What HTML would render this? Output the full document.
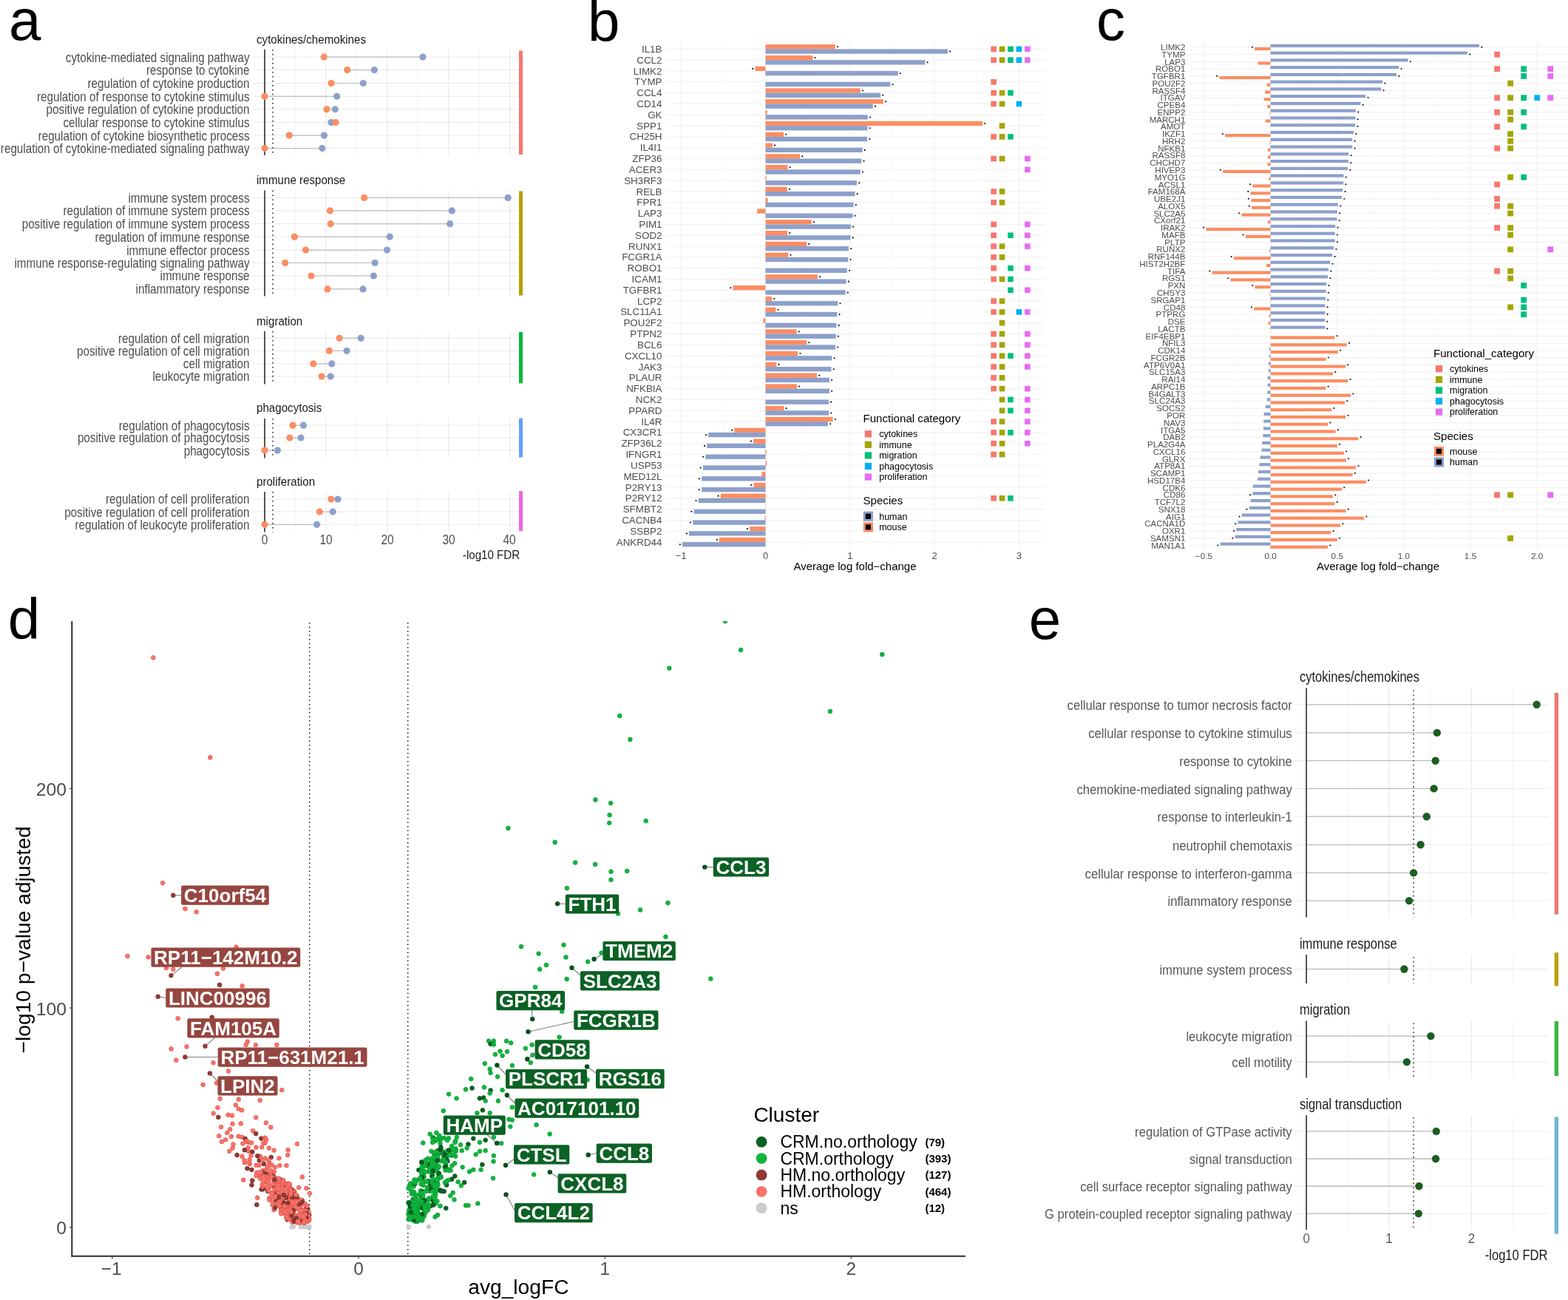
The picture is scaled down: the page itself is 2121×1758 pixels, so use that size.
<!DOCTYPE html>
<html lang="en">
<head>
<meta charset="utf-8">
<title>Figure</title>
<style>
html,body{margin:0;padding:0;background:#fff;}
body{width:2121px;height:1758px;overflow:hidden;}
svg{display:block;font-family:"Liberation Sans", Arial, Helvetica, sans-serif;}
</style>
</head>
<body>
<svg width="2121" height="1758" viewBox="0 0 2121 1758">
<rect width="2121" height="1758" fill="#fff"/>
<g id="panel-a">
<text x="12.1" y="54" font-size="78" fill="#000">a</text>
<line x1="399.5" y1="66" x2="399.5" y2="210" stroke="#EDEDED" stroke-width="0.6"/>
<line x1="441" y1="66" x2="441" y2="210" stroke="#E4E4E4" stroke-width="0.9"/>
<line x1="482.5" y1="66" x2="482.5" y2="210" stroke="#EDEDED" stroke-width="0.6"/>
<line x1="524" y1="66" x2="524" y2="210" stroke="#E4E4E4" stroke-width="0.9"/>
<line x1="565.5" y1="66" x2="565.5" y2="210" stroke="#EDEDED" stroke-width="0.6"/>
<line x1="607" y1="66" x2="607" y2="210" stroke="#E4E4E4" stroke-width="0.9"/>
<line x1="648.5" y1="66" x2="648.5" y2="210" stroke="#EDEDED" stroke-width="0.6"/>
<line x1="690" y1="66" x2="690" y2="210" stroke="#E4E4E4" stroke-width="0.9"/>
<line x1="342" y1="77.1" x2="700" y2="77.1" stroke="#E6E6E6" stroke-width="0.9"/>
<line x1="342" y1="94.6" x2="700" y2="94.6" stroke="#E6E6E6" stroke-width="0.9"/>
<line x1="342" y1="112.5" x2="700" y2="112.5" stroke="#E6E6E6" stroke-width="0.9"/>
<line x1="342" y1="130.3" x2="700" y2="130.3" stroke="#E6E6E6" stroke-width="0.9"/>
<line x1="342" y1="147.8" x2="700" y2="147.8" stroke="#E6E6E6" stroke-width="0.9"/>
<line x1="342" y1="165.6" x2="700" y2="165.6" stroke="#E6E6E6" stroke-width="0.9"/>
<line x1="342" y1="183.1" x2="700" y2="183.1" stroke="#E6E6E6" stroke-width="0.9"/>
<line x1="342" y1="200.6" x2="700" y2="200.6" stroke="#E6E6E6" stroke-width="0.9"/>
<line x1="438.2" y1="77.1" x2="571.9" y2="77.1" stroke="#BDBDBD" stroke-width="1.2"/>
<line x1="469.7" y1="94.6" x2="506.4" y2="94.6" stroke="#BDBDBD" stroke-width="1.2"/>
<line x1="448.1" y1="112.5" x2="491.3" y2="112.5" stroke="#BDBDBD" stroke-width="1.2"/>
<line x1="358" y1="130.3" x2="455.7" y2="130.3" stroke="#BDBDBD" stroke-width="1.2"/>
<line x1="442" y1="147.8" x2="453.3" y2="147.8" stroke="#BDBDBD" stroke-width="1.2"/>
<line x1="448.1" y1="165.6" x2="454" y2="165.6" stroke="#BDBDBD" stroke-width="1.2"/>
<line x1="391.2" y1="183.1" x2="438.5" y2="183.1" stroke="#BDBDBD" stroke-width="1.2"/>
<line x1="358" y1="200.6" x2="435.8" y2="200.6" stroke="#BDBDBD" stroke-width="1.2"/>
<line x1="358" y1="67" x2="358" y2="210" stroke="#2B2B2B" stroke-width="1.6"/>
<line x1="369" y1="67" x2="369" y2="210" stroke="#111111" stroke-width="1.5" stroke-dasharray="1.5 4.5"/>
<circle cx="438.2" cy="77.1" r="4.6" fill="#FC8D62"/>
<circle cx="571.9" cy="77.1" r="4.6" fill="#8DA0CB"/>
<text transform="translate(337.5 83.5) scale(0.86 1)" font-size="17.7" fill="#4D4D4D" text-anchor="end">cytokine-mediated signaling pathway</text>
<circle cx="469.7" cy="94.6" r="4.6" fill="#FC8D62"/>
<circle cx="506.4" cy="94.6" r="4.6" fill="#8DA0CB"/>
<text transform="translate(337.5 101) scale(0.86 1)" font-size="17.7" fill="#4D4D4D" text-anchor="end">response to cytokine</text>
<circle cx="448.1" cy="112.5" r="4.6" fill="#FC8D62"/>
<circle cx="491.3" cy="112.5" r="4.6" fill="#8DA0CB"/>
<text transform="translate(337.5 118.9) scale(0.86 1)" font-size="17.7" fill="#4D4D4D" text-anchor="end">regulation of cytokine production</text>
<circle cx="358" cy="130.3" r="4.6" fill="#FC8D62"/>
<circle cx="455.7" cy="130.3" r="4.6" fill="#8DA0CB"/>
<text transform="translate(337.5 136.7) scale(0.86 1)" font-size="17.7" fill="#4D4D4D" text-anchor="end">regulation of response to cytokine stimulus</text>
<circle cx="442" cy="147.8" r="4.6" fill="#FC8D62"/>
<circle cx="453.3" cy="147.8" r="4.6" fill="#8DA0CB"/>
<text transform="translate(337.5 154.2) scale(0.86 1)" font-size="17.7" fill="#4D4D4D" text-anchor="end">positive regulation of cytokine production</text>
<circle cx="448.1" cy="165.6" r="4.6" fill="#8DA0CB"/>
<circle cx="454" cy="165.6" r="4.6" fill="#FC8D62"/>
<text transform="translate(337.5 172) scale(0.86 1)" font-size="17.7" fill="#4D4D4D" text-anchor="end">cellular response to cytokine stimulus</text>
<circle cx="391.2" cy="183.1" r="4.6" fill="#FC8D62"/>
<circle cx="438.5" cy="183.1" r="4.6" fill="#8DA0CB"/>
<text transform="translate(337.5 189.5) scale(0.86 1)" font-size="17.7" fill="#4D4D4D" text-anchor="end">regulation of cytokine biosynthetic process</text>
<circle cx="358" cy="200.6" r="4.6" fill="#FC8D62"/>
<circle cx="435.8" cy="200.6" r="4.6" fill="#8DA0CB"/>
<text transform="translate(337.5 207) scale(0.86 1)" font-size="17.7" fill="#4D4D4D" text-anchor="end">regulation of cytokine-mediated signaling pathway</text>
<text transform="translate(347 58.6) scale(0.87 1)" font-size="17.4" fill="#1A1A1A">cytokines/chemokines</text>
<rect x="702" y="68.5" width="5" height="140.5" fill="#F8766D"/>
<line x1="399.5" y1="256.5" x2="399.5" y2="400.5" stroke="#EDEDED" stroke-width="0.6"/>
<line x1="441" y1="256.5" x2="441" y2="400.5" stroke="#E4E4E4" stroke-width="0.9"/>
<line x1="482.5" y1="256.5" x2="482.5" y2="400.5" stroke="#EDEDED" stroke-width="0.6"/>
<line x1="524" y1="256.5" x2="524" y2="400.5" stroke="#E4E4E4" stroke-width="0.9"/>
<line x1="565.5" y1="256.5" x2="565.5" y2="400.5" stroke="#EDEDED" stroke-width="0.6"/>
<line x1="607" y1="256.5" x2="607" y2="400.5" stroke="#E4E4E4" stroke-width="0.9"/>
<line x1="648.5" y1="256.5" x2="648.5" y2="400.5" stroke="#EDEDED" stroke-width="0.6"/>
<line x1="690" y1="256.5" x2="690" y2="400.5" stroke="#E4E4E4" stroke-width="0.9"/>
<line x1="342" y1="267.4" x2="700" y2="267.4" stroke="#E6E6E6" stroke-width="0.9"/>
<line x1="342" y1="284.9" x2="700" y2="284.9" stroke="#E6E6E6" stroke-width="0.9"/>
<line x1="342" y1="302.7" x2="700" y2="302.7" stroke="#E6E6E6" stroke-width="0.9"/>
<line x1="342" y1="320.2" x2="700" y2="320.2" stroke="#E6E6E6" stroke-width="0.9"/>
<line x1="342" y1="338.1" x2="700" y2="338.1" stroke="#E6E6E6" stroke-width="0.9"/>
<line x1="342" y1="355.5" x2="700" y2="355.5" stroke="#E6E6E6" stroke-width="0.9"/>
<line x1="342" y1="373" x2="700" y2="373" stroke="#E6E6E6" stroke-width="0.9"/>
<line x1="342" y1="390.9" x2="700" y2="390.9" stroke="#E6E6E6" stroke-width="0.9"/>
<line x1="492.7" y1="267.4" x2="687.1" y2="267.4" stroke="#BDBDBD" stroke-width="1.2"/>
<line x1="446.4" y1="284.9" x2="611.3" y2="284.9" stroke="#BDBDBD" stroke-width="1.2"/>
<line x1="447.1" y1="302.7" x2="608.6" y2="302.7" stroke="#BDBDBD" stroke-width="1.2"/>
<line x1="398.4" y1="320.2" x2="527.3" y2="320.2" stroke="#BDBDBD" stroke-width="1.2"/>
<line x1="413.5" y1="338.1" x2="523.5" y2="338.1" stroke="#BDBDBD" stroke-width="1.2"/>
<line x1="385.7" y1="355.5" x2="507.1" y2="355.5" stroke="#BDBDBD" stroke-width="1.2"/>
<line x1="421" y1="373" x2="505.4" y2="373" stroke="#BDBDBD" stroke-width="1.2"/>
<line x1="443" y1="390.9" x2="491" y2="390.9" stroke="#BDBDBD" stroke-width="1.2"/>
<line x1="358" y1="257.5" x2="358" y2="400.5" stroke="#2B2B2B" stroke-width="1.6"/>
<line x1="369" y1="257.5" x2="369" y2="400.5" stroke="#111111" stroke-width="1.5" stroke-dasharray="1.5 4.5"/>
<circle cx="492.7" cy="267.4" r="4.6" fill="#FC8D62"/>
<circle cx="687.1" cy="267.4" r="4.6" fill="#8DA0CB"/>
<text transform="translate(337.5 273.8) scale(0.86 1)" font-size="17.7" fill="#4D4D4D" text-anchor="end">immune system process</text>
<circle cx="446.4" cy="284.9" r="4.6" fill="#FC8D62"/>
<circle cx="611.3" cy="284.9" r="4.6" fill="#8DA0CB"/>
<text transform="translate(337.5 291.3) scale(0.86 1)" font-size="17.7" fill="#4D4D4D" text-anchor="end">regulation of immune system process</text>
<circle cx="447.1" cy="302.7" r="4.6" fill="#FC8D62"/>
<circle cx="608.6" cy="302.7" r="4.6" fill="#8DA0CB"/>
<text transform="translate(337.5 309.1) scale(0.86 1)" font-size="17.7" fill="#4D4D4D" text-anchor="end">positive regulation of immune system process</text>
<circle cx="398.4" cy="320.2" r="4.6" fill="#FC8D62"/>
<circle cx="527.3" cy="320.2" r="4.6" fill="#8DA0CB"/>
<text transform="translate(337.5 326.6) scale(0.86 1)" font-size="17.7" fill="#4D4D4D" text-anchor="end">regulation of immune response</text>
<circle cx="413.5" cy="338.1" r="4.6" fill="#FC8D62"/>
<circle cx="523.5" cy="338.1" r="4.6" fill="#8DA0CB"/>
<text transform="translate(337.5 344.5) scale(0.86 1)" font-size="17.7" fill="#4D4D4D" text-anchor="end">immune effector process</text>
<circle cx="385.7" cy="355.5" r="4.6" fill="#FC8D62"/>
<circle cx="507.1" cy="355.5" r="4.6" fill="#8DA0CB"/>
<text transform="translate(337.5 361.9) scale(0.86 1)" font-size="17.7" fill="#4D4D4D" text-anchor="end">immune response-regulating signaling pathway</text>
<circle cx="421" cy="373" r="4.6" fill="#FC8D62"/>
<circle cx="505.4" cy="373" r="4.6" fill="#8DA0CB"/>
<text transform="translate(337.5 379.4) scale(0.86 1)" font-size="17.7" fill="#4D4D4D" text-anchor="end">immune response</text>
<circle cx="443" cy="390.9" r="4.6" fill="#FC8D62"/>
<circle cx="491" cy="390.9" r="4.6" fill="#8DA0CB"/>
<text transform="translate(337.5 397.3) scale(0.86 1)" font-size="17.7" fill="#4D4D4D" text-anchor="end">inflammatory response</text>
<text transform="translate(347 249.1) scale(0.87 1)" font-size="17.4" fill="#1A1A1A">immune response</text>
<rect x="702" y="258.5" width="5" height="141" fill="#B79F00"/>
<line x1="399.5" y1="447" x2="399.5" y2="519.5" stroke="#EDEDED" stroke-width="0.6"/>
<line x1="441" y1="447" x2="441" y2="519.5" stroke="#E4E4E4" stroke-width="0.9"/>
<line x1="482.5" y1="447" x2="482.5" y2="519.5" stroke="#EDEDED" stroke-width="0.6"/>
<line x1="524" y1="447" x2="524" y2="519.5" stroke="#E4E4E4" stroke-width="0.9"/>
<line x1="565.5" y1="447" x2="565.5" y2="519.5" stroke="#EDEDED" stroke-width="0.6"/>
<line x1="607" y1="447" x2="607" y2="519.5" stroke="#E4E4E4" stroke-width="0.9"/>
<line x1="648.5" y1="447" x2="648.5" y2="519.5" stroke="#EDEDED" stroke-width="0.6"/>
<line x1="690" y1="447" x2="690" y2="519.5" stroke="#E4E4E4" stroke-width="0.9"/>
<line x1="342" y1="457.3" x2="700" y2="457.3" stroke="#E6E6E6" stroke-width="0.9"/>
<line x1="342" y1="474.4" x2="700" y2="474.4" stroke="#E6E6E6" stroke-width="0.9"/>
<line x1="342" y1="491.9" x2="700" y2="491.9" stroke="#E6E6E6" stroke-width="0.9"/>
<line x1="342" y1="509" x2="700" y2="509" stroke="#E6E6E6" stroke-width="0.9"/>
<line x1="459.1" y1="457.3" x2="488.2" y2="457.3" stroke="#BDBDBD" stroke-width="1.2"/>
<line x1="445.4" y1="474.4" x2="469" y2="474.4" stroke="#BDBDBD" stroke-width="1.2"/>
<line x1="423.8" y1="491.9" x2="448.8" y2="491.9" stroke="#BDBDBD" stroke-width="1.2"/>
<line x1="435.1" y1="509" x2="447.1" y2="509" stroke="#BDBDBD" stroke-width="1.2"/>
<line x1="358" y1="448" x2="358" y2="519.5" stroke="#2B2B2B" stroke-width="1.6"/>
<line x1="369" y1="448" x2="369" y2="519.5" stroke="#111111" stroke-width="1.5" stroke-dasharray="1.5 4.5"/>
<circle cx="459.1" cy="457.3" r="4.6" fill="#FC8D62"/>
<circle cx="488.2" cy="457.3" r="4.6" fill="#8DA0CB"/>
<text transform="translate(337.5 463.7) scale(0.86 1)" font-size="17.7" fill="#4D4D4D" text-anchor="end">regulation of cell migration</text>
<circle cx="445.4" cy="474.4" r="4.6" fill="#FC8D62"/>
<circle cx="469" cy="474.4" r="4.6" fill="#8DA0CB"/>
<text transform="translate(337.5 480.8) scale(0.86 1)" font-size="17.7" fill="#4D4D4D" text-anchor="end">positive regulation of cell migration</text>
<circle cx="423.8" cy="491.9" r="4.6" fill="#FC8D62"/>
<circle cx="448.8" cy="491.9" r="4.6" fill="#8DA0CB"/>
<text transform="translate(337.5 498.3) scale(0.86 1)" font-size="17.7" fill="#4D4D4D" text-anchor="end">cell migration</text>
<circle cx="435.1" cy="509" r="4.6" fill="#FC8D62"/>
<circle cx="447.1" cy="509" r="4.6" fill="#8DA0CB"/>
<text transform="translate(337.5 515.4) scale(0.86 1)" font-size="17.7" fill="#4D4D4D" text-anchor="end">leukocyte migration</text>
<text transform="translate(347 439.6) scale(0.87 1)" font-size="17.4" fill="#1A1A1A">migration</text>
<rect x="702" y="449" width="5" height="69.3" fill="#00BA38"/>
<line x1="399.5" y1="565" x2="399.5" y2="619.5" stroke="#EDEDED" stroke-width="0.6"/>
<line x1="441" y1="565" x2="441" y2="619.5" stroke="#E4E4E4" stroke-width="0.9"/>
<line x1="482.5" y1="565" x2="482.5" y2="619.5" stroke="#EDEDED" stroke-width="0.6"/>
<line x1="524" y1="565" x2="524" y2="619.5" stroke="#E4E4E4" stroke-width="0.9"/>
<line x1="565.5" y1="565" x2="565.5" y2="619.5" stroke="#EDEDED" stroke-width="0.6"/>
<line x1="607" y1="565" x2="607" y2="619.5" stroke="#E4E4E4" stroke-width="0.9"/>
<line x1="648.5" y1="565" x2="648.5" y2="619.5" stroke="#EDEDED" stroke-width="0.6"/>
<line x1="690" y1="565" x2="690" y2="619.5" stroke="#E4E4E4" stroke-width="0.9"/>
<line x1="342" y1="575.2" x2="700" y2="575.2" stroke="#E6E6E6" stroke-width="0.9"/>
<line x1="342" y1="592" x2="700" y2="592" stroke="#E6E6E6" stroke-width="0.9"/>
<line x1="342" y1="609.1" x2="700" y2="609.1" stroke="#E6E6E6" stroke-width="0.9"/>
<line x1="396" y1="575.2" x2="410.4" y2="575.2" stroke="#BDBDBD" stroke-width="1.2"/>
<line x1="391.9" y1="592" x2="407" y2="592" stroke="#BDBDBD" stroke-width="1.2"/>
<line x1="358" y1="609.1" x2="375.4" y2="609.1" stroke="#BDBDBD" stroke-width="1.2"/>
<line x1="358" y1="566" x2="358" y2="619.5" stroke="#2B2B2B" stroke-width="1.6"/>
<line x1="369" y1="566" x2="369" y2="619.5" stroke="#111111" stroke-width="1.5" stroke-dasharray="1.5 4.5"/>
<circle cx="396" cy="575.2" r="4.6" fill="#FC8D62"/>
<circle cx="410.4" cy="575.2" r="4.6" fill="#8DA0CB"/>
<text transform="translate(337.5 581.6) scale(0.86 1)" font-size="17.7" fill="#4D4D4D" text-anchor="end">regulation of phagocytosis</text>
<circle cx="391.9" cy="592" r="4.6" fill="#FC8D62"/>
<circle cx="407" cy="592" r="4.6" fill="#8DA0CB"/>
<text transform="translate(337.5 598.4) scale(0.86 1)" font-size="17.7" fill="#4D4D4D" text-anchor="end">positive regulation of phagocytosis</text>
<circle cx="358" cy="609.1" r="4.6" fill="#FC8D62"/>
<circle cx="375.4" cy="609.1" r="4.6" fill="#8DA0CB"/>
<text transform="translate(337.5 615.5) scale(0.86 1)" font-size="17.7" fill="#4D4D4D" text-anchor="end">phagocytosis</text>
<text transform="translate(347 557.1) scale(0.87 1)" font-size="17.4" fill="#1A1A1A">phagocytosis</text>
<rect x="702" y="565.6" width="5" height="52.8" fill="#619CFF"/>
<line x1="399.5" y1="664" x2="399.5" y2="719.5" stroke="#EDEDED" stroke-width="0.6"/>
<line x1="441" y1="664" x2="441" y2="719.5" stroke="#E4E4E4" stroke-width="0.9"/>
<line x1="482.5" y1="664" x2="482.5" y2="719.5" stroke="#EDEDED" stroke-width="0.6"/>
<line x1="524" y1="664" x2="524" y2="719.5" stroke="#E4E4E4" stroke-width="0.9"/>
<line x1="565.5" y1="664" x2="565.5" y2="719.5" stroke="#EDEDED" stroke-width="0.6"/>
<line x1="607" y1="664" x2="607" y2="719.5" stroke="#E4E4E4" stroke-width="0.9"/>
<line x1="648.5" y1="664" x2="648.5" y2="719.5" stroke="#EDEDED" stroke-width="0.6"/>
<line x1="690" y1="664" x2="690" y2="719.5" stroke="#E4E4E4" stroke-width="0.9"/>
<line x1="342" y1="675" x2="700" y2="675" stroke="#E6E6E6" stroke-width="0.9"/>
<line x1="342" y1="692.1" x2="700" y2="692.1" stroke="#E6E6E6" stroke-width="0.9"/>
<line x1="342" y1="709.3" x2="700" y2="709.3" stroke="#E6E6E6" stroke-width="0.9"/>
<line x1="447.8" y1="675" x2="457" y2="675" stroke="#BDBDBD" stroke-width="1.2"/>
<line x1="432.3" y1="692.1" x2="450.2" y2="692.1" stroke="#BDBDBD" stroke-width="1.2"/>
<line x1="358" y1="709.3" x2="428.6" y2="709.3" stroke="#BDBDBD" stroke-width="1.2"/>
<line x1="358" y1="665" x2="358" y2="719.5" stroke="#2B2B2B" stroke-width="1.6"/>
<line x1="369" y1="665" x2="369" y2="719.5" stroke="#111111" stroke-width="1.5" stroke-dasharray="1.5 4.5"/>
<circle cx="447.8" cy="675" r="4.6" fill="#FC8D62"/>
<circle cx="457" cy="675" r="4.6" fill="#8DA0CB"/>
<text transform="translate(337.5 681.4) scale(0.86 1)" font-size="17.7" fill="#4D4D4D" text-anchor="end">regulation of cell proliferation</text>
<circle cx="432.3" cy="692.1" r="4.6" fill="#FC8D62"/>
<circle cx="450.2" cy="692.1" r="4.6" fill="#8DA0CB"/>
<text transform="translate(337.5 698.5) scale(0.86 1)" font-size="17.7" fill="#4D4D4D" text-anchor="end">positive regulation of cell proliferation</text>
<circle cx="358" cy="709.3" r="4.6" fill="#FC8D62"/>
<circle cx="428.6" cy="709.3" r="4.6" fill="#8DA0CB"/>
<text transform="translate(337.5 715.7) scale(0.86 1)" font-size="17.7" fill="#4D4D4D" text-anchor="end">regulation of leukocyte proliferation</text>
<text transform="translate(347 657.1) scale(0.87 1)" font-size="17.4" fill="#1A1A1A">proliferation</text>
<rect x="702" y="664" width="5" height="54.2" fill="#EE66E2"/>
<text transform="translate(358 735.6) scale(0.85 1)" font-size="18.2" fill="#4D4D4D" text-anchor="middle">0</text>
<text transform="translate(441 735.6) scale(0.85 1)" font-size="18.2" fill="#4D4D4D" text-anchor="middle">10</text>
<text transform="translate(524 735.6) scale(0.85 1)" font-size="18.2" fill="#4D4D4D" text-anchor="middle">20</text>
<text transform="translate(607 735.6) scale(0.85 1)" font-size="18.2" fill="#4D4D4D" text-anchor="middle">30</text>
<text transform="translate(689 735.6) scale(0.85 1)" font-size="18.2" fill="#4D4D4D" text-anchor="middle">40</text>
<text transform="translate(703.2 755.8) scale(0.87 1)" font-size="17.4" fill="#1A1A1A" text-anchor="end">-log10 FDR</text>
</g>
<g id="panel-b">
<text x="794.9" y="55.7" font-size="78" fill="#000">b</text>
<line x1="921.2" y1="56.51" x2="921.2" y2="742.96" stroke="#F0F0F0" stroke-width="1"/>
<line x1="978.35" y1="56.51" x2="978.35" y2="742.96" stroke="#F6F6F6" stroke-width="0.7"/>
<line x1="1035.5" y1="56.51" x2="1035.5" y2="742.96" stroke="#F0F0F0" stroke-width="1"/>
<line x1="1092.65" y1="56.51" x2="1092.65" y2="742.96" stroke="#F6F6F6" stroke-width="0.7"/>
<line x1="1149.8" y1="56.51" x2="1149.8" y2="742.96" stroke="#F0F0F0" stroke-width="1"/>
<line x1="1206.95" y1="56.51" x2="1206.95" y2="742.96" stroke="#F6F6F6" stroke-width="0.7"/>
<line x1="1264.1" y1="56.51" x2="1264.1" y2="742.96" stroke="#F0F0F0" stroke-width="1"/>
<line x1="1321.25" y1="56.51" x2="1321.25" y2="742.96" stroke="#F6F6F6" stroke-width="0.7"/>
<line x1="1378.4" y1="56.51" x2="1378.4" y2="742.96" stroke="#F0F0F0" stroke-width="1"/>
<line x1="901" y1="66.4" x2="1413.5" y2="66.4" stroke="#F0F0F0" stroke-width="1"/>
<line x1="901" y1="81.22" x2="1413.5" y2="81.22" stroke="#F0F0F0" stroke-width="1"/>
<line x1="901" y1="96.03" x2="1413.5" y2="96.03" stroke="#F0F0F0" stroke-width="1"/>
<line x1="901" y1="110.84" x2="1413.5" y2="110.84" stroke="#F0F0F0" stroke-width="1"/>
<line x1="901" y1="125.66" x2="1413.5" y2="125.66" stroke="#F0F0F0" stroke-width="1"/>
<line x1="901" y1="140.48" x2="1413.5" y2="140.48" stroke="#F0F0F0" stroke-width="1"/>
<line x1="901" y1="155.29" x2="1413.5" y2="155.29" stroke="#F0F0F0" stroke-width="1"/>
<line x1="901" y1="170.11" x2="1413.5" y2="170.11" stroke="#F0F0F0" stroke-width="1"/>
<line x1="901" y1="184.92" x2="1413.5" y2="184.92" stroke="#F0F0F0" stroke-width="1"/>
<line x1="901" y1="199.74" x2="1413.5" y2="199.74" stroke="#F0F0F0" stroke-width="1"/>
<line x1="901" y1="214.55" x2="1413.5" y2="214.55" stroke="#F0F0F0" stroke-width="1"/>
<line x1="901" y1="229.37" x2="1413.5" y2="229.37" stroke="#F0F0F0" stroke-width="1"/>
<line x1="901" y1="244.18" x2="1413.5" y2="244.18" stroke="#F0F0F0" stroke-width="1"/>
<line x1="901" y1="259" x2="1413.5" y2="259" stroke="#F0F0F0" stroke-width="1"/>
<line x1="901" y1="273.81" x2="1413.5" y2="273.81" stroke="#F0F0F0" stroke-width="1"/>
<line x1="901" y1="288.62" x2="1413.5" y2="288.62" stroke="#F0F0F0" stroke-width="1"/>
<line x1="901" y1="303.44" x2="1413.5" y2="303.44" stroke="#F0F0F0" stroke-width="1"/>
<line x1="901" y1="318.25" x2="1413.5" y2="318.25" stroke="#F0F0F0" stroke-width="1"/>
<line x1="901" y1="333.07" x2="1413.5" y2="333.07" stroke="#F0F0F0" stroke-width="1"/>
<line x1="901" y1="347.88" x2="1413.5" y2="347.88" stroke="#F0F0F0" stroke-width="1"/>
<line x1="901" y1="362.7" x2="1413.5" y2="362.7" stroke="#F0F0F0" stroke-width="1"/>
<line x1="901" y1="377.51" x2="1413.5" y2="377.51" stroke="#F0F0F0" stroke-width="1"/>
<line x1="901" y1="392.33" x2="1413.5" y2="392.33" stroke="#F0F0F0" stroke-width="1"/>
<line x1="901" y1="407.14" x2="1413.5" y2="407.14" stroke="#F0F0F0" stroke-width="1"/>
<line x1="901" y1="421.96" x2="1413.5" y2="421.96" stroke="#F0F0F0" stroke-width="1"/>
<line x1="901" y1="436.77" x2="1413.5" y2="436.77" stroke="#F0F0F0" stroke-width="1"/>
<line x1="901" y1="451.59" x2="1413.5" y2="451.59" stroke="#F0F0F0" stroke-width="1"/>
<line x1="901" y1="466.4" x2="1413.5" y2="466.4" stroke="#F0F0F0" stroke-width="1"/>
<line x1="901" y1="481.22" x2="1413.5" y2="481.22" stroke="#F0F0F0" stroke-width="1"/>
<line x1="901" y1="496.03" x2="1413.5" y2="496.03" stroke="#F0F0F0" stroke-width="1"/>
<line x1="901" y1="510.85" x2="1413.5" y2="510.85" stroke="#F0F0F0" stroke-width="1"/>
<line x1="901" y1="525.66" x2="1413.5" y2="525.66" stroke="#F0F0F0" stroke-width="1"/>
<line x1="901" y1="540.48" x2="1413.5" y2="540.48" stroke="#F0F0F0" stroke-width="1"/>
<line x1="901" y1="555.29" x2="1413.5" y2="555.29" stroke="#F0F0F0" stroke-width="1"/>
<line x1="901" y1="570.11" x2="1413.5" y2="570.11" stroke="#F0F0F0" stroke-width="1"/>
<line x1="901" y1="584.92" x2="1413.5" y2="584.92" stroke="#F0F0F0" stroke-width="1"/>
<line x1="901" y1="599.74" x2="1413.5" y2="599.74" stroke="#F0F0F0" stroke-width="1"/>
<line x1="901" y1="614.55" x2="1413.5" y2="614.55" stroke="#F0F0F0" stroke-width="1"/>
<line x1="901" y1="629.37" x2="1413.5" y2="629.37" stroke="#F0F0F0" stroke-width="1"/>
<line x1="901" y1="644.18" x2="1413.5" y2="644.18" stroke="#F0F0F0" stroke-width="1"/>
<line x1="901" y1="659" x2="1413.5" y2="659" stroke="#F0F0F0" stroke-width="1"/>
<line x1="901" y1="673.81" x2="1413.5" y2="673.81" stroke="#F0F0F0" stroke-width="1"/>
<line x1="901" y1="688.63" x2="1413.5" y2="688.63" stroke="#F0F0F0" stroke-width="1"/>
<line x1="901" y1="703.44" x2="1413.5" y2="703.44" stroke="#F0F0F0" stroke-width="1"/>
<line x1="901" y1="718.26" x2="1413.5" y2="718.26" stroke="#F0F0F0" stroke-width="1"/>
<line x1="901" y1="733.07" x2="1413.5" y2="733.07" stroke="#F0F0F0" stroke-width="1"/>
<rect x="1035.5" y="60.1" width="94.29" height="6.3" fill="#FC8D62"/>
<circle cx="1132.99" cy="63.25" r="1.05" fill="#000"/>
<rect x="1035.5" y="66.4" width="246.4" height="6.3" fill="#8DA0CB"/>
<circle cx="1285.1" cy="69.55" r="1.05" fill="#000"/>
<rect x="1340.31" y="62.6" width="7.6" height="7.6" fill="#F8766D"/>
<rect x="1351.74" y="62.6" width="7.6" height="7.6" fill="#A3A500"/>
<rect x="1363.17" y="62.6" width="7.6" height="7.6" fill="#00BF7D"/>
<rect x="1374.6" y="62.6" width="7.6" height="7.6" fill="#00B0F6"/>
<rect x="1386.03" y="62.6" width="7.6" height="7.6" fill="#E76BF3"/>
<text x="895.5" y="70.9" font-size="13.4" fill="#4D4D4D" text-anchor="end">IL1B</text>
<rect x="1035.5" y="74.92" width="63.8" height="6.3" fill="#FC8D62"/>
<circle cx="1102.5" cy="78.06" r="1.05" fill="#000"/>
<rect x="1035.5" y="81.22" width="215.91" height="6.3" fill="#8DA0CB"/>
<circle cx="1254.61" cy="84.37" r="1.05" fill="#000"/>
<rect x="1340.31" y="77.42" width="7.6" height="7.6" fill="#F8766D"/>
<rect x="1351.74" y="77.42" width="7.6" height="7.6" fill="#A3A500"/>
<rect x="1363.17" y="77.42" width="7.6" height="7.6" fill="#00BF7D"/>
<rect x="1374.6" y="77.42" width="7.6" height="7.6" fill="#00B0F6"/>
<rect x="1386.03" y="77.42" width="7.6" height="7.6" fill="#E76BF3"/>
<text x="895.5" y="85.72" font-size="13.4" fill="#4D4D4D" text-anchor="end">CCL2</text>
<rect x="1021.36" y="89.73" width="14.14" height="6.3" fill="#FC8D62"/>
<circle cx="1018.16" cy="92.88" r="1.05" fill="#000"/>
<rect x="1035.5" y="96.03" width="179.14" height="6.3" fill="#8DA0CB"/>
<circle cx="1217.84" cy="99.18" r="1.05" fill="#000"/>
<text x="895.5" y="100.53" font-size="13.4" fill="#4D4D4D" text-anchor="end">LIMK2</text>
<rect x="1035.5" y="110.84" width="168.77" height="6.3" fill="#8DA0CB"/>
<circle cx="1207.47" cy="114" r="1.05" fill="#000"/>
<rect x="1340.31" y="107.05" width="7.6" height="7.6" fill="#F8766D"/>
<text x="895.5" y="115.34" font-size="13.4" fill="#4D4D4D" text-anchor="end">TYMP</text>
<rect x="1035.5" y="119.36" width="128.23" height="6.3" fill="#FC8D62"/>
<circle cx="1166.93" cy="122.51" r="1.05" fill="#000"/>
<rect x="1035.5" y="125.66" width="155.57" height="6.3" fill="#8DA0CB"/>
<circle cx="1194.27" cy="128.81" r="1.05" fill="#000"/>
<rect x="1340.31" y="121.86" width="7.6" height="7.6" fill="#F8766D"/>
<rect x="1351.74" y="121.86" width="7.6" height="7.6" fill="#A3A500"/>
<rect x="1363.17" y="121.86" width="7.6" height="7.6" fill="#00BF7D"/>
<text x="895.5" y="130.16" font-size="13.4" fill="#4D4D4D" text-anchor="end">CCL4</text>
<rect x="1035.5" y="134.18" width="159.34" height="6.3" fill="#FC8D62"/>
<circle cx="1198.04" cy="137.33" r="1.05" fill="#000"/>
<rect x="1035.5" y="140.48" width="145.2" height="6.3" fill="#8DA0CB"/>
<circle cx="1183.9" cy="143.63" r="1.05" fill="#000"/>
<rect x="1340.31" y="136.68" width="7.6" height="7.6" fill="#F8766D"/>
<rect x="1351.74" y="136.68" width="7.6" height="7.6" fill="#A3A500"/>
<rect x="1374.6" y="136.68" width="7.6" height="7.6" fill="#00B0F6"/>
<text x="895.5" y="144.98" font-size="13.4" fill="#4D4D4D" text-anchor="end">CD14</text>
<rect x="1035.5" y="148.99" width="2.2" height="6.3" fill="#FC8D62"/>
<rect x="1035.5" y="155.29" width="138.29" height="6.3" fill="#8DA0CB"/>
<circle cx="1176.99" cy="158.44" r="1.05" fill="#000"/>
<text x="895.5" y="159.79" font-size="13.4" fill="#4D4D4D" text-anchor="end">GK</text>
<rect x="1035.5" y="163.81" width="293.54" height="6.3" fill="#FC8D62"/>
<circle cx="1332.24" cy="166.96" r="1.05" fill="#000"/>
<rect x="1035.5" y="170.11" width="137.97" height="6.3" fill="#8DA0CB"/>
<circle cx="1176.67" cy="173.26" r="1.05" fill="#000"/>
<rect x="1351.74" y="166.31" width="7.6" height="7.6" fill="#A3A500"/>
<text x="895.5" y="174.61" font-size="13.4" fill="#4D4D4D" text-anchor="end">SPP1</text>
<rect x="1035.5" y="178.62" width="24.51" height="6.3" fill="#FC8D62"/>
<circle cx="1063.21" cy="181.77" r="1.05" fill="#000"/>
<rect x="1035.5" y="184.92" width="137.66" height="6.3" fill="#8DA0CB"/>
<circle cx="1176.36" cy="188.07" r="1.05" fill="#000"/>
<rect x="1340.31" y="181.12" width="7.6" height="7.6" fill="#F8766D"/>
<rect x="1351.74" y="181.12" width="7.6" height="7.6" fill="#A3A500"/>
<rect x="1363.17" y="181.12" width="7.6" height="7.6" fill="#00BF7D"/>
<text x="895.5" y="189.42" font-size="13.4" fill="#4D4D4D" text-anchor="end">CH25H</text>
<rect x="1035.5" y="193.44" width="9.43" height="6.3" fill="#FC8D62"/>
<circle cx="1048.13" cy="196.59" r="1.05" fill="#000"/>
<rect x="1035.5" y="199.74" width="131.06" height="6.3" fill="#8DA0CB"/>
<circle cx="1169.76" cy="202.89" r="1.05" fill="#000"/>
<text x="895.5" y="204.24" font-size="13.4" fill="#4D4D4D" text-anchor="end">IL4I1</text>
<rect x="1035.5" y="208.25" width="46.51" height="6.3" fill="#FC8D62"/>
<circle cx="1085.21" cy="211.4" r="1.05" fill="#000"/>
<rect x="1035.5" y="214.55" width="129.8" height="6.3" fill="#8DA0CB"/>
<circle cx="1168.5" cy="217.7" r="1.05" fill="#000"/>
<rect x="1340.31" y="210.75" width="7.6" height="7.6" fill="#F8766D"/>
<rect x="1351.74" y="210.75" width="7.6" height="7.6" fill="#A3A500"/>
<rect x="1386.03" y="210.75" width="7.6" height="7.6" fill="#E76BF3"/>
<text x="895.5" y="219.05" font-size="13.4" fill="#4D4D4D" text-anchor="end">ZFP36</text>
<rect x="1035.5" y="223.06" width="29.86" height="6.3" fill="#FC8D62"/>
<circle cx="1068.56" cy="226.22" r="1.05" fill="#000"/>
<rect x="1035.5" y="229.37" width="128.23" height="6.3" fill="#8DA0CB"/>
<circle cx="1166.93" cy="232.52" r="1.05" fill="#000"/>
<rect x="1386.03" y="225.56" width="7.6" height="7.6" fill="#E76BF3"/>
<text x="895.5" y="233.87" font-size="13.4" fill="#4D4D4D" text-anchor="end">ACER3</text>
<rect x="1035.5" y="237.88" width="1.26" height="6.3" fill="#FC8D62"/>
<rect x="1035.5" y="244.18" width="123.51" height="6.3" fill="#8DA0CB"/>
<circle cx="1162.21" cy="247.33" r="1.05" fill="#000"/>
<text x="895.5" y="248.68" font-size="13.4" fill="#4D4D4D" text-anchor="end">SH3RF3</text>
<rect x="1035.5" y="252.69" width="29.23" height="6.3" fill="#FC8D62"/>
<circle cx="1067.93" cy="255.84" r="1.05" fill="#000"/>
<rect x="1035.5" y="259" width="121" height="6.3" fill="#8DA0CB"/>
<circle cx="1159.7" cy="262.14" r="1.05" fill="#000"/>
<rect x="1340.31" y="255.19" width="7.6" height="7.6" fill="#F8766D"/>
<rect x="1351.74" y="255.19" width="7.6" height="7.6" fill="#A3A500"/>
<text x="895.5" y="263.5" font-size="13.4" fill="#4D4D4D" text-anchor="end">RELB</text>
<rect x="1035.5" y="267.51" width="3.14" height="6.3" fill="#FC8D62"/>
<rect x="1035.5" y="273.81" width="119.11" height="6.3" fill="#8DA0CB"/>
<circle cx="1157.81" cy="276.96" r="1.05" fill="#000"/>
<rect x="1340.31" y="270.01" width="7.6" height="7.6" fill="#F8766D"/>
<rect x="1351.74" y="270.01" width="7.6" height="7.6" fill="#A3A500"/>
<text x="895.5" y="278.31" font-size="13.4" fill="#4D4D4D" text-anchor="end">FPR1</text>
<rect x="1024.19" y="282.32" width="11.31" height="6.3" fill="#FC8D62"/>
<rect x="1035.5" y="288.62" width="117.86" height="6.3" fill="#8DA0CB"/>
<circle cx="1156.56" cy="291.77" r="1.05" fill="#000"/>
<text x="895.5" y="293.12" font-size="13.4" fill="#4D4D4D" text-anchor="end">LAP3</text>
<rect x="1035.5" y="297.14" width="62.23" height="6.3" fill="#FC8D62"/>
<circle cx="1100.93" cy="300.29" r="1.05" fill="#000"/>
<rect x="1035.5" y="303.44" width="115.34" height="6.3" fill="#8DA0CB"/>
<circle cx="1154.04" cy="306.59" r="1.05" fill="#000"/>
<rect x="1340.31" y="299.64" width="7.6" height="7.6" fill="#F8766D"/>
<rect x="1386.03" y="299.64" width="7.6" height="7.6" fill="#E76BF3"/>
<text x="895.5" y="307.94" font-size="13.4" fill="#4D4D4D" text-anchor="end">PIM1</text>
<rect x="1035.5" y="311.95" width="29.54" height="6.3" fill="#FC8D62"/>
<circle cx="1068.24" cy="315.11" r="1.05" fill="#000"/>
<rect x="1035.5" y="318.25" width="115.03" height="6.3" fill="#8DA0CB"/>
<circle cx="1153.73" cy="321.4" r="1.05" fill="#000"/>
<rect x="1340.31" y="314.45" width="7.6" height="7.6" fill="#F8766D"/>
<rect x="1363.17" y="314.45" width="7.6" height="7.6" fill="#00BF7D"/>
<rect x="1386.03" y="314.45" width="7.6" height="7.6" fill="#E76BF3"/>
<text x="895.5" y="322.75" font-size="13.4" fill="#4D4D4D" text-anchor="end">SOD2</text>
<rect x="1035.5" y="326.77" width="55.63" height="6.3" fill="#FC8D62"/>
<circle cx="1094.33" cy="329.92" r="1.05" fill="#000"/>
<rect x="1035.5" y="333.07" width="112.51" height="6.3" fill="#8DA0CB"/>
<circle cx="1151.21" cy="336.22" r="1.05" fill="#000"/>
<rect x="1340.31" y="329.27" width="7.6" height="7.6" fill="#F8766D"/>
<rect x="1351.74" y="329.27" width="7.6" height="7.6" fill="#A3A500"/>
<rect x="1386.03" y="329.27" width="7.6" height="7.6" fill="#E76BF3"/>
<text x="895.5" y="337.57" font-size="13.4" fill="#4D4D4D" text-anchor="end">RUNX1</text>
<rect x="1035.5" y="341.58" width="30.8" height="6.3" fill="#FC8D62"/>
<circle cx="1069.5" cy="344.74" r="1.05" fill="#000"/>
<rect x="1035.5" y="347.88" width="111.89" height="6.3" fill="#8DA0CB"/>
<circle cx="1150.59" cy="351.03" r="1.05" fill="#000"/>
<rect x="1340.31" y="344.08" width="7.6" height="7.6" fill="#F8766D"/>
<rect x="1351.74" y="344.08" width="7.6" height="7.6" fill="#A3A500"/>
<text x="895.5" y="352.38" font-size="13.4" fill="#4D4D4D" text-anchor="end">FCGR1A</text>
<rect x="1035.5" y="362.7" width="110.31" height="6.3" fill="#8DA0CB"/>
<circle cx="1149.01" cy="365.85" r="1.05" fill="#000"/>
<rect x="1340.31" y="358.9" width="7.6" height="7.6" fill="#F8766D"/>
<rect x="1363.17" y="358.9" width="7.6" height="7.6" fill="#00BF7D"/>
<rect x="1386.03" y="358.9" width="7.6" height="7.6" fill="#E76BF3"/>
<text x="895.5" y="367.2" font-size="13.4" fill="#4D4D4D" text-anchor="end">ROBO1</text>
<rect x="1035.5" y="371.21" width="70.4" height="6.3" fill="#FC8D62"/>
<circle cx="1109.1" cy="374.37" r="1.05" fill="#000"/>
<rect x="1035.5" y="377.51" width="109.06" height="6.3" fill="#8DA0CB"/>
<circle cx="1147.76" cy="380.66" r="1.05" fill="#000"/>
<rect x="1340.31" y="373.71" width="7.6" height="7.6" fill="#F8766D"/>
<rect x="1351.74" y="373.71" width="7.6" height="7.6" fill="#A3A500"/>
<rect x="1363.17" y="373.71" width="7.6" height="7.6" fill="#00BF7D"/>
<text x="895.5" y="382.01" font-size="13.4" fill="#4D4D4D" text-anchor="end">ICAM1</text>
<rect x="991.5" y="386.03" width="44" height="6.3" fill="#FC8D62"/>
<circle cx="988.3" cy="389.18" r="1.05" fill="#000"/>
<rect x="1035.5" y="392.33" width="108.11" height="6.3" fill="#8DA0CB"/>
<circle cx="1146.81" cy="395.48" r="1.05" fill="#000"/>
<rect x="1363.17" y="388.53" width="7.6" height="7.6" fill="#00BF7D"/>
<rect x="1386.03" y="388.53" width="7.6" height="7.6" fill="#E76BF3"/>
<text x="895.5" y="396.83" font-size="13.4" fill="#4D4D4D" text-anchor="end">TGFBR1</text>
<rect x="1035.5" y="400.84" width="8.49" height="6.3" fill="#FC8D62"/>
<circle cx="1047.19" cy="404" r="1.05" fill="#000"/>
<rect x="1035.5" y="407.14" width="97.74" height="6.3" fill="#8DA0CB"/>
<circle cx="1136.44" cy="410.29" r="1.05" fill="#000"/>
<rect x="1340.31" y="403.34" width="7.6" height="7.6" fill="#F8766D"/>
<rect x="1351.74" y="403.34" width="7.6" height="7.6" fill="#A3A500"/>
<text x="895.5" y="411.64" font-size="13.4" fill="#4D4D4D" text-anchor="end">LCP2</text>
<rect x="1035.5" y="415.66" width="13.83" height="6.3" fill="#FC8D62"/>
<circle cx="1052.53" cy="418.81" r="1.05" fill="#000"/>
<rect x="1035.5" y="421.96" width="96.8" height="6.3" fill="#8DA0CB"/>
<circle cx="1135.5" cy="425.11" r="1.05" fill="#000"/>
<rect x="1340.31" y="418.16" width="7.6" height="7.6" fill="#F8766D"/>
<rect x="1351.74" y="418.16" width="7.6" height="7.6" fill="#A3A500"/>
<rect x="1374.6" y="418.16" width="7.6" height="7.6" fill="#00B0F6"/>
<rect x="1386.03" y="418.16" width="7.6" height="7.6" fill="#E76BF3"/>
<text x="895.5" y="426.46" font-size="13.4" fill="#4D4D4D" text-anchor="end">SLC11A1</text>
<rect x="1032.36" y="430.47" width="3.14" height="6.3" fill="#FC8D62"/>
<rect x="1035.5" y="436.77" width="95.86" height="6.3" fill="#8DA0CB"/>
<circle cx="1134.56" cy="439.92" r="1.05" fill="#000"/>
<rect x="1351.74" y="432.97" width="7.6" height="7.6" fill="#A3A500"/>
<text x="895.5" y="441.27" font-size="13.4" fill="#4D4D4D" text-anchor="end">POU2F2</text>
<rect x="1035.5" y="445.29" width="42.11" height="6.3" fill="#FC8D62"/>
<circle cx="1080.81" cy="448.44" r="1.05" fill="#000"/>
<rect x="1035.5" y="451.59" width="95.23" height="6.3" fill="#8DA0CB"/>
<circle cx="1133.93" cy="454.74" r="1.05" fill="#000"/>
<rect x="1340.31" y="447.79" width="7.6" height="7.6" fill="#F8766D"/>
<rect x="1351.74" y="447.79" width="7.6" height="7.6" fill="#A3A500"/>
<rect x="1386.03" y="447.79" width="7.6" height="7.6" fill="#E76BF3"/>
<text x="895.5" y="456.09" font-size="13.4" fill="#4D4D4D" text-anchor="end">PTPN2</text>
<rect x="1035.5" y="460.1" width="55.63" height="6.3" fill="#FC8D62"/>
<circle cx="1094.33" cy="463.25" r="1.05" fill="#000"/>
<rect x="1035.5" y="466.4" width="94.6" height="6.3" fill="#8DA0CB"/>
<circle cx="1133.3" cy="469.55" r="1.05" fill="#000"/>
<rect x="1340.31" y="462.6" width="7.6" height="7.6" fill="#F8766D"/>
<rect x="1351.74" y="462.6" width="7.6" height="7.6" fill="#A3A500"/>
<rect x="1386.03" y="462.6" width="7.6" height="7.6" fill="#E76BF3"/>
<text x="895.5" y="470.9" font-size="13.4" fill="#4D4D4D" text-anchor="end">BCL6</text>
<rect x="1035.5" y="474.92" width="43.69" height="6.3" fill="#FC8D62"/>
<circle cx="1082.39" cy="478.07" r="1.05" fill="#000"/>
<rect x="1035.5" y="481.22" width="89.89" height="6.3" fill="#8DA0CB"/>
<circle cx="1128.59" cy="484.37" r="1.05" fill="#000"/>
<rect x="1340.31" y="477.42" width="7.6" height="7.6" fill="#F8766D"/>
<rect x="1351.74" y="477.42" width="7.6" height="7.6" fill="#A3A500"/>
<rect x="1363.17" y="477.42" width="7.6" height="7.6" fill="#00BF7D"/>
<rect x="1386.03" y="477.42" width="7.6" height="7.6" fill="#E76BF3"/>
<text x="895.5" y="485.72" font-size="13.4" fill="#4D4D4D" text-anchor="end">CXCL10</text>
<rect x="1035.5" y="489.73" width="14.77" height="6.3" fill="#FC8D62"/>
<circle cx="1053.47" cy="492.88" r="1.05" fill="#000"/>
<rect x="1035.5" y="496.03" width="88.94" height="6.3" fill="#8DA0CB"/>
<circle cx="1127.64" cy="499.18" r="1.05" fill="#000"/>
<rect x="1340.31" y="492.23" width="7.6" height="7.6" fill="#F8766D"/>
<rect x="1351.74" y="492.23" width="7.6" height="7.6" fill="#A3A500"/>
<rect x="1386.03" y="492.23" width="7.6" height="7.6" fill="#E76BF3"/>
<text x="895.5" y="500.53" font-size="13.4" fill="#4D4D4D" text-anchor="end">JAK3</text>
<rect x="1035.5" y="504.55" width="69.46" height="6.3" fill="#FC8D62"/>
<circle cx="1108.16" cy="507.7" r="1.05" fill="#000"/>
<rect x="1035.5" y="510.85" width="86.43" height="6.3" fill="#8DA0CB"/>
<circle cx="1125.13" cy="514" r="1.05" fill="#000"/>
<rect x="1340.31" y="507.05" width="7.6" height="7.6" fill="#F8766D"/>
<rect x="1351.74" y="507.05" width="7.6" height="7.6" fill="#A3A500"/>
<text x="895.5" y="515.35" font-size="13.4" fill="#4D4D4D" text-anchor="end">PLAUR</text>
<rect x="1035.5" y="519.37" width="42.43" height="6.3" fill="#FC8D62"/>
<circle cx="1081.13" cy="522.51" r="1.05" fill="#000"/>
<rect x="1035.5" y="525.66" width="86.43" height="6.3" fill="#8DA0CB"/>
<circle cx="1125.13" cy="528.81" r="1.05" fill="#000"/>
<rect x="1340.31" y="521.87" width="7.6" height="7.6" fill="#F8766D"/>
<rect x="1351.74" y="521.87" width="7.6" height="7.6" fill="#A3A500"/>
<rect x="1386.03" y="521.87" width="7.6" height="7.6" fill="#E76BF3"/>
<text x="895.5" y="530.16" font-size="13.4" fill="#4D4D4D" text-anchor="end">NFKBIA</text>
<rect x="1035.5" y="540.48" width="85.49" height="6.3" fill="#8DA0CB"/>
<circle cx="1124.19" cy="543.63" r="1.05" fill="#000"/>
<rect x="1351.74" y="536.68" width="7.6" height="7.6" fill="#A3A500"/>
<rect x="1363.17" y="536.68" width="7.6" height="7.6" fill="#00BF7D"/>
<rect x="1386.03" y="536.68" width="7.6" height="7.6" fill="#E76BF3"/>
<text x="895.5" y="544.98" font-size="13.4" fill="#4D4D4D" text-anchor="end">NCK2</text>
<rect x="1035.5" y="549" width="24.83" height="6.3" fill="#FC8D62"/>
<circle cx="1063.53" cy="552.14" r="1.05" fill="#000"/>
<rect x="1035.5" y="555.29" width="85.49" height="6.3" fill="#8DA0CB"/>
<circle cx="1124.19" cy="558.44" r="1.05" fill="#000"/>
<rect x="1351.74" y="551.5" width="7.6" height="7.6" fill="#A3A500"/>
<rect x="1363.17" y="551.5" width="7.6" height="7.6" fill="#00BF7D"/>
<rect x="1386.03" y="551.5" width="7.6" height="7.6" fill="#E76BF3"/>
<text x="895.5" y="559.79" font-size="13.4" fill="#4D4D4D" text-anchor="end">PPARD</text>
<rect x="1035.5" y="563.81" width="91.14" height="6.3" fill="#FC8D62"/>
<circle cx="1129.84" cy="566.96" r="1.05" fill="#000"/>
<rect x="1035.5" y="570.11" width="84.54" height="6.3" fill="#8DA0CB"/>
<circle cx="1123.24" cy="573.26" r="1.05" fill="#000"/>
<rect x="1340.31" y="566.31" width="7.6" height="7.6" fill="#F8766D"/>
<rect x="1351.74" y="566.31" width="7.6" height="7.6" fill="#A3A500"/>
<rect x="1386.03" y="566.31" width="7.6" height="7.6" fill="#E76BF3"/>
<text x="895.5" y="574.61" font-size="13.4" fill="#4D4D4D" text-anchor="end">IL4R</text>
<rect x="993.39" y="578.62" width="42.11" height="6.3" fill="#FC8D62"/>
<circle cx="990.19" cy="581.77" r="1.05" fill="#000"/>
<rect x="958.19" y="584.92" width="77.31" height="6.3" fill="#8DA0CB"/>
<circle cx="954.99" cy="588.07" r="1.05" fill="#000"/>
<rect x="1340.31" y="581.12" width="7.6" height="7.6" fill="#F8766D"/>
<rect x="1351.74" y="581.12" width="7.6" height="7.6" fill="#A3A500"/>
<rect x="1363.17" y="581.12" width="7.6" height="7.6" fill="#00BF7D"/>
<rect x="1386.03" y="581.12" width="7.6" height="7.6" fill="#E76BF3"/>
<text x="895.5" y="589.42" font-size="13.4" fill="#4D4D4D" text-anchor="end">CX3CR1</text>
<rect x="1019.16" y="593.44" width="16.34" height="6.3" fill="#FC8D62"/>
<circle cx="1015.96" cy="596.59" r="1.05" fill="#000"/>
<rect x="956.3" y="599.74" width="79.2" height="6.3" fill="#8DA0CB"/>
<circle cx="953.1" cy="602.89" r="1.05" fill="#000"/>
<rect x="1340.31" y="595.94" width="7.6" height="7.6" fill="#F8766D"/>
<rect x="1351.74" y="595.94" width="7.6" height="7.6" fill="#A3A500"/>
<rect x="1386.03" y="595.94" width="7.6" height="7.6" fill="#E76BF3"/>
<text x="895.5" y="604.24" font-size="13.4" fill="#4D4D4D" text-anchor="end">ZFP36L2</text>
<rect x="1035.5" y="608.25" width="1.26" height="6.3" fill="#FC8D62"/>
<rect x="954.41" y="614.55" width="81.09" height="6.3" fill="#8DA0CB"/>
<circle cx="951.21" cy="617.7" r="1.05" fill="#000"/>
<rect x="1340.31" y="610.75" width="7.6" height="7.6" fill="#F8766D"/>
<rect x="1351.74" y="610.75" width="7.6" height="7.6" fill="#A3A500"/>
<text x="895.5" y="619.05" font-size="13.4" fill="#4D4D4D" text-anchor="end">IFNGR1</text>
<rect x="1035.5" y="623.07" width="1.57" height="6.3" fill="#FC8D62"/>
<rect x="950.96" y="629.37" width="84.54" height="6.3" fill="#8DA0CB"/>
<circle cx="947.76" cy="632.52" r="1.05" fill="#000"/>
<text x="895.5" y="633.87" font-size="13.4" fill="#4D4D4D" text-anchor="end">USP53</text>
<rect x="1030.47" y="637.88" width="5.03" height="6.3" fill="#FC8D62"/>
<rect x="949.07" y="644.18" width="86.43" height="6.3" fill="#8DA0CB"/>
<circle cx="945.87" cy="647.33" r="1.05" fill="#000"/>
<text x="895.5" y="648.68" font-size="13.4" fill="#4D4D4D" text-anchor="end">MED12L</text>
<rect x="1019.47" y="652.7" width="16.03" height="6.3" fill="#FC8D62"/>
<circle cx="1016.27" cy="655.85" r="1.05" fill="#000"/>
<rect x="949.07" y="659" width="86.43" height="6.3" fill="#8DA0CB"/>
<circle cx="945.87" cy="662.15" r="1.05" fill="#000"/>
<text x="895.5" y="663.5" font-size="13.4" fill="#4D4D4D" text-anchor="end">P2RY13</text>
<rect x="974.84" y="667.51" width="60.66" height="6.3" fill="#FC8D62"/>
<circle cx="971.64" cy="670.66" r="1.05" fill="#000"/>
<rect x="944.67" y="673.81" width="90.83" height="6.3" fill="#8DA0CB"/>
<circle cx="941.47" cy="676.96" r="1.05" fill="#000"/>
<rect x="1340.31" y="670.01" width="7.6" height="7.6" fill="#F8766D"/>
<rect x="1351.74" y="670.01" width="7.6" height="7.6" fill="#A3A500"/>
<rect x="1363.17" y="670.01" width="7.6" height="7.6" fill="#00BF7D"/>
<text x="895.5" y="678.31" font-size="13.4" fill="#4D4D4D" text-anchor="end">P2RY12</text>
<rect x="1035.5" y="682.33" width="0.31" height="6.3" fill="#FC8D62"/>
<rect x="938.7" y="688.63" width="96.8" height="6.3" fill="#8DA0CB"/>
<circle cx="935.5" cy="691.78" r="1.05" fill="#000"/>
<text x="895.5" y="693.13" font-size="13.4" fill="#4D4D4D" text-anchor="end">SFMBT2</text>
<rect x="1034.56" y="697.14" width="0.94" height="6.3" fill="#FC8D62"/>
<rect x="937.13" y="703.44" width="98.37" height="6.3" fill="#8DA0CB"/>
<circle cx="933.93" cy="706.59" r="1.05" fill="#000"/>
<text x="895.5" y="707.94" font-size="13.4" fill="#4D4D4D" text-anchor="end">CACNB4</text>
<rect x="1014.13" y="711.96" width="21.37" height="6.3" fill="#FC8D62"/>
<circle cx="1010.93" cy="715.11" r="1.05" fill="#000"/>
<rect x="932.1" y="718.26" width="103.4" height="6.3" fill="#8DA0CB"/>
<circle cx="928.9" cy="721.41" r="1.05" fill="#000"/>
<text x="895.5" y="722.76" font-size="13.4" fill="#4D4D4D" text-anchor="end">SSBP2</text>
<rect x="972.96" y="726.77" width="62.54" height="6.3" fill="#FC8D62"/>
<circle cx="969.76" cy="729.92" r="1.05" fill="#000"/>
<rect x="922.99" y="733.07" width="112.51" height="6.3" fill="#8DA0CB"/>
<circle cx="919.79" cy="736.22" r="1.05" fill="#000"/>
<text x="895.5" y="737.57" font-size="13.4" fill="#4D4D4D" text-anchor="end">ANKRD44</text>
<text x="921.2" y="756.3" font-size="13" fill="#4D4D4D" text-anchor="middle">−1</text>
<text x="1035.5" y="756.3" font-size="13" fill="#4D4D4D" text-anchor="middle">0</text>
<text x="1149.8" y="756.3" font-size="13" fill="#4D4D4D" text-anchor="middle">1</text>
<text x="1264.1" y="756.3" font-size="13" fill="#4D4D4D" text-anchor="middle">2</text>
<text x="1378.4" y="756.3" font-size="13" fill="#4D4D4D" text-anchor="middle">3</text>
<text x="1156.5" y="771" font-size="15" fill="#000" text-anchor="middle">Average log fold−change</text>
<text x="1167.5" y="571.2" font-size="15.1" fill="#000">Functional category</text>
<rect x="1169.8" y="582.2" width="9.2" height="9.2" fill="#F8766D"/>
<text x="1189.2" y="591.2" font-size="12.5" fill="#000">cytokines</text>
<rect x="1169.8" y="596.75" width="9.2" height="9.2" fill="#A3A500"/>
<text x="1189.2" y="605.75" font-size="12.5" fill="#000">immune</text>
<rect x="1169.8" y="611.3" width="9.2" height="9.2" fill="#00BF7D"/>
<text x="1189.2" y="620.3" font-size="12.5" fill="#000">migration</text>
<rect x="1169.8" y="625.85" width="9.2" height="9.2" fill="#00B0F6"/>
<text x="1189.2" y="634.85" font-size="12.5" fill="#000">phagocytosis</text>
<rect x="1169.8" y="640.4" width="9.2" height="9.2" fill="#E76BF3"/>
<text x="1189.2" y="649.4" font-size="12.5" fill="#000">proliferation</text>
<text x="1167.5" y="682.4" font-size="15.1" fill="#000">Species</text>
<rect x="1167.8" y="691.6" width="13.2" height="13.2" fill="#8DA0CB"/>
<rect x="1170.8" y="694.6" width="7.2" height="7.2" fill="#000"/>
<text x="1189.2" y="702.6" font-size="12.5" fill="#000">human</text>
<rect x="1167.8" y="706.2" width="13.2" height="13.2" fill="#FC8D62"/>
<rect x="1170.8" y="709.2" width="7.2" height="7.2" fill="#000"/>
<text x="1189.2" y="717.2" font-size="12.5" fill="#000">mouse</text>
</g>
<g id="panel-c">
<text x="1483" y="54" font-size="78" fill="#000">c</text>
<line x1="1628.45" y1="57.04" x2="1628.45" y2="744.54" stroke="#F0F0F0" stroke-width="1"/>
<line x1="1673.52" y1="57.04" x2="1673.52" y2="744.54" stroke="#F7F7F7" stroke-width="0.7"/>
<line x1="1718.6" y1="57.04" x2="1718.6" y2="744.54" stroke="#F0F0F0" stroke-width="1"/>
<line x1="1763.67" y1="57.04" x2="1763.67" y2="744.54" stroke="#F7F7F7" stroke-width="0.7"/>
<line x1="1808.75" y1="57.04" x2="1808.75" y2="744.54" stroke="#F0F0F0" stroke-width="1"/>
<line x1="1853.82" y1="57.04" x2="1853.82" y2="744.54" stroke="#F7F7F7" stroke-width="0.7"/>
<line x1="1898.9" y1="57.04" x2="1898.9" y2="744.54" stroke="#F0F0F0" stroke-width="1"/>
<line x1="1943.97" y1="57.04" x2="1943.97" y2="744.54" stroke="#F7F7F7" stroke-width="0.7"/>
<line x1="1989.05" y1="57.04" x2="1989.05" y2="744.54" stroke="#F0F0F0" stroke-width="1"/>
<line x1="2034.12" y1="57.04" x2="2034.12" y2="744.54" stroke="#F7F7F7" stroke-width="0.7"/>
<line x1="2079.2" y1="57.04" x2="2079.2" y2="744.54" stroke="#F0F0F0" stroke-width="1"/>
<line x1="1609" y1="63.9" x2="2121" y2="63.9" stroke="#F0F0F0" stroke-width="1"/>
<line x1="1609" y1="73.66" x2="2121" y2="73.66" stroke="#F0F0F0" stroke-width="1"/>
<line x1="1609" y1="83.43" x2="2121" y2="83.43" stroke="#F0F0F0" stroke-width="1"/>
<line x1="1609" y1="93.19" x2="2121" y2="93.19" stroke="#F0F0F0" stroke-width="1"/>
<line x1="1609" y1="102.96" x2="2121" y2="102.96" stroke="#F0F0F0" stroke-width="1"/>
<line x1="1609" y1="112.72" x2="2121" y2="112.72" stroke="#F0F0F0" stroke-width="1"/>
<line x1="1609" y1="122.49" x2="2121" y2="122.49" stroke="#F0F0F0" stroke-width="1"/>
<line x1="1609" y1="132.25" x2="2121" y2="132.25" stroke="#F0F0F0" stroke-width="1"/>
<line x1="1609" y1="142.02" x2="2121" y2="142.02" stroke="#F0F0F0" stroke-width="1"/>
<line x1="1609" y1="151.78" x2="2121" y2="151.78" stroke="#F0F0F0" stroke-width="1"/>
<line x1="1609" y1="161.55" x2="2121" y2="161.55" stroke="#F0F0F0" stroke-width="1"/>
<line x1="1609" y1="171.31" x2="2121" y2="171.31" stroke="#F0F0F0" stroke-width="1"/>
<line x1="1609" y1="181.08" x2="2121" y2="181.08" stroke="#F0F0F0" stroke-width="1"/>
<line x1="1609" y1="190.84" x2="2121" y2="190.84" stroke="#F0F0F0" stroke-width="1"/>
<line x1="1609" y1="200.61" x2="2121" y2="200.61" stroke="#F0F0F0" stroke-width="1"/>
<line x1="1609" y1="210.38" x2="2121" y2="210.38" stroke="#F0F0F0" stroke-width="1"/>
<line x1="1609" y1="220.14" x2="2121" y2="220.14" stroke="#F0F0F0" stroke-width="1"/>
<line x1="1609" y1="229.91" x2="2121" y2="229.91" stroke="#F0F0F0" stroke-width="1"/>
<line x1="1609" y1="239.67" x2="2121" y2="239.67" stroke="#F0F0F0" stroke-width="1"/>
<line x1="1609" y1="249.44" x2="2121" y2="249.44" stroke="#F0F0F0" stroke-width="1"/>
<line x1="1609" y1="259.2" x2="2121" y2="259.2" stroke="#F0F0F0" stroke-width="1"/>
<line x1="1609" y1="268.96" x2="2121" y2="268.96" stroke="#F0F0F0" stroke-width="1"/>
<line x1="1609" y1="278.73" x2="2121" y2="278.73" stroke="#F0F0F0" stroke-width="1"/>
<line x1="1609" y1="288.5" x2="2121" y2="288.5" stroke="#F0F0F0" stroke-width="1"/>
<line x1="1609" y1="298.26" x2="2121" y2="298.26" stroke="#F0F0F0" stroke-width="1"/>
<line x1="1609" y1="308.02" x2="2121" y2="308.02" stroke="#F0F0F0" stroke-width="1"/>
<line x1="1609" y1="317.79" x2="2121" y2="317.79" stroke="#F0F0F0" stroke-width="1"/>
<line x1="1609" y1="327.56" x2="2121" y2="327.56" stroke="#F0F0F0" stroke-width="1"/>
<line x1="1609" y1="337.32" x2="2121" y2="337.32" stroke="#F0F0F0" stroke-width="1"/>
<line x1="1609" y1="347.08" x2="2121" y2="347.08" stroke="#F0F0F0" stroke-width="1"/>
<line x1="1609" y1="356.85" x2="2121" y2="356.85" stroke="#F0F0F0" stroke-width="1"/>
<line x1="1609" y1="366.62" x2="2121" y2="366.62" stroke="#F0F0F0" stroke-width="1"/>
<line x1="1609" y1="376.38" x2="2121" y2="376.38" stroke="#F0F0F0" stroke-width="1"/>
<line x1="1609" y1="386.14" x2="2121" y2="386.14" stroke="#F0F0F0" stroke-width="1"/>
<line x1="1609" y1="395.91" x2="2121" y2="395.91" stroke="#F0F0F0" stroke-width="1"/>
<line x1="1609" y1="405.68" x2="2121" y2="405.68" stroke="#F0F0F0" stroke-width="1"/>
<line x1="1609" y1="415.44" x2="2121" y2="415.44" stroke="#F0F0F0" stroke-width="1"/>
<line x1="1609" y1="425.2" x2="2121" y2="425.2" stroke="#F0F0F0" stroke-width="1"/>
<line x1="1609" y1="434.97" x2="2121" y2="434.97" stroke="#F0F0F0" stroke-width="1"/>
<line x1="1609" y1="444.74" x2="2121" y2="444.74" stroke="#F0F0F0" stroke-width="1"/>
<line x1="1609" y1="454.5" x2="2121" y2="454.5" stroke="#F0F0F0" stroke-width="1"/>
<line x1="1609" y1="464.26" x2="2121" y2="464.26" stroke="#F0F0F0" stroke-width="1"/>
<line x1="1609" y1="474.03" x2="2121" y2="474.03" stroke="#F0F0F0" stroke-width="1"/>
<line x1="1609" y1="483.8" x2="2121" y2="483.8" stroke="#F0F0F0" stroke-width="1"/>
<line x1="1609" y1="493.56" x2="2121" y2="493.56" stroke="#F0F0F0" stroke-width="1"/>
<line x1="1609" y1="503.32" x2="2121" y2="503.32" stroke="#F0F0F0" stroke-width="1"/>
<line x1="1609" y1="513.09" x2="2121" y2="513.09" stroke="#F0F0F0" stroke-width="1"/>
<line x1="1609" y1="522.86" x2="2121" y2="522.86" stroke="#F0F0F0" stroke-width="1"/>
<line x1="1609" y1="532.62" x2="2121" y2="532.62" stroke="#F0F0F0" stroke-width="1"/>
<line x1="1609" y1="542.38" x2="2121" y2="542.38" stroke="#F0F0F0" stroke-width="1"/>
<line x1="1609" y1="552.15" x2="2121" y2="552.15" stroke="#F0F0F0" stroke-width="1"/>
<line x1="1609" y1="561.92" x2="2121" y2="561.92" stroke="#F0F0F0" stroke-width="1"/>
<line x1="1609" y1="571.68" x2="2121" y2="571.68" stroke="#F0F0F0" stroke-width="1"/>
<line x1="1609" y1="581.45" x2="2121" y2="581.45" stroke="#F0F0F0" stroke-width="1"/>
<line x1="1609" y1="591.21" x2="2121" y2="591.21" stroke="#F0F0F0" stroke-width="1"/>
<line x1="1609" y1="600.98" x2="2121" y2="600.98" stroke="#F0F0F0" stroke-width="1"/>
<line x1="1609" y1="610.74" x2="2121" y2="610.74" stroke="#F0F0F0" stroke-width="1"/>
<line x1="1609" y1="620.5" x2="2121" y2="620.5" stroke="#F0F0F0" stroke-width="1"/>
<line x1="1609" y1="630.27" x2="2121" y2="630.27" stroke="#F0F0F0" stroke-width="1"/>
<line x1="1609" y1="640.03" x2="2121" y2="640.03" stroke="#F0F0F0" stroke-width="1"/>
<line x1="1609" y1="649.8" x2="2121" y2="649.8" stroke="#F0F0F0" stroke-width="1"/>
<line x1="1609" y1="659.57" x2="2121" y2="659.57" stroke="#F0F0F0" stroke-width="1"/>
<line x1="1609" y1="669.33" x2="2121" y2="669.33" stroke="#F0F0F0" stroke-width="1"/>
<line x1="1609" y1="679.1" x2="2121" y2="679.1" stroke="#F0F0F0" stroke-width="1"/>
<line x1="1609" y1="688.86" x2="2121" y2="688.86" stroke="#F0F0F0" stroke-width="1"/>
<line x1="1609" y1="698.62" x2="2121" y2="698.62" stroke="#F0F0F0" stroke-width="1"/>
<line x1="1609" y1="708.39" x2="2121" y2="708.39" stroke="#F0F0F0" stroke-width="1"/>
<line x1="1609" y1="718.15" x2="2121" y2="718.15" stroke="#F0F0F0" stroke-width="1"/>
<line x1="1609" y1="727.92" x2="2121" y2="727.92" stroke="#F0F0F0" stroke-width="1"/>
<line x1="1609" y1="737.69" x2="2121" y2="737.69" stroke="#F0F0F0" stroke-width="1"/>
<rect x="1718.6" y="59.75" width="282.41" height="4.15" fill="#8DA0CB"/>
<circle cx="2004.31" cy="63.7" r="1" fill="#000"/>
<rect x="1697.21" y="63.9" width="21.39" height="4.15" fill="#FC8D62"/>
<circle cx="1693.91" cy="63.7" r="1" fill="#000"/>
<text x="1603.4" y="68" font-size="11.55" fill="#4D4D4D" text-anchor="end">LIMK2</text>
<rect x="1718.6" y="69.51" width="266.29" height="4.15" fill="#8DA0CB"/>
<circle cx="1988.19" cy="73.46" r="1" fill="#000"/>
<rect x="2021.21" y="69.76" width="7.8" height="7.8" fill="#F8766D"/>
<text x="1603.4" y="77.76" font-size="11.55" fill="#4D4D4D" text-anchor="end">TYMP</text>
<rect x="1718.6" y="79.28" width="186" height="4.15" fill="#8DA0CB"/>
<circle cx="1907.9" cy="83.23" r="1" fill="#000"/>
<rect x="1701.55" y="83.43" width="17.05" height="4.15" fill="#FC8D62"/>
<text x="1603.4" y="87.53" font-size="11.55" fill="#4D4D4D" text-anchor="end">LAP3</text>
<rect x="1718.6" y="89.04" width="173.6" height="4.15" fill="#8DA0CB"/>
<circle cx="1895.5" cy="92.99" r="1" fill="#000"/>
<rect x="2021.21" y="89.29" width="7.8" height="7.8" fill="#F8766D"/>
<rect x="2057.27" y="89.29" width="7.8" height="7.8" fill="#00BF7D"/>
<rect x="2093.33" y="89.29" width="7.8" height="7.8" fill="#E76BF3"/>
<text x="1603.4" y="97.29" font-size="11.55" fill="#4D4D4D" text-anchor="end">ROBO1</text>
<rect x="1718.6" y="98.81" width="170.5" height="4.15" fill="#8DA0CB"/>
<circle cx="1892.4" cy="102.76" r="1" fill="#000"/>
<rect x="1649.47" y="102.96" width="69.13" height="4.15" fill="#FC8D62"/>
<circle cx="1646.17" cy="102.76" r="1" fill="#000"/>
<rect x="2057.27" y="99.06" width="7.8" height="7.8" fill="#00BF7D"/>
<rect x="2093.33" y="99.06" width="7.8" height="7.8" fill="#E76BF3"/>
<text x="1603.4" y="107.06" font-size="11.55" fill="#4D4D4D" text-anchor="end">TGFBR1</text>
<rect x="1718.6" y="108.57" width="151.59" height="4.15" fill="#8DA0CB"/>
<circle cx="1873.49" cy="112.52" r="1" fill="#000"/>
<rect x="1713.64" y="112.72" width="4.96" height="4.15" fill="#FC8D62"/>
<rect x="2039.24" y="108.82" width="7.8" height="7.8" fill="#A3A500"/>
<text x="1603.4" y="116.82" font-size="11.55" fill="#4D4D4D" text-anchor="end">POU2F2</text>
<rect x="1718.6" y="118.34" width="149.73" height="4.15" fill="#8DA0CB"/>
<circle cx="1871.63" cy="122.29" r="1" fill="#000"/>
<rect x="1711.16" y="122.49" width="7.44" height="4.15" fill="#FC8D62"/>
<text x="1603.4" y="126.59" font-size="11.55" fill="#4D4D4D" text-anchor="end">RASSF4</text>
<rect x="1718.6" y="128.1" width="128.65" height="4.15" fill="#8DA0CB"/>
<circle cx="1850.55" cy="132.06" r="1" fill="#000"/>
<rect x="1709.61" y="132.25" width="8.99" height="4.15" fill="#FC8D62"/>
<rect x="2021.21" y="128.35" width="7.8" height="7.8" fill="#F8766D"/>
<rect x="2039.24" y="128.35" width="7.8" height="7.8" fill="#A3A500"/>
<rect x="2057.27" y="128.35" width="7.8" height="7.8" fill="#00BF7D"/>
<rect x="2075.3" y="128.35" width="7.8" height="7.8" fill="#00B0F6"/>
<rect x="2093.33" y="128.35" width="7.8" height="7.8" fill="#E76BF3"/>
<text x="1603.4" y="136.35" font-size="11.55" fill="#4D4D4D" text-anchor="end">ITGAV</text>
<rect x="1718.6" y="137.87" width="121.83" height="4.15" fill="#8DA0CB"/>
<circle cx="1843.73" cy="141.82" r="1" fill="#000"/>
<rect x="1714.26" y="142.02" width="4.34" height="4.15" fill="#FC8D62"/>
<text x="1603.4" y="146.12" font-size="11.55" fill="#4D4D4D" text-anchor="end">CPEB4</text>
<rect x="1718.6" y="147.63" width="115.32" height="4.15" fill="#8DA0CB"/>
<circle cx="1837.22" cy="151.59" r="1" fill="#000"/>
<rect x="1717.67" y="151.78" width="0.93" height="4.15" fill="#FC8D62"/>
<rect x="2021.21" y="147.88" width="7.8" height="7.8" fill="#F8766D"/>
<rect x="2039.24" y="147.88" width="7.8" height="7.8" fill="#A3A500"/>
<rect x="2057.27" y="147.88" width="7.8" height="7.8" fill="#00BF7D"/>
<text x="1603.4" y="155.88" font-size="11.55" fill="#4D4D4D" text-anchor="end">ENPP2</text>
<rect x="1718.6" y="157.4" width="114.7" height="4.15" fill="#8DA0CB"/>
<circle cx="1836.6" cy="161.35" r="1" fill="#000"/>
<rect x="1711.78" y="161.55" width="6.82" height="4.15" fill="#FC8D62"/>
<rect x="2039.24" y="157.65" width="7.8" height="7.8" fill="#A3A500"/>
<text x="1603.4" y="165.65" font-size="11.55" fill="#4D4D4D" text-anchor="end">MARCH1</text>
<rect x="1718.6" y="167.16" width="114.7" height="4.15" fill="#8DA0CB"/>
<circle cx="1836.6" cy="171.12" r="1" fill="#000"/>
<rect x="2021.21" y="167.41" width="7.8" height="7.8" fill="#F8766D"/>
<rect x="2057.27" y="167.41" width="7.8" height="7.8" fill="#00BF7D"/>
<text x="1603.4" y="175.41" font-size="11.55" fill="#4D4D4D" text-anchor="end">AMOT</text>
<rect x="1718.6" y="176.93" width="112.53" height="4.15" fill="#8DA0CB"/>
<circle cx="1834.43" cy="180.88" r="1" fill="#000"/>
<rect x="1657.22" y="181.08" width="61.38" height="4.15" fill="#FC8D62"/>
<circle cx="1653.92" cy="180.88" r="1" fill="#000"/>
<rect x="2039.24" y="177.18" width="7.8" height="7.8" fill="#A3A500"/>
<text x="1603.4" y="185.18" font-size="11.55" fill="#4D4D4D" text-anchor="end">IKZF1</text>
<rect x="1718.6" y="186.69" width="110.67" height="4.15" fill="#8DA0CB"/>
<circle cx="1832.57" cy="190.65" r="1" fill="#000"/>
<rect x="1717.67" y="190.84" width="0.93" height="4.15" fill="#FC8D62"/>
<rect x="2039.24" y="186.94" width="7.8" height="7.8" fill="#A3A500"/>
<text x="1603.4" y="194.94" font-size="11.55" fill="#4D4D4D" text-anchor="end">HRH2</text>
<rect x="1718.6" y="196.46" width="110.67" height="4.15" fill="#8DA0CB"/>
<circle cx="1832.57" cy="200.41" r="1" fill="#000"/>
<rect x="1714.88" y="200.61" width="3.72" height="4.15" fill="#FC8D62"/>
<rect x="2021.21" y="196.71" width="7.8" height="7.8" fill="#F8766D"/>
<rect x="2039.24" y="196.71" width="7.8" height="7.8" fill="#A3A500"/>
<text x="1603.4" y="204.71" font-size="11.55" fill="#4D4D4D" text-anchor="end">NFKB1</text>
<rect x="1718.6" y="206.23" width="105.71" height="4.15" fill="#8DA0CB"/>
<circle cx="1827.61" cy="210.18" r="1" fill="#000"/>
<rect x="1714.88" y="210.38" width="3.72" height="4.15" fill="#FC8D62"/>
<text x="1603.4" y="214.48" font-size="11.55" fill="#4D4D4D" text-anchor="end">RASSF8</text>
<rect x="1718.6" y="215.99" width="105.4" height="4.15" fill="#8DA0CB"/>
<circle cx="1827.3" cy="219.94" r="1" fill="#000"/>
<rect x="1714.57" y="220.14" width="4.03" height="4.15" fill="#FC8D62"/>
<text x="1603.4" y="224.24" font-size="11.55" fill="#4D4D4D" text-anchor="end">CHCHD7</text>
<rect x="1718.6" y="225.75" width="104.47" height="4.15" fill="#8DA0CB"/>
<circle cx="1826.37" cy="229.71" r="1" fill="#000"/>
<rect x="1654.12" y="229.91" width="64.48" height="4.15" fill="#FC8D62"/>
<circle cx="1650.82" cy="229.71" r="1" fill="#000"/>
<text x="1603.4" y="234" font-size="11.55" fill="#4D4D4D" text-anchor="end">HIVEP3</text>
<rect x="1718.6" y="235.52" width="98.89" height="4.15" fill="#8DA0CB"/>
<circle cx="1820.79" cy="239.47" r="1" fill="#000"/>
<rect x="1716.12" y="239.67" width="2.48" height="4.15" fill="#FC8D62"/>
<rect x="2039.24" y="235.77" width="7.8" height="7.8" fill="#A3A500"/>
<rect x="2057.27" y="235.77" width="7.8" height="7.8" fill="#00BF7D"/>
<text x="1603.4" y="243.77" font-size="11.55" fill="#4D4D4D" text-anchor="end">MYO1G</text>
<rect x="1718.6" y="245.29" width="98.58" height="4.15" fill="#8DA0CB"/>
<circle cx="1820.48" cy="249.24" r="1" fill="#000"/>
<rect x="1694.42" y="249.44" width="24.18" height="4.15" fill="#FC8D62"/>
<circle cx="1691.12" cy="249.24" r="1" fill="#000"/>
<rect x="2021.21" y="245.54" width="7.8" height="7.8" fill="#F8766D"/>
<text x="1603.4" y="253.54" font-size="11.55" fill="#4D4D4D" text-anchor="end">ACSL1</text>
<rect x="1718.6" y="255.05" width="97.65" height="4.15" fill="#8DA0CB"/>
<circle cx="1819.55" cy="259" r="1" fill="#000"/>
<rect x="1691.63" y="259.2" width="26.97" height="4.15" fill="#FC8D62"/>
<circle cx="1688.33" cy="259" r="1" fill="#000"/>
<text x="1603.4" y="263.3" font-size="11.55" fill="#4D4D4D" text-anchor="end">FAM168A</text>
<rect x="1718.6" y="264.81" width="96.41" height="4.15" fill="#8DA0CB"/>
<circle cx="1818.31" cy="268.76" r="1" fill="#000"/>
<rect x="1692.25" y="268.96" width="26.35" height="4.15" fill="#FC8D62"/>
<circle cx="1688.95" cy="268.76" r="1" fill="#000"/>
<rect x="2021.21" y="265.06" width="7.8" height="7.8" fill="#F8766D"/>
<text x="1603.4" y="273.06" font-size="11.55" fill="#4D4D4D" text-anchor="end">UBE2J1</text>
<rect x="1718.6" y="274.58" width="91.45" height="4.15" fill="#8DA0CB"/>
<circle cx="1813.35" cy="278.53" r="1" fill="#000"/>
<rect x="1693.18" y="278.73" width="25.42" height="4.15" fill="#FC8D62"/>
<circle cx="1689.88" cy="278.53" r="1" fill="#000"/>
<rect x="2021.21" y="274.83" width="7.8" height="7.8" fill="#F8766D"/>
<rect x="2039.24" y="274.83" width="7.8" height="7.8" fill="#A3A500"/>
<text x="1603.4" y="282.83" font-size="11.55" fill="#4D4D4D" text-anchor="end">ALOX5</text>
<rect x="1718.6" y="284.35" width="90.21" height="4.15" fill="#8DA0CB"/>
<circle cx="1812.11" cy="288.3" r="1" fill="#000"/>
<rect x="1679.54" y="288.5" width="39.06" height="4.15" fill="#FC8D62"/>
<circle cx="1676.24" cy="288.3" r="1" fill="#000"/>
<rect x="2039.24" y="284.6" width="7.8" height="7.8" fill="#A3A500"/>
<text x="1603.4" y="292.6" font-size="11.55" fill="#4D4D4D" text-anchor="end">SLC2A5</text>
<rect x="1718.6" y="294.11" width="89.9" height="4.15" fill="#8DA0CB"/>
<circle cx="1811.8" cy="298.06" r="1" fill="#000"/>
<rect x="1714.88" y="298.26" width="3.72" height="4.15" fill="#FC8D62"/>
<text x="1603.4" y="302.36" font-size="11.55" fill="#4D4D4D" text-anchor="end">CXorf21</text>
<rect x="1718.6" y="303.88" width="87.73" height="4.15" fill="#8DA0CB"/>
<circle cx="1809.63" cy="307.82" r="1" fill="#000"/>
<rect x="1631.49" y="308.02" width="87.11" height="4.15" fill="#FC8D62"/>
<circle cx="1628.19" cy="307.82" r="1" fill="#000"/>
<rect x="2021.21" y="304.12" width="7.8" height="7.8" fill="#F8766D"/>
<rect x="2039.24" y="304.12" width="7.8" height="7.8" fill="#A3A500"/>
<text x="1603.4" y="312.12" font-size="11.55" fill="#4D4D4D" text-anchor="end">IRAK2</text>
<rect x="1718.6" y="313.64" width="87.11" height="4.15" fill="#8DA0CB"/>
<circle cx="1809.01" cy="317.59" r="1" fill="#000"/>
<rect x="1684.81" y="317.79" width="33.79" height="4.15" fill="#FC8D62"/>
<circle cx="1681.51" cy="317.59" r="1" fill="#000"/>
<rect x="2039.24" y="313.89" width="7.8" height="7.8" fill="#A3A500"/>
<text x="1603.4" y="321.89" font-size="11.55" fill="#4D4D4D" text-anchor="end">MAFB</text>
<rect x="1718.6" y="323.41" width="87.11" height="4.15" fill="#8DA0CB"/>
<circle cx="1809.01" cy="327.36" r="1" fill="#000"/>
<text x="1603.4" y="331.66" font-size="11.55" fill="#4D4D4D" text-anchor="end">PLTP</text>
<rect x="1718.6" y="333.17" width="85.56" height="4.15" fill="#8DA0CB"/>
<circle cx="1807.46" cy="337.12" r="1" fill="#000"/>
<rect x="1717.05" y="337.32" width="1.55" height="4.15" fill="#FC8D62"/>
<rect x="2039.24" y="333.42" width="7.8" height="7.8" fill="#A3A500"/>
<rect x="2093.33" y="333.42" width="7.8" height="7.8" fill="#E76BF3"/>
<text x="1603.4" y="341.42" font-size="11.55" fill="#4D4D4D" text-anchor="end">RUNX2</text>
<rect x="1718.6" y="342.94" width="83.7" height="4.15" fill="#8DA0CB"/>
<circle cx="1805.6" cy="346.88" r="1" fill="#000"/>
<rect x="1669" y="347.08" width="49.6" height="4.15" fill="#FC8D62"/>
<circle cx="1665.7" cy="346.88" r="1" fill="#000"/>
<text x="1603.4" y="351.19" font-size="11.55" fill="#4D4D4D" text-anchor="end">RNF144B</text>
<rect x="1718.6" y="352.7" width="80.6" height="4.15" fill="#8DA0CB"/>
<circle cx="1802.5" cy="356.65" r="1" fill="#000"/>
<rect x="1713.02" y="356.85" width="5.58" height="4.15" fill="#FC8D62"/>
<text x="1603.4" y="360.95" font-size="11.55" fill="#4D4D4D" text-anchor="end">HIST2H2BF</text>
<rect x="1718.6" y="362.47" width="78.43" height="4.15" fill="#8DA0CB"/>
<circle cx="1800.33" cy="366.42" r="1" fill="#000"/>
<rect x="1639.55" y="366.62" width="79.05" height="4.15" fill="#FC8D62"/>
<circle cx="1636.25" cy="366.42" r="1" fill="#000"/>
<rect x="2021.21" y="362.72" width="7.8" height="7.8" fill="#F8766D"/>
<rect x="2039.24" y="362.72" width="7.8" height="7.8" fill="#A3A500"/>
<text x="1603.4" y="370.72" font-size="11.55" fill="#4D4D4D" text-anchor="end">TIFA</text>
<rect x="1718.6" y="372.23" width="77.5" height="4.15" fill="#8DA0CB"/>
<circle cx="1799.4" cy="376.18" r="1" fill="#000"/>
<rect x="1664.66" y="376.38" width="53.94" height="4.15" fill="#FC8D62"/>
<circle cx="1661.36" cy="376.18" r="1" fill="#000"/>
<rect x="2039.24" y="372.48" width="7.8" height="7.8" fill="#A3A500"/>
<text x="1603.4" y="380.48" font-size="11.55" fill="#4D4D4D" text-anchor="end">RGS1</text>
<rect x="1718.6" y="382" width="75.64" height="4.15" fill="#8DA0CB"/>
<circle cx="1797.54" cy="385.94" r="1" fill="#000"/>
<rect x="1697.52" y="386.14" width="21.08" height="4.15" fill="#FC8D62"/>
<circle cx="1694.22" cy="385.94" r="1" fill="#000"/>
<rect x="2057.27" y="382.25" width="7.8" height="7.8" fill="#00BF7D"/>
<text x="1603.4" y="390.25" font-size="11.55" fill="#4D4D4D" text-anchor="end">PXN</text>
<rect x="1718.6" y="391.76" width="75.02" height="4.15" fill="#8DA0CB"/>
<circle cx="1796.92" cy="395.71" r="1" fill="#000"/>
<rect x="1717.67" y="395.91" width="0.93" height="4.15" fill="#FC8D62"/>
<text x="1603.4" y="400.01" font-size="11.55" fill="#4D4D4D" text-anchor="end">CHSY3</text>
<rect x="1718.6" y="401.53" width="74.4" height="4.15" fill="#8DA0CB"/>
<circle cx="1796.3" cy="405.48" r="1" fill="#000"/>
<rect x="1717.98" y="405.68" width="0.62" height="4.15" fill="#FC8D62"/>
<rect x="2057.27" y="401.78" width="7.8" height="7.8" fill="#00BF7D"/>
<text x="1603.4" y="409.78" font-size="11.55" fill="#4D4D4D" text-anchor="end">SRGAP1</text>
<rect x="1718.6" y="411.29" width="73.78" height="4.15" fill="#8DA0CB"/>
<circle cx="1795.68" cy="415.24" r="1" fill="#000"/>
<rect x="1696.28" y="415.44" width="22.32" height="4.15" fill="#FC8D62"/>
<circle cx="1692.98" cy="415.24" r="1" fill="#000"/>
<rect x="2039.24" y="411.54" width="7.8" height="7.8" fill="#A3A500"/>
<rect x="2057.27" y="411.54" width="7.8" height="7.8" fill="#00BF7D"/>
<text x="1603.4" y="419.54" font-size="11.55" fill="#4D4D4D" text-anchor="end">CD48</text>
<rect x="1718.6" y="421.06" width="73.78" height="4.15" fill="#8DA0CB"/>
<circle cx="1795.68" cy="425" r="1" fill="#000"/>
<rect x="1716.74" y="425.2" width="1.86" height="4.15" fill="#FC8D62"/>
<rect x="2057.27" y="421.31" width="7.8" height="7.8" fill="#00BF7D"/>
<text x="1603.4" y="429.31" font-size="11.55" fill="#4D4D4D" text-anchor="end">PTPRG</text>
<rect x="1718.6" y="430.82" width="73.47" height="4.15" fill="#8DA0CB"/>
<circle cx="1795.37" cy="434.77" r="1" fill="#000"/>
<rect x="1715.81" y="434.97" width="2.79" height="4.15" fill="#FC8D62"/>
<text x="1603.4" y="439.07" font-size="11.55" fill="#4D4D4D" text-anchor="end">DSE</text>
<rect x="1718.6" y="440.59" width="73.47" height="4.15" fill="#8DA0CB"/>
<circle cx="1795.37" cy="444.54" r="1" fill="#000"/>
<rect x="1718.29" y="444.74" width="0.31" height="4.15" fill="#FC8D62"/>
<text x="1603.4" y="448.84" font-size="11.55" fill="#4D4D4D" text-anchor="end">LACTB</text>
<rect x="1718.6" y="454.5" width="86.8" height="4.15" fill="#FC8D62"/>
<circle cx="1808.7" cy="454.3" r="1" fill="#000"/>
<text x="1603.4" y="458.6" font-size="11.55" fill="#4D4D4D" text-anchor="end">EIF4EBP1</text>
<rect x="1718.6" y="464.26" width="103.23" height="4.15" fill="#FC8D62"/>
<circle cx="1825.13" cy="464.06" r="1" fill="#000"/>
<text x="1603.4" y="468.37" font-size="11.55" fill="#4D4D4D" text-anchor="end">NFIL3</text>
<rect x="1717.05" y="469.88" width="1.55" height="4.15" fill="#8DA0CB"/>
<rect x="1718.6" y="474.03" width="91.14" height="4.15" fill="#FC8D62"/>
<circle cx="1813.04" cy="473.83" r="1" fill="#000"/>
<text x="1603.4" y="478.13" font-size="11.55" fill="#4D4D4D" text-anchor="end">CDK14</text>
<rect x="1716.74" y="479.65" width="1.86" height="4.15" fill="#8DA0CB"/>
<rect x="1718.6" y="483.8" width="75.02" height="4.15" fill="#FC8D62"/>
<circle cx="1796.92" cy="483.6" r="1" fill="#000"/>
<text x="1603.4" y="487.9" font-size="11.55" fill="#4D4D4D" text-anchor="end">FCGR2B</text>
<rect x="1715.81" y="489.41" width="2.79" height="4.15" fill="#8DA0CB"/>
<rect x="1718.6" y="493.56" width="101.37" height="4.15" fill="#FC8D62"/>
<circle cx="1823.27" cy="493.36" r="1" fill="#000"/>
<text x="1603.4" y="497.66" font-size="11.55" fill="#4D4D4D" text-anchor="end">ATP6V0A1</text>
<rect x="1715.81" y="499.18" width="2.79" height="4.15" fill="#8DA0CB"/>
<rect x="1718.6" y="503.32" width="84.32" height="4.15" fill="#FC8D62"/>
<circle cx="1806.22" cy="503.12" r="1" fill="#000"/>
<text x="1603.4" y="507.43" font-size="11.55" fill="#4D4D4D" text-anchor="end">SLC15A3</text>
<rect x="1714.57" y="508.94" width="4.03" height="4.15" fill="#8DA0CB"/>
<rect x="1718.6" y="513.09" width="104.78" height="4.15" fill="#FC8D62"/>
<circle cx="1826.68" cy="512.89" r="1" fill="#000"/>
<text x="1603.4" y="517.19" font-size="11.55" fill="#4D4D4D" text-anchor="end">RAI14</text>
<rect x="1714.57" y="518.71" width="4.03" height="4.15" fill="#8DA0CB"/>
<rect x="1718.6" y="522.86" width="74.71" height="4.15" fill="#FC8D62"/>
<circle cx="1796.61" cy="522.65" r="1" fill="#000"/>
<text x="1603.4" y="526.96" font-size="11.55" fill="#4D4D4D" text-anchor="end">ARPC1B</text>
<rect x="1714.26" y="528.47" width="4.34" height="4.15" fill="#8DA0CB"/>
<rect x="1718.6" y="532.62" width="108.5" height="4.15" fill="#FC8D62"/>
<circle cx="1830.4" cy="532.42" r="1" fill="#000"/>
<text x="1603.4" y="536.72" font-size="11.55" fill="#4D4D4D" text-anchor="end">B4GALT3</text>
<rect x="1713.95" y="538.24" width="4.65" height="4.15" fill="#8DA0CB"/>
<rect x="1718.6" y="542.38" width="100.44" height="4.15" fill="#FC8D62"/>
<circle cx="1822.34" cy="542.18" r="1" fill="#000"/>
<text x="1603.4" y="546.49" font-size="11.55" fill="#4D4D4D" text-anchor="end">SLC24A3</text>
<rect x="1711.78" y="548" width="6.82" height="4.15" fill="#8DA0CB"/>
<rect x="1718.6" y="552.15" width="82.46" height="4.15" fill="#FC8D62"/>
<circle cx="1804.36" cy="551.95" r="1" fill="#000"/>
<text x="1603.4" y="556.25" font-size="11.55" fill="#4D4D4D" text-anchor="end">SOCS2</text>
<rect x="1709.61" y="557.77" width="8.99" height="4.15" fill="#8DA0CB"/>
<rect x="1718.6" y="561.92" width="101.68" height="4.15" fill="#FC8D62"/>
<circle cx="1823.58" cy="561.72" r="1" fill="#000"/>
<text x="1603.4" y="566.02" font-size="11.55" fill="#4D4D4D" text-anchor="end">POR</text>
<rect x="1709.3" y="567.53" width="9.3" height="4.15" fill="#8DA0CB"/>
<rect x="1718.6" y="571.68" width="77.5" height="4.15" fill="#FC8D62"/>
<circle cx="1799.4" cy="571.48" r="1" fill="#000"/>
<text x="1603.4" y="575.78" font-size="11.55" fill="#4D4D4D" text-anchor="end">NAV3</text>
<rect x="1708.99" y="577.3" width="9.61" height="4.15" fill="#8DA0CB"/>
<rect x="1718.6" y="581.45" width="88.04" height="4.15" fill="#FC8D62"/>
<circle cx="1809.94" cy="581.25" r="1" fill="#000"/>
<text x="1603.4" y="585.55" font-size="11.55" fill="#4D4D4D" text-anchor="end">ITGA5</text>
<rect x="1708.37" y="587.06" width="10.23" height="4.15" fill="#8DA0CB"/>
<rect x="1718.6" y="591.21" width="118.73" height="4.15" fill="#FC8D62"/>
<circle cx="1840.63" cy="591.01" r="1" fill="#000"/>
<text x="1603.4" y="595.31" font-size="11.55" fill="#4D4D4D" text-anchor="end">DAB2</text>
<rect x="1707.13" y="596.83" width="11.47" height="4.15" fill="#8DA0CB"/>
<rect x="1718.6" y="600.98" width="90.21" height="4.15" fill="#FC8D62"/>
<circle cx="1812.11" cy="600.77" r="1" fill="#000"/>
<text x="1603.4" y="605.08" font-size="11.55" fill="#4D4D4D" text-anchor="end">PLA2G4A</text>
<rect x="1706.51" y="606.59" width="12.09" height="4.15" fill="#8DA0CB"/>
<rect x="1718.6" y="610.74" width="99.2" height="4.15" fill="#FC8D62"/>
<circle cx="1821.1" cy="610.54" r="1" fill="#000"/>
<text x="1603.4" y="614.84" font-size="11.55" fill="#4D4D4D" text-anchor="end">CXCL16</text>
<rect x="1704.65" y="616.36" width="13.95" height="4.15" fill="#8DA0CB"/>
<rect x="1718.6" y="620.5" width="102.3" height="4.15" fill="#FC8D62"/>
<circle cx="1824.2" cy="620.3" r="1" fill="#000"/>
<text x="1603.4" y="624.61" font-size="11.55" fill="#4D4D4D" text-anchor="end">GLRX</text>
<rect x="1703.41" y="626.12" width="15.19" height="4.15" fill="#8DA0CB"/>
<rect x="1718.6" y="630.27" width="115.63" height="4.15" fill="#FC8D62"/>
<circle cx="1837.53" cy="630.07" r="1" fill="#000"/>
<text x="1603.4" y="634.37" font-size="11.55" fill="#4D4D4D" text-anchor="end">ATP8A1</text>
<rect x="1702.17" y="635.88" width="16.43" height="4.15" fill="#8DA0CB"/>
<rect x="1718.6" y="640.03" width="110.98" height="4.15" fill="#FC8D62"/>
<circle cx="1832.88" cy="639.83" r="1" fill="#000"/>
<text x="1603.4" y="644.13" font-size="11.55" fill="#4D4D4D" text-anchor="end">SCAMP1</text>
<rect x="1701.24" y="645.65" width="17.36" height="4.15" fill="#8DA0CB"/>
<rect x="1718.6" y="649.8" width="129.27" height="4.15" fill="#FC8D62"/>
<circle cx="1851.17" cy="649.6" r="1" fill="#000"/>
<text x="1603.4" y="653.9" font-size="11.55" fill="#4D4D4D" text-anchor="end">HSD17B4</text>
<rect x="1694.73" y="655.42" width="23.87" height="4.15" fill="#8DA0CB"/>
<rect x="1718.6" y="659.57" width="96.41" height="4.15" fill="#FC8D62"/>
<circle cx="1818.31" cy="659.37" r="1" fill="#000"/>
<text x="1603.4" y="663.67" font-size="11.55" fill="#4D4D4D" text-anchor="end">CDK6</text>
<rect x="1694.42" y="665.18" width="24.18" height="4.15" fill="#8DA0CB"/>
<circle cx="1691.12" cy="669.13" r="1" fill="#000"/>
<rect x="1718.6" y="669.33" width="84.32" height="4.15" fill="#FC8D62"/>
<circle cx="1806.22" cy="669.13" r="1" fill="#000"/>
<rect x="2021.21" y="665.43" width="7.8" height="7.8" fill="#F8766D"/>
<rect x="2039.24" y="665.43" width="7.8" height="7.8" fill="#A3A500"/>
<rect x="2093.33" y="665.43" width="7.8" height="7.8" fill="#E76BF3"/>
<text x="1603.4" y="673.43" font-size="11.55" fill="#4D4D4D" text-anchor="end">CD86</text>
<rect x="1691.63" y="674.95" width="26.97" height="4.15" fill="#8DA0CB"/>
<rect x="1718.6" y="679.1" width="86.8" height="4.15" fill="#FC8D62"/>
<circle cx="1808.7" cy="678.89" r="1" fill="#000"/>
<text x="1603.4" y="683.2" font-size="11.55" fill="#4D4D4D" text-anchor="end">TCF7L2</text>
<rect x="1689.77" y="684.71" width="28.83" height="4.15" fill="#8DA0CB"/>
<circle cx="1686.47" cy="688.66" r="1" fill="#000"/>
<rect x="1718.6" y="688.86" width="101.99" height="4.15" fill="#FC8D62"/>
<circle cx="1823.89" cy="688.66" r="1" fill="#000"/>
<text x="1603.4" y="692.96" font-size="11.55" fill="#4D4D4D" text-anchor="end">SNX18</text>
<rect x="1679.85" y="694.48" width="38.75" height="4.15" fill="#8DA0CB"/>
<circle cx="1676.55" cy="698.42" r="1" fill="#000"/>
<rect x="1718.6" y="698.62" width="126.48" height="4.15" fill="#FC8D62"/>
<circle cx="1848.38" cy="698.42" r="1" fill="#000"/>
<text x="1603.4" y="702.73" font-size="11.55" fill="#4D4D4D" text-anchor="end">AIG1</text>
<rect x="1674.58" y="704.24" width="44.02" height="4.15" fill="#8DA0CB"/>
<circle cx="1671.28" cy="708.19" r="1" fill="#000"/>
<rect x="1718.6" y="708.39" width="94.55" height="4.15" fill="#FC8D62"/>
<circle cx="1816.45" cy="708.19" r="1" fill="#000"/>
<text x="1603.4" y="712.49" font-size="11.55" fill="#4D4D4D" text-anchor="end">CACNA1D</text>
<rect x="1672.41" y="714" width="46.19" height="4.15" fill="#8DA0CB"/>
<circle cx="1669.11" cy="717.95" r="1" fill="#000"/>
<rect x="1718.6" y="718.15" width="81.84" height="4.15" fill="#FC8D62"/>
<circle cx="1803.74" cy="717.95" r="1" fill="#000"/>
<text x="1603.4" y="722.25" font-size="11.55" fill="#4D4D4D" text-anchor="end">OXR1</text>
<rect x="1670.55" y="723.77" width="48.05" height="4.15" fill="#8DA0CB"/>
<circle cx="1667.25" cy="727.72" r="1" fill="#000"/>
<rect x="1718.6" y="727.92" width="90.21" height="4.15" fill="#FC8D62"/>
<circle cx="1812.11" cy="727.72" r="1" fill="#000"/>
<rect x="2039.24" y="724.02" width="7.8" height="7.8" fill="#A3A500"/>
<text x="1603.4" y="732.02" font-size="11.55" fill="#4D4D4D" text-anchor="end">SAMSN1</text>
<rect x="1650.71" y="733.54" width="67.89" height="4.15" fill="#8DA0CB"/>
<circle cx="1647.41" cy="737.49" r="1" fill="#000"/>
<rect x="1718.6" y="737.69" width="77.5" height="4.15" fill="#FC8D62"/>
<circle cx="1799.4" cy="737.49" r="1" fill="#000"/>
<text x="1603.4" y="741.79" font-size="11.55" fill="#4D4D4D" text-anchor="end">MAN1A1</text>
<text x="1628.45" y="755.8" font-size="11.8" fill="#4D4D4D" text-anchor="middle">−0.5</text>
<text x="1718.6" y="755.8" font-size="11.8" fill="#4D4D4D" text-anchor="middle">0.0</text>
<text x="1808.75" y="755.8" font-size="11.8" fill="#4D4D4D" text-anchor="middle">0.5</text>
<text x="1898.9" y="755.8" font-size="11.8" fill="#4D4D4D" text-anchor="middle">1.0</text>
<text x="1989.05" y="755.8" font-size="11.8" fill="#4D4D4D" text-anchor="middle">1.5</text>
<text x="2079.2" y="755.8" font-size="11.8" fill="#4D4D4D" text-anchor="middle">2.0</text>
<text x="1864" y="771.3" font-size="15" fill="#000" text-anchor="middle">Average log fold−change</text>
<text x="1939" y="483.3" font-size="15.1" fill="#000">Functional_category</text>
<rect x="1941.9" y="494.1" width="9.2" height="9.2" fill="#F8766D"/>
<text x="1961" y="503.1" font-size="12.5" fill="#000">cytokines</text>
<rect x="1941.9" y="508.68" width="9.2" height="9.2" fill="#A3A500"/>
<text x="1961" y="517.68" font-size="12.5" fill="#000">immune</text>
<rect x="1941.9" y="523.26" width="9.2" height="9.2" fill="#00BF7D"/>
<text x="1961" y="532.26" font-size="12.5" fill="#000">migration</text>
<rect x="1941.9" y="537.84" width="9.2" height="9.2" fill="#00B0F6"/>
<text x="1961" y="546.84" font-size="12.5" fill="#000">phagocytosis</text>
<rect x="1941.9" y="552.42" width="9.2" height="9.2" fill="#E76BF3"/>
<text x="1961" y="561.42" font-size="12.5" fill="#000">proliferation</text>
<text x="1939" y="594.5" font-size="15.1" fill="#000">Species</text>
<rect x="1939.9" y="603.7" width="13.2" height="13.2" fill="#FC8D62"/>
<rect x="1942.9" y="606.7" width="7.2" height="7.2" fill="#000"/>
<text x="1961" y="614.7" font-size="12.5" fill="#000">mouse</text>
<rect x="1939.9" y="618.3" width="13.2" height="13.2" fill="#8DA0CB"/>
<rect x="1942.9" y="621.3" width="7.2" height="7.2" fill="#000"/>
<text x="1961" y="629.3" font-size="12.5" fill="#000">human</text>
</g>
<g id="panel-d">
<text x="10.8" y="863.6" font-size="78" fill="#000">d</text>
<line x1="418.7" y1="842" x2="418.7" y2="1698" stroke="#111" stroke-width="1.5" stroke-dasharray="1.5 4.0"/>
<line x1="551.7" y1="842" x2="551.7" y2="1698" stroke="#111" stroke-width="1.5" stroke-dasharray="1.5 4.0"/>
<circle cx="394.7" cy="1659.3" r="3.2" fill="#CCCCCC"/>
<circle cx="397" cy="1659" r="3.2" fill="#CCCCCC"/>
<circle cx="406.8" cy="1659.3" r="3.2" fill="#CCCCCC"/>
<circle cx="410" cy="1659" r="3.2" fill="#CCCCCC"/>
<circle cx="413.7" cy="1659" r="3.2" fill="#CCCCCC"/>
<circle cx="416" cy="1659.3" r="3.2" fill="#CCCCCC"/>
<circle cx="418.5" cy="1659" r="3.2" fill="#CCCCCC"/>
<circle cx="552.9" cy="1659.4" r="3.2" fill="#CCCCCC"/>
<circle cx="580" cy="1659" r="3.2" fill="#CCCCCC"/>
<circle cx="660.96" cy="1407.75" r="2.9" fill="#10B53D" stroke="#089C2F" stroke-width="0.7"/>
<circle cx="667.85" cy="1407.75" r="2.9" fill="#10B53D" stroke="#089C2F" stroke-width="0.7"/>
<circle cx="663.54" cy="1411.72" r="2.9" fill="#0B6122" stroke="#084A1A" stroke-width="0.7"/>
<circle cx="667.85" cy="1412.41" r="2.9" fill="#10B53D" stroke="#089C2F" stroke-width="0.7"/>
<circle cx="685.08" cy="1407.75" r="2.9" fill="#10B53D" stroke="#089C2F" stroke-width="0.7"/>
<circle cx="691.11" cy="1410.34" r="2.9" fill="#10B53D" stroke="#089C2F" stroke-width="0.7"/>
<circle cx="719.55" cy="1412.92" r="2.9" fill="#10B53D" stroke="#089C2F" stroke-width="0.7"/>
<circle cx="710.93" cy="1417.75" r="2.9" fill="#10B53D" stroke="#089C2F" stroke-width="0.7"/>
<circle cx="756.59" cy="1402.58" r="2.9" fill="#10B53D" stroke="#089C2F" stroke-width="0.7"/>
<circle cx="676.47" cy="1421.54" r="2.9" fill="#10B53D" stroke="#089C2F" stroke-width="0.7"/>
<circle cx="685.94" cy="1422.06" r="2.9" fill="#10B53D" stroke="#089C2F" stroke-width="0.7"/>
<circle cx="669.92" cy="1425.85" r="2.9" fill="#10B53D" stroke="#089C2F" stroke-width="0.7"/>
<circle cx="679.57" cy="1427.57" r="2.9" fill="#10B53D" stroke="#089C2F" stroke-width="0.7"/>
<circle cx="720.41" cy="1426.71" r="2.9" fill="#10B53D" stroke="#089C2F" stroke-width="0.7"/>
<circle cx="717.82" cy="1437.05" r="2.9" fill="#10B53D" stroke="#089C2F" stroke-width="0.7"/>
<circle cx="655.79" cy="1438.25" r="2.9" fill="#10B53D" stroke="#089C2F" stroke-width="0.7"/>
<circle cx="692.84" cy="1440.84" r="2.9" fill="#10B53D" stroke="#089C2F" stroke-width="0.7"/>
<circle cx="662.68" cy="1445.66" r="2.9" fill="#10B53D" stroke="#089C2F" stroke-width="0.7"/>
<circle cx="663.54" cy="1450.83" r="2.9" fill="#10B53D" stroke="#089C2F" stroke-width="0.7"/>
<circle cx="673.02" cy="1456" r="2.9" fill="#10B53D" stroke="#089C2F" stroke-width="0.7"/>
<circle cx="637.18" cy="1458.93" r="2.9" fill="#10B53D" stroke="#089C2F" stroke-width="0.7"/>
<circle cx="794.5" cy="1460.31" r="2.9" fill="#10B53D" stroke="#089C2F" stroke-width="0.7"/>
<circle cx="629.94" cy="1473.23" r="2.9" fill="#10B53D" stroke="#089C2F" stroke-width="0.7"/>
<circle cx="638.56" cy="1471.51" r="2.9" fill="#0B6122" stroke="#084A1A" stroke-width="0.7"/>
<circle cx="654.93" cy="1470.3" r="2.9" fill="#10B53D" stroke="#089C2F" stroke-width="0.7"/>
<circle cx="663.54" cy="1474.44" r="2.9" fill="#0B6122" stroke="#084A1A" stroke-width="0.7"/>
<circle cx="662.68" cy="1478.4" r="2.9" fill="#10B53D" stroke="#089C2F" stroke-width="0.7"/>
<circle cx="679.57" cy="1474.1" r="2.9" fill="#10B53D" stroke="#089C2F" stroke-width="0.7"/>
<circle cx="607.02" cy="1479.61" r="2.9" fill="#10B53D" stroke="#089C2F" stroke-width="0.7"/>
<circle cx="617.54" cy="1485.3" r="2.9" fill="#10B53D" stroke="#089C2F" stroke-width="0.7"/>
<circle cx="648.9" cy="1485.3" r="2.9" fill="#0B6122" stroke="#084A1A" stroke-width="0.7"/>
<circle cx="654.07" cy="1484.43" r="2.9" fill="#0B6122" stroke="#084A1A" stroke-width="0.7"/>
<circle cx="656.65" cy="1488.74" r="2.9" fill="#10B53D" stroke="#089C2F" stroke-width="0.7"/>
<circle cx="673.88" cy="1488.74" r="2.9" fill="#10B53D" stroke="#089C2F" stroke-width="0.7"/>
<circle cx="599.79" cy="1502.18" r="2.9" fill="#10B53D" stroke="#089C2F" stroke-width="0.7"/>
<circle cx="652.86" cy="1501.32" r="2.9" fill="#0B6122" stroke="#084A1A" stroke-width="0.7"/>
<circle cx="692.84" cy="1497.36" r="2.9" fill="#10B53D" stroke="#089C2F" stroke-width="0.7"/>
<circle cx="645.45" cy="1505.11" r="2.9" fill="#10B53D" stroke="#089C2F" stroke-width="0.7"/>
<circle cx="662.68" cy="1505.11" r="2.9" fill="#10B53D" stroke="#089C2F" stroke-width="0.7"/>
<circle cx="688.53" cy="1513.73" r="2.9" fill="#10B53D" stroke="#089C2F" stroke-width="0.7"/>
<circle cx="692.84" cy="1514.59" r="2.9" fill="#10B53D" stroke="#089C2F" stroke-width="0.7"/>
<circle cx="690.25" cy="1523.55" r="2.9" fill="#10B53D" stroke="#089C2F" stroke-width="0.7"/>
<circle cx="725.58" cy="1521.14" r="2.9" fill="#10B53D" stroke="#089C2F" stroke-width="0.7"/>
<circle cx="743.67" cy="1533.54" r="2.9" fill="#10B53D" stroke="#089C2F" stroke-width="0.7"/>
<circle cx="581.69" cy="1533.54" r="2.9" fill="#10B53D" stroke="#089C2F" stroke-width="0.7"/>
<circle cx="590.31" cy="1531.82" r="2.9" fill="#10B53D" stroke="#089C2F" stroke-width="0.7"/>
<circle cx="585.14" cy="1537.85" r="2.9" fill="#10B53D" stroke="#089C2F" stroke-width="0.7"/>
<circle cx="588.59" cy="1543.02" r="2.9" fill="#10B53D" stroke="#089C2F" stroke-width="0.7"/>
<circle cx="572.22" cy="1545.61" r="2.9" fill="#10B53D" stroke="#089C2F" stroke-width="0.7"/>
<circle cx="595.48" cy="1546.47" r="2.9" fill="#10B53D" stroke="#089C2F" stroke-width="0.7"/>
<circle cx="617.88" cy="1537.85" r="2.9" fill="#10B53D" stroke="#089C2F" stroke-width="0.7"/>
<circle cx="616.16" cy="1543.02" r="2.9" fill="#10B53D" stroke="#089C2F" stroke-width="0.7"/>
<circle cx="640.28" cy="1539.57" r="2.9" fill="#0B6122" stroke="#084A1A" stroke-width="0.7"/>
<circle cx="656.65" cy="1541.82" r="2.9" fill="#0B6122" stroke="#084A1A" stroke-width="0.7"/>
<circle cx="678.19" cy="1546.12" r="2.9" fill="#10B53D" stroke="#089C2F" stroke-width="0.7"/>
<circle cx="667.85" cy="1537.85" r="2.9" fill="#10B53D" stroke="#089C2F" stroke-width="0.7"/>
<circle cx="648.9" cy="1544.74" r="2.9" fill="#10B53D" stroke="#089C2F" stroke-width="0.7"/>
<circle cx="633.39" cy="1547.33" r="2.9" fill="#0B6122" stroke="#084A1A" stroke-width="0.7"/>
<circle cx="623.05" cy="1548.19" r="2.9" fill="#10B53D" stroke="#089C2F" stroke-width="0.7"/>
<circle cx="610.99" cy="1549.91" r="2.9" fill="#10B53D" stroke="#089C2F" stroke-width="0.7"/>
<circle cx="583.42" cy="1556.81" r="2.9" fill="#10B53D" stroke="#089C2F" stroke-width="0.7"/>
<circle cx="595.13" cy="1555.6" r="2.9" fill="#0B6122" stroke="#084A1A" stroke-width="0.7"/>
<circle cx="612.71" cy="1555.08" r="2.9" fill="#10B53D" stroke="#089C2F" stroke-width="0.7"/>
<circle cx="624.77" cy="1555.94" r="2.9" fill="#10B53D" stroke="#089C2F" stroke-width="0.7"/>
<circle cx="631.67" cy="1552.5" r="2.9" fill="#10B53D" stroke="#089C2F" stroke-width="0.7"/>
<circle cx="648.9" cy="1556.81" r="2.9" fill="#10B53D" stroke="#089C2F" stroke-width="0.7"/>
<circle cx="656.65" cy="1555.94" r="2.9" fill="#10B53D" stroke="#089C2F" stroke-width="0.7"/>
<circle cx="643.73" cy="1561.11" r="2.9" fill="#10B53D" stroke="#089C2F" stroke-width="0.7"/>
<circle cx="589.45" cy="1561.98" r="2.9" fill="#0B6122" stroke="#084A1A" stroke-width="0.7"/>
<circle cx="600.65" cy="1564.56" r="2.9" fill="#0B6122" stroke="#084A1A" stroke-width="0.7"/>
<circle cx="605.82" cy="1561.11" r="2.9" fill="#10B53D" stroke="#089C2F" stroke-width="0.7"/>
<circle cx="616.16" cy="1563.7" r="2.9" fill="#10B53D" stroke="#089C2F" stroke-width="0.7"/>
<circle cx="667.85" cy="1562.84" r="2.9" fill="#10B53D" stroke="#089C2F" stroke-width="0.7"/>
<circle cx="667.51" cy="1570.59" r="2.9" fill="#10B53D" stroke="#089C2F" stroke-width="0.7"/>
<circle cx="570.49" cy="1572.31" r="2.9" fill="#0B6122" stroke="#084A1A" stroke-width="0.7"/>
<circle cx="577.39" cy="1573.18" r="2.9" fill="#10B53D" stroke="#089C2F" stroke-width="0.7"/>
<circle cx="588.59" cy="1572.31" r="2.9" fill="#10B53D" stroke="#089C2F" stroke-width="0.7"/>
<circle cx="652.34" cy="1574.9" r="2.9" fill="#0B6122" stroke="#084A1A" stroke-width="0.7"/>
<circle cx="625.63" cy="1578.35" r="2.9" fill="#10B53D" stroke="#089C2F" stroke-width="0.7"/>
<circle cx="640.28" cy="1581.79" r="2.9" fill="#10B53D" stroke="#089C2F" stroke-width="0.7"/>
<circle cx="635.11" cy="1584.38" r="2.9" fill="#10B53D" stroke="#089C2F" stroke-width="0.7"/>
<circle cx="650.62" cy="1581.79" r="2.9" fill="#10B53D" stroke="#089C2F" stroke-width="0.7"/>
<circle cx="722.13" cy="1588.34" r="2.9" fill="#10B53D" stroke="#089C2F" stroke-width="0.7"/>
<circle cx="666.99" cy="1593.34" r="2.9" fill="#10B53D" stroke="#089C2F" stroke-width="0.7"/>
<circle cx="610.99" cy="1594.72" r="2.9" fill="#0B6122" stroke="#084A1A" stroke-width="0.7"/>
<circle cx="615.3" cy="1590.41" r="2.9" fill="#0B6122" stroke="#084A1A" stroke-width="0.7"/>
<circle cx="628.22" cy="1599.02" r="2.9" fill="#0B6122" stroke="#084A1A" stroke-width="0.7"/>
<circle cx="623.91" cy="1603.33" r="2.9" fill="#10B53D" stroke="#089C2F" stroke-width="0.7"/>
<circle cx="619.6" cy="1598.16" r="2.9" fill="#10B53D" stroke="#089C2F" stroke-width="0.7"/>
<circle cx="604.1" cy="1602.47" r="2.9" fill="#0B6122" stroke="#084A1A" stroke-width="0.7"/>
<circle cx="600.65" cy="1611.09" r="2.9" fill="#0B6122" stroke="#084A1A" stroke-width="0.7"/>
<circle cx="612.71" cy="1612.81" r="2.9" fill="#10B53D" stroke="#089C2F" stroke-width="0.7"/>
<circle cx="609.26" cy="1617.12" r="2.9" fill="#10B53D" stroke="#089C2F" stroke-width="0.7"/>
<circle cx="614.43" cy="1622.29" r="2.9" fill="#10B53D" stroke="#089C2F" stroke-width="0.7"/>
<circle cx="646.31" cy="1627.46" r="2.9" fill="#10B53D" stroke="#089C2F" stroke-width="0.7"/>
<circle cx="629.94" cy="1630.04" r="2.9" fill="#10B53D" stroke="#089C2F" stroke-width="0.7"/>
<circle cx="633.39" cy="1630.04" r="2.9" fill="#10B53D" stroke="#089C2F" stroke-width="0.7"/>
<circle cx="603.23" cy="1633.83" r="2.9" fill="#0B6122" stroke="#084A1A" stroke-width="0.7"/>
<circle cx="595.48" cy="1630.9" r="2.9" fill="#10B53D" stroke="#089C2F" stroke-width="0.7"/>
<circle cx="592.03" cy="1642.96" r="2.9" fill="#10B53D" stroke="#089C2F" stroke-width="0.7"/>
<circle cx="588.59" cy="1645.55" r="2.9" fill="#10B53D" stroke="#089C2F" stroke-width="0.7"/>
<circle cx="564.46" cy="1651.58" r="2.9" fill="#0B6122" stroke="#084A1A" stroke-width="0.7"/>
<circle cx="570.84" cy="1649.34" r="2.9" fill="#0B6122" stroke="#084A1A" stroke-width="0.7"/>
<circle cx="297.7" cy="1485.81" r="2.9" fill="#F8736A" stroke="#E0584F" stroke-width="0.7"/>
<circle cx="322.69" cy="1486.67" r="2.9" fill="#F8736A" stroke="#E0584F" stroke-width="0.7"/>
<circle cx="351.64" cy="1487.88" r="2.9" fill="#F8736A" stroke="#E0584F" stroke-width="0.7"/>
<circle cx="318.9" cy="1494.43" r="2.9" fill="#F8736A" stroke="#E0584F" stroke-width="0.7"/>
<circle cx="294.43" cy="1497.87" r="2.9" fill="#F8736A" stroke="#E0584F" stroke-width="0.7"/>
<circle cx="322.69" cy="1499.6" r="2.9" fill="#F8736A" stroke="#E0584F" stroke-width="0.7"/>
<circle cx="327.17" cy="1501.32" r="2.9" fill="#F8736A" stroke="#E0584F" stroke-width="0.7"/>
<circle cx="288.74" cy="1505.63" r="2.9" fill="#F8736A" stroke="#E0584F" stroke-width="0.7"/>
<circle cx="295.29" cy="1510.8" r="2.9" fill="#8E3A36" stroke="#742A26" stroke-width="0.7"/>
<circle cx="308.56" cy="1507.7" r="2.9" fill="#F8736A" stroke="#E0584F" stroke-width="0.7"/>
<circle cx="314.07" cy="1508.56" r="2.9" fill="#F8736A" stroke="#E0584F" stroke-width="0.7"/>
<circle cx="346.12" cy="1511.14" r="2.9" fill="#F8736A" stroke="#E0584F" stroke-width="0.7"/>
<circle cx="314.59" cy="1519.76" r="2.9" fill="#F8736A" stroke="#E0584F" stroke-width="0.7"/>
<circle cx="325.79" cy="1519.41" r="2.9" fill="#F8736A" stroke="#E0584F" stroke-width="0.7"/>
<circle cx="359.91" cy="1518.38" r="2.9" fill="#F8736A" stroke="#E0584F" stroke-width="0.7"/>
<circle cx="366.28" cy="1524.41" r="2.9" fill="#F8736A" stroke="#E0584F" stroke-width="0.7"/>
<circle cx="299.08" cy="1524.07" r="2.9" fill="#F8736A" stroke="#E0584F" stroke-width="0.7"/>
<circle cx="311.14" cy="1527.17" r="2.9" fill="#F8736A" stroke="#E0584F" stroke-width="0.7"/>
<circle cx="307.18" cy="1531.82" r="2.9" fill="#F8736A" stroke="#E0584F" stroke-width="0.7"/>
<circle cx="342.16" cy="1529.24" r="2.9" fill="#F8736A" stroke="#E0584F" stroke-width="0.7"/>
<circle cx="346.12" cy="1533.03" r="2.9" fill="#8E3A36" stroke="#742A26" stroke-width="0.7"/>
<circle cx="296.15" cy="1536.13" r="2.9" fill="#F8736A" stroke="#E0584F" stroke-width="0.7"/>
<circle cx="312.87" cy="1536.99" r="2.9" fill="#F8736A" stroke="#E0584F" stroke-width="0.7"/>
<circle cx="322.69" cy="1536.65" r="2.9" fill="#F8736A" stroke="#E0584F" stroke-width="0.7"/>
<circle cx="327.51" cy="1537.85" r="2.9" fill="#F8736A" stroke="#E0584F" stroke-width="0.7"/>
<circle cx="331.82" cy="1539.92" r="2.9" fill="#8E3A36" stroke="#742A26" stroke-width="0.7"/>
<circle cx="353.36" cy="1539.57" r="2.9" fill="#8E3A36" stroke="#742A26" stroke-width="0.7"/>
<circle cx="358.53" cy="1538.71" r="2.9" fill="#F8736A" stroke="#E0584F" stroke-width="0.7"/>
<circle cx="299.94" cy="1543.88" r="2.9" fill="#F8736A" stroke="#E0584F" stroke-width="0.7"/>
<circle cx="305.11" cy="1541.3" r="2.9" fill="#F8736A" stroke="#E0584F" stroke-width="0.7"/>
<circle cx="315.45" cy="1547.33" r="2.9" fill="#F8736A" stroke="#E0584F" stroke-width="0.7"/>
<circle cx="328.37" cy="1546.47" r="2.9" fill="#F8736A" stroke="#E0584F" stroke-width="0.7"/>
<circle cx="333.54" cy="1543.88" r="2.9" fill="#F8736A" stroke="#E0584F" stroke-width="0.7"/>
<circle cx="358.53" cy="1545.61" r="2.9" fill="#F8736A" stroke="#E0584F" stroke-width="0.7"/>
<circle cx="401.95" cy="1546.81" r="2.9" fill="#F8736A" stroke="#E0584F" stroke-width="0.7"/>
<circle cx="314.59" cy="1552.5" r="2.9" fill="#F8736A" stroke="#E0584F" stroke-width="0.7"/>
<circle cx="310.28" cy="1556.81" r="2.9" fill="#F8736A" stroke="#E0584F" stroke-width="0.7"/>
<circle cx="346.47" cy="1551.64" r="2.9" fill="#F8736A" stroke="#E0584F" stroke-width="0.7"/>
<circle cx="354.22" cy="1551.29" r="2.9" fill="#F8736A" stroke="#E0584F" stroke-width="0.7"/>
<circle cx="370.59" cy="1555.6" r="2.9" fill="#F8736A" stroke="#E0584F" stroke-width="0.7"/>
<circle cx="389.55" cy="1555.08" r="2.9" fill="#F8736A" stroke="#E0584F" stroke-width="0.7"/>
<circle cx="320.62" cy="1561.98" r="2.9" fill="#8E3A36" stroke="#742A26" stroke-width="0.7"/>
<circle cx="327.51" cy="1563.7" r="2.9" fill="#F8736A" stroke="#E0584F" stroke-width="0.7"/>
<circle cx="336.13" cy="1556.81" r="2.9" fill="#F8736A" stroke="#E0584F" stroke-width="0.7"/>
<circle cx="341.3" cy="1557.67" r="2.9" fill="#8E3A36" stroke="#742A26" stroke-width="0.7"/>
<circle cx="339.57" cy="1562.84" r="2.9" fill="#F8736A" stroke="#E0584F" stroke-width="0.7"/>
<circle cx="351.64" cy="1563.7" r="2.9" fill="#F8736A" stroke="#E0584F" stroke-width="0.7"/>
<circle cx="358.53" cy="1566.28" r="2.9" fill="#F8736A" stroke="#E0584F" stroke-width="0.7"/>
<circle cx="366.8" cy="1564.91" r="2.9" fill="#8E3A36" stroke="#742A26" stroke-width="0.7"/>
<circle cx="377.48" cy="1566.28" r="2.9" fill="#F8736A" stroke="#E0584F" stroke-width="0.7"/>
<circle cx="389.2" cy="1561.98" r="2.9" fill="#F8736A" stroke="#E0584F" stroke-width="0.7"/>
<circle cx="350.78" cy="1569.21" r="2.9" fill="#8E3A36" stroke="#742A26" stroke-width="0.7"/>
<circle cx="330.96" cy="1572.31" r="2.9" fill="#F8736A" stroke="#E0584F" stroke-width="0.7"/>
<circle cx="337.85" cy="1574.04" r="2.9" fill="#F8736A" stroke="#E0584F" stroke-width="0.7"/>
<circle cx="346.47" cy="1575.76" r="2.9" fill="#F8736A" stroke="#E0584F" stroke-width="0.7"/>
<circle cx="378.35" cy="1576.11" r="2.9" fill="#F8736A" stroke="#E0584F" stroke-width="0.7"/>
<circle cx="387.48" cy="1576.11" r="2.9" fill="#F8736A" stroke="#E0584F" stroke-width="0.7"/>
<circle cx="334.41" cy="1580.07" r="2.9" fill="#8E3A36" stroke="#742A26" stroke-width="0.7"/>
<circle cx="329.24" cy="1595.58" r="2.9" fill="#F8736A" stroke="#E0584F" stroke-width="0.7"/>
<circle cx="341.3" cy="1596.44" r="2.9" fill="#8E3A36" stroke="#742A26" stroke-width="0.7"/>
<circle cx="340.44" cy="1602.47" r="2.9" fill="#8E3A36" stroke="#742A26" stroke-width="0.7"/>
<circle cx="408.85" cy="1591.61" r="2.9" fill="#F8736A" stroke="#E0584F" stroke-width="0.7"/>
<circle cx="404.19" cy="1605.92" r="2.9" fill="#F8736A" stroke="#E0584F" stroke-width="0.7"/>
<circle cx="398.16" cy="1611.09" r="2.9" fill="#F8736A" stroke="#E0584F" stroke-width="0.7"/>
<circle cx="414.53" cy="1606.78" r="2.9" fill="#F8736A" stroke="#E0584F" stroke-width="0.7"/>
<circle cx="418.84" cy="1613.67" r="2.9" fill="#F8736A" stroke="#E0584F" stroke-width="0.7"/>
<circle cx="348.19" cy="1619.7" r="2.9" fill="#F8736A" stroke="#E0584F" stroke-width="0.7"/>
<circle cx="347.33" cy="1629.18" r="2.9" fill="#8E3A36" stroke="#742A26" stroke-width="0.7"/>
<circle cx="370.59" cy="1636.07" r="2.9" fill="#F8736A" stroke="#E0584F" stroke-width="0.7"/>
<circle cx="388.68" cy="1649.34" r="2.9" fill="#8E3A36" stroke="#742A26" stroke-width="0.7"/>
<circle cx="364.04" cy="1571.48" r="2.9" fill="#F8736A" stroke="#E0584F" stroke-width="0.7"/>
<circle cx="586.84" cy="1541.33" r="2.9" fill="#10B53D" stroke="#089C2F" stroke-width="0.7"/>
<circle cx="600" cy="1566.23" r="2.9" fill="#10B53D" stroke="#089C2F" stroke-width="0.7"/>
<circle cx="407.56" cy="1626.52" r="2.9" fill="#F8736A" stroke="#E0584F" stroke-width="0.7"/>
<circle cx="556.82" cy="1643.05" r="2.9" fill="#10B53D" stroke="#089C2F" stroke-width="0.7"/>
<circle cx="361.27" cy="1591.27" r="2.9" fill="#F8736A" stroke="#E0584F" stroke-width="0.7"/>
<circle cx="585.66" cy="1597.41" r="2.9" fill="#10B53D" stroke="#089C2F" stroke-width="0.7"/>
<circle cx="355.8" cy="1587.66" r="2.9" fill="#8E3A36" stroke="#742A26" stroke-width="0.7"/>
<circle cx="585.23" cy="1587.01" r="2.9" fill="#10B53D" stroke="#089C2F" stroke-width="0.7"/>
<circle cx="560.01" cy="1642.02" r="2.9" fill="#10B53D" stroke="#089C2F" stroke-width="0.7"/>
<circle cx="405.93" cy="1625.7" r="2.9" fill="#F8736A" stroke="#E0584F" stroke-width="0.7"/>
<circle cx="407.06" cy="1647.41" r="2.9" fill="#F8736A" stroke="#E0584F" stroke-width="0.7"/>
<circle cx="382.71" cy="1624.66" r="2.9" fill="#8E3A36" stroke="#742A26" stroke-width="0.7"/>
<circle cx="401.49" cy="1650.7" r="2.9" fill="#8E3A36" stroke="#742A26" stroke-width="0.7"/>
<circle cx="601.57" cy="1578.57" r="2.9" fill="#10B53D" stroke="#089C2F" stroke-width="0.7"/>
<circle cx="377.95" cy="1600.83" r="2.9" fill="#F8736A" stroke="#E0584F" stroke-width="0.7"/>
<circle cx="579.69" cy="1630.11" r="2.9" fill="#10B53D" stroke="#089C2F" stroke-width="0.7"/>
<circle cx="395.46" cy="1630.13" r="2.9" fill="#F8736A" stroke="#E0584F" stroke-width="0.7"/>
<circle cx="560.82" cy="1631.25" r="2.9" fill="#10B53D" stroke="#089C2F" stroke-width="0.7"/>
<circle cx="415.33" cy="1633.82" r="2.9" fill="#8E3A36" stroke="#742A26" stroke-width="0.7"/>
<circle cx="414.18" cy="1648.86" r="2.9" fill="#F8736A" stroke="#E0584F" stroke-width="0.7"/>
<circle cx="400.71" cy="1649.78" r="2.9" fill="#F8736A" stroke="#E0584F" stroke-width="0.7"/>
<circle cx="571.75" cy="1616.93" r="2.9" fill="#10B53D" stroke="#089C2F" stroke-width="0.7"/>
<circle cx="393.49" cy="1637.28" r="2.9" fill="#8E3A36" stroke="#742A26" stroke-width="0.7"/>
<circle cx="552.71" cy="1648.72" r="2.9" fill="#10B53D" stroke="#089C2F" stroke-width="0.7"/>
<circle cx="352.41" cy="1592.17" r="2.9" fill="#F8736A" stroke="#E0584F" stroke-width="0.7"/>
<circle cx="392.7" cy="1614.16" r="2.9" fill="#F8736A" stroke="#E0584F" stroke-width="0.7"/>
<circle cx="399.12" cy="1649.08" r="2.9" fill="#F8736A" stroke="#E0584F" stroke-width="0.7"/>
<circle cx="411.42" cy="1639.75" r="2.9" fill="#F8736A" stroke="#E0584F" stroke-width="0.7"/>
<circle cx="370.55" cy="1595.61" r="2.9" fill="#F8736A" stroke="#E0584F" stroke-width="0.7"/>
<circle cx="570.71" cy="1645.43" r="2.9" fill="#10B53D" stroke="#089C2F" stroke-width="0.7"/>
<circle cx="575.81" cy="1634.29" r="2.9" fill="#10B53D" stroke="#089C2F" stroke-width="0.7"/>
<circle cx="572.53" cy="1633.76" r="2.9" fill="#10B53D" stroke="#089C2F" stroke-width="0.7"/>
<circle cx="565.41" cy="1643.05" r="2.9" fill="#10B53D" stroke="#089C2F" stroke-width="0.7"/>
<circle cx="408.88" cy="1641.19" r="2.9" fill="#F8736A" stroke="#E0584F" stroke-width="0.7"/>
<circle cx="554.5" cy="1638.49" r="2.9" fill="#10B53D" stroke="#089C2F" stroke-width="0.7"/>
<circle cx="408.79" cy="1648.59" r="2.9" fill="#F8736A" stroke="#E0584F" stroke-width="0.7"/>
<circle cx="373.75" cy="1622.06" r="2.9" fill="#8E3A36" stroke="#742A26" stroke-width="0.7"/>
<circle cx="553.55" cy="1626.86" r="2.9" fill="#0B6122" stroke="#084A1A" stroke-width="0.7"/>
<circle cx="388.05" cy="1634.63" r="2.9" fill="#F8736A" stroke="#E0584F" stroke-width="0.7"/>
<circle cx="403.32" cy="1628.9" r="2.9" fill="#F8736A" stroke="#E0584F" stroke-width="0.7"/>
<circle cx="607.78" cy="1559.94" r="2.9" fill="#10B53D" stroke="#089C2F" stroke-width="0.7"/>
<circle cx="415.19" cy="1640.35" r="2.9" fill="#8E3A36" stroke="#742A26" stroke-width="0.7"/>
<circle cx="355.61" cy="1608.2" r="2.9" fill="#8E3A36" stroke="#742A26" stroke-width="0.7"/>
<circle cx="581.95" cy="1631" r="2.9" fill="#0B6122" stroke="#084A1A" stroke-width="0.7"/>
<circle cx="607.57" cy="1581.44" r="2.9" fill="#10B53D" stroke="#089C2F" stroke-width="0.7"/>
<circle cx="567.09" cy="1633.84" r="2.9" fill="#10B53D" stroke="#089C2F" stroke-width="0.7"/>
<circle cx="562.34" cy="1627.18" r="2.9" fill="#10B53D" stroke="#089C2F" stroke-width="0.7"/>
<circle cx="391.12" cy="1633.99" r="2.9" fill="#F8736A" stroke="#E0584F" stroke-width="0.7"/>
<circle cx="379.27" cy="1627.2" r="2.9" fill="#F8736A" stroke="#E0584F" stroke-width="0.7"/>
<circle cx="556.06" cy="1629.4" r="2.9" fill="#0B6122" stroke="#084A1A" stroke-width="0.7"/>
<circle cx="560.8" cy="1645.95" r="2.9" fill="#10B53D" stroke="#089C2F" stroke-width="0.7"/>
<circle cx="383.02" cy="1617.18" r="2.9" fill="#F8736A" stroke="#E0584F" stroke-width="0.7"/>
<circle cx="393.36" cy="1619.58" r="2.9" fill="#F8736A" stroke="#E0584F" stroke-width="0.7"/>
<circle cx="370.95" cy="1593.19" r="2.9" fill="#F8736A" stroke="#E0584F" stroke-width="0.7"/>
<circle cx="411.65" cy="1637.92" r="2.9" fill="#F8736A" stroke="#E0584F" stroke-width="0.7"/>
<circle cx="386.42" cy="1600.64" r="2.9" fill="#F8736A" stroke="#E0584F" stroke-width="0.7"/>
<circle cx="604.63" cy="1567.95" r="2.9" fill="#10B53D" stroke="#089C2F" stroke-width="0.7"/>
<circle cx="578.17" cy="1635.25" r="2.9" fill="#0B6122" stroke="#084A1A" stroke-width="0.7"/>
<circle cx="388.72" cy="1640.76" r="2.9" fill="#8E3A36" stroke="#742A26" stroke-width="0.7"/>
<circle cx="559.21" cy="1628.51" r="2.9" fill="#10B53D" stroke="#089C2F" stroke-width="0.7"/>
<circle cx="370.83" cy="1584.56" r="2.9" fill="#F8736A" stroke="#E0584F" stroke-width="0.7"/>
<circle cx="592.83" cy="1594.03" r="2.9" fill="#10B53D" stroke="#089C2F" stroke-width="0.7"/>
<circle cx="558.44" cy="1627.91" r="2.9" fill="#0B6122" stroke="#084A1A" stroke-width="0.7"/>
<circle cx="575.56" cy="1627.91" r="2.9" fill="#10B53D" stroke="#089C2F" stroke-width="0.7"/>
<circle cx="391.67" cy="1602.63" r="2.9" fill="#8E3A36" stroke="#742A26" stroke-width="0.7"/>
<circle cx="573.54" cy="1644.91" r="2.9" fill="#10B53D" stroke="#089C2F" stroke-width="0.7"/>
<circle cx="569.8" cy="1611.83" r="2.9" fill="#10B53D" stroke="#089C2F" stroke-width="0.7"/>
<circle cx="585.73" cy="1621.09" r="2.9" fill="#10B53D" stroke="#089C2F" stroke-width="0.7"/>
<circle cx="415.66" cy="1650.14" r="2.9" fill="#8E3A36" stroke="#742A26" stroke-width="0.7"/>
<circle cx="372.08" cy="1578.28" r="2.9" fill="#F8736A" stroke="#E0584F" stroke-width="0.7"/>
<circle cx="585.15" cy="1588.08" r="2.9" fill="#10B53D" stroke="#089C2F" stroke-width="0.7"/>
<circle cx="408.93" cy="1623.58" r="2.9" fill="#8E3A36" stroke="#742A26" stroke-width="0.7"/>
<circle cx="396.21" cy="1624.69" r="2.9" fill="#F8736A" stroke="#E0584F" stroke-width="0.7"/>
<circle cx="578.32" cy="1605.63" r="2.9" fill="#10B53D" stroke="#089C2F" stroke-width="0.7"/>
<circle cx="395.95" cy="1610.48" r="2.9" fill="#F8736A" stroke="#E0584F" stroke-width="0.7"/>
<circle cx="381.64" cy="1630.06" r="2.9" fill="#F8736A" stroke="#E0584F" stroke-width="0.7"/>
<circle cx="562.39" cy="1616.82" r="2.9" fill="#10B53D" stroke="#089C2F" stroke-width="0.7"/>
<circle cx="382.95" cy="1616.56" r="2.9" fill="#F8736A" stroke="#E0584F" stroke-width="0.7"/>
<circle cx="561.87" cy="1634.05" r="2.9" fill="#0B6122" stroke="#084A1A" stroke-width="0.7"/>
<circle cx="555.53" cy="1629.92" r="2.9" fill="#10B53D" stroke="#089C2F" stroke-width="0.7"/>
<circle cx="556.61" cy="1635.84" r="2.9" fill="#0B6122" stroke="#084A1A" stroke-width="0.7"/>
<circle cx="568.95" cy="1610.1" r="2.9" fill="#10B53D" stroke="#089C2F" stroke-width="0.7"/>
<circle cx="360.53" cy="1598.8" r="2.9" fill="#8E3A36" stroke="#742A26" stroke-width="0.7"/>
<circle cx="390.53" cy="1648.51" r="2.9" fill="#F8736A" stroke="#E0584F" stroke-width="0.7"/>
<circle cx="616.46" cy="1553.26" r="2.9" fill="#10B53D" stroke="#089C2F" stroke-width="0.7"/>
<circle cx="384.97" cy="1634.33" r="2.9" fill="#F8736A" stroke="#E0584F" stroke-width="0.7"/>
<circle cx="582.66" cy="1621.75" r="2.9" fill="#10B53D" stroke="#089C2F" stroke-width="0.7"/>
<circle cx="572.84" cy="1634.05" r="2.9" fill="#0B6122" stroke="#084A1A" stroke-width="0.7"/>
<circle cx="392.77" cy="1632.92" r="2.9" fill="#F8736A" stroke="#E0584F" stroke-width="0.7"/>
<circle cx="362.42" cy="1610.97" r="2.9" fill="#8E3A36" stroke="#742A26" stroke-width="0.7"/>
<circle cx="559.43" cy="1628.98" r="2.9" fill="#10B53D" stroke="#089C2F" stroke-width="0.7"/>
<circle cx="606.68" cy="1582.57" r="2.9" fill="#10B53D" stroke="#089C2F" stroke-width="0.7"/>
<circle cx="566.26" cy="1631.29" r="2.9" fill="#10B53D" stroke="#089C2F" stroke-width="0.7"/>
<circle cx="410.05" cy="1643.76" r="2.9" fill="#F8736A" stroke="#E0584F" stroke-width="0.7"/>
<circle cx="565.1" cy="1639.13" r="2.9" fill="#10B53D" stroke="#089C2F" stroke-width="0.7"/>
<circle cx="609.46" cy="1582.73" r="2.9" fill="#10B53D" stroke="#089C2F" stroke-width="0.7"/>
<circle cx="374.88" cy="1601.17" r="2.9" fill="#F8736A" stroke="#E0584F" stroke-width="0.7"/>
<circle cx="590.71" cy="1602.14" r="2.9" fill="#0B6122" stroke="#084A1A" stroke-width="0.7"/>
<circle cx="371.48" cy="1628.26" r="2.9" fill="#F8736A" stroke="#E0584F" stroke-width="0.7"/>
<circle cx="380.51" cy="1605.92" r="2.9" fill="#8E3A36" stroke="#742A26" stroke-width="0.7"/>
<circle cx="603.59" cy="1565.52" r="2.9" fill="#0B6122" stroke="#084A1A" stroke-width="0.7"/>
<circle cx="558.85" cy="1621.97" r="2.9" fill="#0B6122" stroke="#084A1A" stroke-width="0.7"/>
<circle cx="575.45" cy="1624.28" r="2.9" fill="#10B53D" stroke="#089C2F" stroke-width="0.7"/>
<circle cx="562" cy="1651.67" r="2.9" fill="#10B53D" stroke="#089C2F" stroke-width="0.7"/>
<circle cx="363.04" cy="1591" r="2.9" fill="#8E3A36" stroke="#742A26" stroke-width="0.7"/>
<circle cx="404.76" cy="1622.19" r="2.9" fill="#8E3A36" stroke="#742A26" stroke-width="0.7"/>
<circle cx="573.87" cy="1637.47" r="2.9" fill="#10B53D" stroke="#089C2F" stroke-width="0.7"/>
<circle cx="398.23" cy="1624.91" r="2.9" fill="#8E3A36" stroke="#742A26" stroke-width="0.7"/>
<circle cx="387.22" cy="1646.56" r="2.9" fill="#F8736A" stroke="#E0584F" stroke-width="0.7"/>
<circle cx="555.85" cy="1649.02" r="2.9" fill="#10B53D" stroke="#089C2F" stroke-width="0.7"/>
<circle cx="416.98" cy="1650.82" r="2.9" fill="#F8736A" stroke="#E0584F" stroke-width="0.7"/>
<circle cx="356.8" cy="1573.91" r="2.9" fill="#8E3A36" stroke="#742A26" stroke-width="0.7"/>
<circle cx="391.67" cy="1607.28" r="2.9" fill="#F8736A" stroke="#E0584F" stroke-width="0.7"/>
<circle cx="566.76" cy="1632.93" r="2.9" fill="#10B53D" stroke="#089C2F" stroke-width="0.7"/>
<circle cx="596.24" cy="1591.93" r="2.9" fill="#0B6122" stroke="#084A1A" stroke-width="0.7"/>
<circle cx="564.59" cy="1641.1" r="2.9" fill="#10B53D" stroke="#089C2F" stroke-width="0.7"/>
<circle cx="376.79" cy="1599.6" r="2.9" fill="#F8736A" stroke="#E0584F" stroke-width="0.7"/>
<circle cx="362.87" cy="1568.84" r="2.9" fill="#F8736A" stroke="#E0584F" stroke-width="0.7"/>
<circle cx="606.95" cy="1539.25" r="2.9" fill="#10B53D" stroke="#089C2F" stroke-width="0.7"/>
<circle cx="561.79" cy="1615.38" r="2.9" fill="#10B53D" stroke="#089C2F" stroke-width="0.7"/>
<circle cx="407.46" cy="1643.52" r="2.9" fill="#F8736A" stroke="#E0584F" stroke-width="0.7"/>
<circle cx="369.22" cy="1614.77" r="2.9" fill="#8E3A36" stroke="#742A26" stroke-width="0.7"/>
<circle cx="389.07" cy="1637.42" r="2.9" fill="#F8736A" stroke="#E0584F" stroke-width="0.7"/>
<circle cx="372.91" cy="1597.9" r="2.9" fill="#F8736A" stroke="#E0584F" stroke-width="0.7"/>
<circle cx="562.23" cy="1632.78" r="2.9" fill="#10B53D" stroke="#089C2F" stroke-width="0.7"/>
<circle cx="374.49" cy="1615.28" r="2.9" fill="#F8736A" stroke="#E0584F" stroke-width="0.7"/>
<circle cx="390.05" cy="1637.73" r="2.9" fill="#8E3A36" stroke="#742A26" stroke-width="0.7"/>
<circle cx="552.22" cy="1626.5" r="2.9" fill="#10B53D" stroke="#089C2F" stroke-width="0.7"/>
<circle cx="379.68" cy="1631.86" r="2.9" fill="#8E3A36" stroke="#742A26" stroke-width="0.7"/>
<circle cx="369.2" cy="1625.78" r="2.9" fill="#F8736A" stroke="#E0584F" stroke-width="0.7"/>
<circle cx="418.26" cy="1643.18" r="2.9" fill="#8E3A36" stroke="#742A26" stroke-width="0.7"/>
<circle cx="589.45" cy="1627.59" r="2.9" fill="#10B53D" stroke="#089C2F" stroke-width="0.7"/>
<circle cx="408.85" cy="1640.4" r="2.9" fill="#F8736A" stroke="#E0584F" stroke-width="0.7"/>
<circle cx="391.72" cy="1605.5" r="2.9" fill="#F8736A" stroke="#E0584F" stroke-width="0.7"/>
<circle cx="379.9" cy="1638.91" r="2.9" fill="#F8736A" stroke="#E0584F" stroke-width="0.7"/>
<circle cx="589.67" cy="1611.05" r="2.9" fill="#10B53D" stroke="#089C2F" stroke-width="0.7"/>
<circle cx="572.65" cy="1588.1" r="2.9" fill="#10B53D" stroke="#089C2F" stroke-width="0.7"/>
<circle cx="385.83" cy="1602.25" r="2.9" fill="#F8736A" stroke="#E0584F" stroke-width="0.7"/>
<circle cx="373.7" cy="1608.43" r="2.9" fill="#F8736A" stroke="#E0584F" stroke-width="0.7"/>
<circle cx="373.32" cy="1613.79" r="2.9" fill="#8E3A36" stroke="#742A26" stroke-width="0.7"/>
<circle cx="553.2" cy="1636.38" r="2.9" fill="#10B53D" stroke="#089C2F" stroke-width="0.7"/>
<circle cx="383.18" cy="1596.13" r="2.9" fill="#F8736A" stroke="#E0584F" stroke-width="0.7"/>
<circle cx="553.78" cy="1642.09" r="2.9" fill="#10B53D" stroke="#089C2F" stroke-width="0.7"/>
<circle cx="583.02" cy="1567.85" r="2.9" fill="#10B53D" stroke="#089C2F" stroke-width="0.7"/>
<circle cx="376.92" cy="1604.23" r="2.9" fill="#F8736A" stroke="#E0584F" stroke-width="0.7"/>
<circle cx="582.46" cy="1605.19" r="2.9" fill="#10B53D" stroke="#089C2F" stroke-width="0.7"/>
<circle cx="583.39" cy="1575.92" r="2.9" fill="#10B53D" stroke="#089C2F" stroke-width="0.7"/>
<circle cx="381.31" cy="1602.46" r="2.9" fill="#F8736A" stroke="#E0584F" stroke-width="0.7"/>
<circle cx="589.85" cy="1561.47" r="2.9" fill="#10B53D" stroke="#089C2F" stroke-width="0.7"/>
<circle cx="390.01" cy="1600.4" r="2.9" fill="#F8736A" stroke="#E0584F" stroke-width="0.7"/>
<circle cx="417.6" cy="1639.06" r="2.9" fill="#F8736A" stroke="#E0584F" stroke-width="0.7"/>
<circle cx="616.87" cy="1555.95" r="2.9" fill="#10B53D" stroke="#089C2F" stroke-width="0.7"/>
<circle cx="589.37" cy="1605.53" r="2.9" fill="#10B53D" stroke="#089C2F" stroke-width="0.7"/>
<circle cx="362.9" cy="1596.26" r="2.9" fill="#F8736A" stroke="#E0584F" stroke-width="0.7"/>
<circle cx="569.17" cy="1632.37" r="2.9" fill="#0B6122" stroke="#084A1A" stroke-width="0.7"/>
<circle cx="597.39" cy="1610.6" r="2.9" fill="#0B6122" stroke="#084A1A" stroke-width="0.7"/>
<circle cx="565.58" cy="1639.91" r="2.9" fill="#10B53D" stroke="#089C2F" stroke-width="0.7"/>
<circle cx="596.49" cy="1591.82" r="2.9" fill="#10B53D" stroke="#089C2F" stroke-width="0.7"/>
<circle cx="414.48" cy="1634.45" r="2.9" fill="#F8736A" stroke="#E0584F" stroke-width="0.7"/>
<circle cx="391.08" cy="1602.15" r="2.9" fill="#F8736A" stroke="#E0584F" stroke-width="0.7"/>
<circle cx="367.62" cy="1575.39" r="2.9" fill="#F8736A" stroke="#E0584F" stroke-width="0.7"/>
<circle cx="395.07" cy="1625.73" r="2.9" fill="#8E3A36" stroke="#742A26" stroke-width="0.7"/>
<circle cx="558.87" cy="1613.95" r="2.9" fill="#10B53D" stroke="#089C2F" stroke-width="0.7"/>
<circle cx="586.49" cy="1539.46" r="2.9" fill="#10B53D" stroke="#089C2F" stroke-width="0.7"/>
<circle cx="377.35" cy="1601.25" r="2.9" fill="#F8736A" stroke="#E0584F" stroke-width="0.7"/>
<circle cx="378.64" cy="1594.88" r="2.9" fill="#8E3A36" stroke="#742A26" stroke-width="0.7"/>
<circle cx="413.38" cy="1637.17" r="2.9" fill="#8E3A36" stroke="#742A26" stroke-width="0.7"/>
<circle cx="579.43" cy="1576.91" r="2.9" fill="#0B6122" stroke="#084A1A" stroke-width="0.7"/>
<circle cx="591.47" cy="1599.55" r="2.9" fill="#0B6122" stroke="#084A1A" stroke-width="0.7"/>
<circle cx="559.73" cy="1633.77" r="2.9" fill="#10B53D" stroke="#089C2F" stroke-width="0.7"/>
<circle cx="370.83" cy="1606.02" r="2.9" fill="#F8736A" stroke="#E0584F" stroke-width="0.7"/>
<circle cx="574.38" cy="1584.48" r="2.9" fill="#10B53D" stroke="#089C2F" stroke-width="0.7"/>
<circle cx="397.1" cy="1621.02" r="2.9" fill="#F8736A" stroke="#E0584F" stroke-width="0.7"/>
<circle cx="400.15" cy="1652.32" r="2.9" fill="#F8736A" stroke="#E0584F" stroke-width="0.7"/>
<circle cx="383.98" cy="1640.47" r="2.9" fill="#F8736A" stroke="#E0584F" stroke-width="0.7"/>
<circle cx="395.33" cy="1652.67" r="2.9" fill="#F8736A" stroke="#E0584F" stroke-width="0.7"/>
<circle cx="586.36" cy="1623.49" r="2.9" fill="#0B6122" stroke="#084A1A" stroke-width="0.7"/>
<circle cx="375.07" cy="1629.31" r="2.9" fill="#F8736A" stroke="#E0584F" stroke-width="0.7"/>
<circle cx="583.09" cy="1579.8" r="2.9" fill="#10B53D" stroke="#089C2F" stroke-width="0.7"/>
<circle cx="587.5" cy="1581.04" r="2.9" fill="#0B6122" stroke="#084A1A" stroke-width="0.7"/>
<circle cx="355.67" cy="1582.97" r="2.9" fill="#F8736A" stroke="#E0584F" stroke-width="0.7"/>
<circle cx="362.44" cy="1588.48" r="2.9" fill="#F8736A" stroke="#E0584F" stroke-width="0.7"/>
<circle cx="394.52" cy="1628.7" r="2.9" fill="#F8736A" stroke="#E0584F" stroke-width="0.7"/>
<circle cx="352.13" cy="1564.37" r="2.9" fill="#F8736A" stroke="#E0584F" stroke-width="0.7"/>
<circle cx="561.64" cy="1620.28" r="2.9" fill="#10B53D" stroke="#089C2F" stroke-width="0.7"/>
<circle cx="408.98" cy="1648.8" r="2.9" fill="#F8736A" stroke="#E0584F" stroke-width="0.7"/>
<circle cx="586.11" cy="1623.95" r="2.9" fill="#0B6122" stroke="#084A1A" stroke-width="0.7"/>
<circle cx="407.98" cy="1645.1" r="2.9" fill="#F8736A" stroke="#E0584F" stroke-width="0.7"/>
<circle cx="413.12" cy="1635.48" r="2.9" fill="#F8736A" stroke="#E0584F" stroke-width="0.7"/>
<circle cx="555.29" cy="1600.3" r="2.9" fill="#10B53D" stroke="#089C2F" stroke-width="0.7"/>
<circle cx="565.44" cy="1641.54" r="2.9" fill="#10B53D" stroke="#089C2F" stroke-width="0.7"/>
<circle cx="373.05" cy="1598.58" r="2.9" fill="#F8736A" stroke="#E0584F" stroke-width="0.7"/>
<circle cx="579.64" cy="1632.67" r="2.9" fill="#10B53D" stroke="#089C2F" stroke-width="0.7"/>
<circle cx="395.31" cy="1635.73" r="2.9" fill="#8E3A36" stroke="#742A26" stroke-width="0.7"/>
<circle cx="601.81" cy="1599.42" r="2.9" fill="#10B53D" stroke="#089C2F" stroke-width="0.7"/>
<circle cx="373.53" cy="1598.88" r="2.9" fill="#F8736A" stroke="#E0584F" stroke-width="0.7"/>
<circle cx="589.47" cy="1624.46" r="2.9" fill="#10B53D" stroke="#089C2F" stroke-width="0.7"/>
<circle cx="389.43" cy="1614.51" r="2.9" fill="#F8736A" stroke="#E0584F" stroke-width="0.7"/>
<circle cx="398.13" cy="1622.99" r="2.9" fill="#F8736A" stroke="#E0584F" stroke-width="0.7"/>
<circle cx="573.56" cy="1583.61" r="2.9" fill="#10B53D" stroke="#089C2F" stroke-width="0.7"/>
<circle cx="611.42" cy="1576.36" r="2.9" fill="#10B53D" stroke="#089C2F" stroke-width="0.7"/>
<circle cx="356.34" cy="1545.72" r="2.9" fill="#F8736A" stroke="#E0584F" stroke-width="0.7"/>
<circle cx="380.15" cy="1635.06" r="2.9" fill="#F8736A" stroke="#E0584F" stroke-width="0.7"/>
<circle cx="561.52" cy="1643.57" r="2.9" fill="#10B53D" stroke="#089C2F" stroke-width="0.7"/>
<circle cx="405.13" cy="1636.21" r="2.9" fill="#F8736A" stroke="#E0584F" stroke-width="0.7"/>
<circle cx="355.8" cy="1605.44" r="2.9" fill="#8E3A36" stroke="#742A26" stroke-width="0.7"/>
<circle cx="370.45" cy="1603.3" r="2.9" fill="#8E3A36" stroke="#742A26" stroke-width="0.7"/>
<circle cx="560.08" cy="1612.1" r="2.9" fill="#10B53D" stroke="#089C2F" stroke-width="0.7"/>
<circle cx="570.36" cy="1586.19" r="2.9" fill="#10B53D" stroke="#089C2F" stroke-width="0.7"/>
<circle cx="380.32" cy="1641.39" r="2.9" fill="#F8736A" stroke="#E0584F" stroke-width="0.7"/>
<circle cx="602.54" cy="1582.48" r="2.9" fill="#10B53D" stroke="#089C2F" stroke-width="0.7"/>
<circle cx="403.34" cy="1651.88" r="2.9" fill="#F8736A" stroke="#E0584F" stroke-width="0.7"/>
<circle cx="393.99" cy="1645.8" r="2.9" fill="#F8736A" stroke="#E0584F" stroke-width="0.7"/>
<circle cx="353.57" cy="1608.39" r="2.9" fill="#8E3A36" stroke="#742A26" stroke-width="0.7"/>
<circle cx="373.86" cy="1618.25" r="2.9" fill="#8E3A36" stroke="#742A26" stroke-width="0.7"/>
<circle cx="372.47" cy="1604.46" r="2.9" fill="#F8736A" stroke="#E0584F" stroke-width="0.7"/>
<circle cx="412.63" cy="1627.68" r="2.9" fill="#F8736A" stroke="#E0584F" stroke-width="0.7"/>
<circle cx="566.38" cy="1582.2" r="2.9" fill="#0B6122" stroke="#084A1A" stroke-width="0.7"/>
<circle cx="592.94" cy="1586.79" r="2.9" fill="#10B53D" stroke="#089C2F" stroke-width="0.7"/>
<circle cx="578.76" cy="1566.72" r="2.9" fill="#10B53D" stroke="#089C2F" stroke-width="0.7"/>
<circle cx="592.06" cy="1556.12" r="2.9" fill="#0B6122" stroke="#084A1A" stroke-width="0.7"/>
<circle cx="405.35" cy="1653.41" r="2.9" fill="#F8736A" stroke="#E0584F" stroke-width="0.7"/>
<circle cx="593.62" cy="1587.89" r="2.9" fill="#0B6122" stroke="#084A1A" stroke-width="0.7"/>
<circle cx="371.53" cy="1608.22" r="2.9" fill="#F8736A" stroke="#E0584F" stroke-width="0.7"/>
<circle cx="571.38" cy="1646.94" r="2.9" fill="#10B53D" stroke="#089C2F" stroke-width="0.7"/>
<circle cx="556.5" cy="1634.25" r="2.9" fill="#10B53D" stroke="#089C2F" stroke-width="0.7"/>
<circle cx="558.2" cy="1636.3" r="2.9" fill="#10B53D" stroke="#089C2F" stroke-width="0.7"/>
<circle cx="385.55" cy="1631.51" r="2.9" fill="#F8736A" stroke="#E0584F" stroke-width="0.7"/>
<circle cx="586.78" cy="1539.87" r="2.9" fill="#0B6122" stroke="#084A1A" stroke-width="0.7"/>
<circle cx="410.7" cy="1650.51" r="2.9" fill="#F8736A" stroke="#E0584F" stroke-width="0.7"/>
<circle cx="404.2" cy="1643.46" r="2.9" fill="#8E3A36" stroke="#742A26" stroke-width="0.7"/>
<circle cx="387.81" cy="1610.93" r="2.9" fill="#F8736A" stroke="#E0584F" stroke-width="0.7"/>
<circle cx="406.26" cy="1653.23" r="2.9" fill="#F8736A" stroke="#E0584F" stroke-width="0.7"/>
<circle cx="404.87" cy="1645.07" r="2.9" fill="#F8736A" stroke="#E0584F" stroke-width="0.7"/>
<circle cx="588.22" cy="1600.79" r="2.9" fill="#10B53D" stroke="#089C2F" stroke-width="0.7"/>
<circle cx="398.43" cy="1616.19" r="2.9" fill="#8E3A36" stroke="#742A26" stroke-width="0.7"/>
<circle cx="362.25" cy="1602.06" r="2.9" fill="#F8736A" stroke="#E0584F" stroke-width="0.7"/>
<circle cx="357.87" cy="1598.29" r="2.9" fill="#F8736A" stroke="#E0584F" stroke-width="0.7"/>
<circle cx="392.04" cy="1614.36" r="2.9" fill="#F8736A" stroke="#E0584F" stroke-width="0.7"/>
<circle cx="572.48" cy="1633.02" r="2.9" fill="#0B6122" stroke="#084A1A" stroke-width="0.7"/>
<circle cx="365.29" cy="1587.18" r="2.9" fill="#F8736A" stroke="#E0584F" stroke-width="0.7"/>
<circle cx="554.29" cy="1642.44" r="2.9" fill="#10B53D" stroke="#089C2F" stroke-width="0.7"/>
<circle cx="560.62" cy="1645.15" r="2.9" fill="#10B53D" stroke="#089C2F" stroke-width="0.7"/>
<circle cx="580.82" cy="1609.06" r="2.9" fill="#10B53D" stroke="#089C2F" stroke-width="0.7"/>
<circle cx="396.49" cy="1648.48" r="2.9" fill="#F8736A" stroke="#E0584F" stroke-width="0.7"/>
<circle cx="411.41" cy="1651.4" r="2.9" fill="#F8736A" stroke="#E0584F" stroke-width="0.7"/>
<circle cx="592.31" cy="1579.54" r="2.9" fill="#10B53D" stroke="#089C2F" stroke-width="0.7"/>
<circle cx="356.07" cy="1597.7" r="2.9" fill="#F8736A" stroke="#E0584F" stroke-width="0.7"/>
<circle cx="570.31" cy="1588.19" r="2.9" fill="#10B53D" stroke="#089C2F" stroke-width="0.7"/>
<circle cx="393.27" cy="1640.16" r="2.9" fill="#F8736A" stroke="#E0584F" stroke-width="0.7"/>
<circle cx="394.34" cy="1627.75" r="2.9" fill="#F8736A" stroke="#E0584F" stroke-width="0.7"/>
<circle cx="555.21" cy="1645.48" r="2.9" fill="#10B53D" stroke="#089C2F" stroke-width="0.7"/>
<circle cx="368.61" cy="1629.69" r="2.9" fill="#F8736A" stroke="#E0584F" stroke-width="0.7"/>
<circle cx="610.53" cy="1562.36" r="2.9" fill="#0B6122" stroke="#084A1A" stroke-width="0.7"/>
<circle cx="400.51" cy="1623.06" r="2.9" fill="#F8736A" stroke="#E0584F" stroke-width="0.7"/>
<circle cx="337.53" cy="1568.24" r="2.9" fill="#F8736A" stroke="#E0584F" stroke-width="0.7"/>
<circle cx="405.47" cy="1648.21" r="2.9" fill="#F8736A" stroke="#E0584F" stroke-width="0.7"/>
<circle cx="561.89" cy="1647.21" r="2.9" fill="#10B53D" stroke="#089C2F" stroke-width="0.7"/>
<circle cx="355.29" cy="1568.65" r="2.9" fill="#F8736A" stroke="#E0584F" stroke-width="0.7"/>
<circle cx="578.93" cy="1636.25" r="2.9" fill="#10B53D" stroke="#089C2F" stroke-width="0.7"/>
<circle cx="358.54" cy="1586.86" r="2.9" fill="#8E3A36" stroke="#742A26" stroke-width="0.7"/>
<circle cx="381.32" cy="1621.54" r="2.9" fill="#F8736A" stroke="#E0584F" stroke-width="0.7"/>
<circle cx="558.27" cy="1600.51" r="2.9" fill="#10B53D" stroke="#089C2F" stroke-width="0.7"/>
<circle cx="591.79" cy="1568.36" r="2.9" fill="#10B53D" stroke="#089C2F" stroke-width="0.7"/>
<circle cx="573.36" cy="1591.58" r="2.9" fill="#10B53D" stroke="#089C2F" stroke-width="0.7"/>
<circle cx="589.02" cy="1615.08" r="2.9" fill="#10B53D" stroke="#089C2F" stroke-width="0.7"/>
<circle cx="387.04" cy="1610.25" r="2.9" fill="#8E3A36" stroke="#742A26" stroke-width="0.7"/>
<circle cx="402.98" cy="1650.42" r="2.9" fill="#F8736A" stroke="#E0584F" stroke-width="0.7"/>
<circle cx="377.59" cy="1609.56" r="2.9" fill="#F8736A" stroke="#E0584F" stroke-width="0.7"/>
<circle cx="564.84" cy="1647.9" r="2.9" fill="#10B53D" stroke="#089C2F" stroke-width="0.7"/>
<circle cx="358.04" cy="1587.77" r="2.9" fill="#F8736A" stroke="#E0584F" stroke-width="0.7"/>
<circle cx="383.15" cy="1602.06" r="2.9" fill="#F8736A" stroke="#E0584F" stroke-width="0.7"/>
<circle cx="415.78" cy="1634.37" r="2.9" fill="#8E3A36" stroke="#742A26" stroke-width="0.7"/>
<circle cx="372.88" cy="1597.67" r="2.9" fill="#F8736A" stroke="#E0584F" stroke-width="0.7"/>
<circle cx="562.94" cy="1626.51" r="2.9" fill="#0B6122" stroke="#084A1A" stroke-width="0.7"/>
<circle cx="576.64" cy="1627.15" r="2.9" fill="#10B53D" stroke="#089C2F" stroke-width="0.7"/>
<circle cx="616.21" cy="1557.31" r="2.9" fill="#10B53D" stroke="#089C2F" stroke-width="0.7"/>
<circle cx="359.8" cy="1587.26" r="2.9" fill="#8E3A36" stroke="#742A26" stroke-width="0.7"/>
<circle cx="414.96" cy="1640.94" r="2.9" fill="#F8736A" stroke="#E0584F" stroke-width="0.7"/>
<circle cx="396.51" cy="1638.35" r="2.9" fill="#F8736A" stroke="#E0584F" stroke-width="0.7"/>
<circle cx="591.5" cy="1565.83" r="2.9" fill="#0B6122" stroke="#084A1A" stroke-width="0.7"/>
<circle cx="382.86" cy="1605" r="2.9" fill="#F8736A" stroke="#E0584F" stroke-width="0.7"/>
<circle cx="554.27" cy="1602.96" r="2.9" fill="#10B53D" stroke="#089C2F" stroke-width="0.7"/>
<circle cx="381.51" cy="1619.24" r="2.9" fill="#F8736A" stroke="#E0584F" stroke-width="0.7"/>
<circle cx="388.78" cy="1615.45" r="2.9" fill="#F8736A" stroke="#E0584F" stroke-width="0.7"/>
<circle cx="600.71" cy="1570.87" r="2.9" fill="#10B53D" stroke="#089C2F" stroke-width="0.7"/>
<circle cx="556.45" cy="1632.25" r="2.9" fill="#10B53D" stroke="#089C2F" stroke-width="0.7"/>
<circle cx="581.88" cy="1573.43" r="2.9" fill="#0B6122" stroke="#084A1A" stroke-width="0.7"/>
<circle cx="590.64" cy="1605.67" r="2.9" fill="#0B6122" stroke="#084A1A" stroke-width="0.7"/>
<circle cx="394.5" cy="1622.57" r="2.9" fill="#F8736A" stroke="#E0584F" stroke-width="0.7"/>
<circle cx="365.54" cy="1604.51" r="2.9" fill="#F8736A" stroke="#E0584F" stroke-width="0.7"/>
<circle cx="388.1" cy="1605.77" r="2.9" fill="#F8736A" stroke="#E0584F" stroke-width="0.7"/>
<circle cx="401.72" cy="1633.98" r="2.9" fill="#F8736A" stroke="#E0584F" stroke-width="0.7"/>
<circle cx="407.66" cy="1638.12" r="2.9" fill="#F8736A" stroke="#E0584F" stroke-width="0.7"/>
<circle cx="558.54" cy="1647.8" r="2.9" fill="#0B6122" stroke="#084A1A" stroke-width="0.7"/>
<circle cx="560.35" cy="1647.18" r="2.9" fill="#0B6122" stroke="#084A1A" stroke-width="0.7"/>
<circle cx="587.42" cy="1560.35" r="2.9" fill="#0B6122" stroke="#084A1A" stroke-width="0.7"/>
<circle cx="385.65" cy="1640.53" r="2.9" fill="#F8736A" stroke="#E0584F" stroke-width="0.7"/>
<circle cx="596" cy="1540.92" r="2.9" fill="#10B53D" stroke="#089C2F" stroke-width="0.7"/>
<circle cx="593.38" cy="1559.98" r="2.9" fill="#10B53D" stroke="#089C2F" stroke-width="0.7"/>
<circle cx="363.89" cy="1552.55" r="2.9" fill="#F8736A" stroke="#E0584F" stroke-width="0.7"/>
<circle cx="335.48" cy="1552.12" r="2.9" fill="#F8736A" stroke="#E0584F" stroke-width="0.7"/>
<circle cx="392.47" cy="1624.91" r="2.9" fill="#F8736A" stroke="#E0584F" stroke-width="0.7"/>
<circle cx="564.57" cy="1630.62" r="2.9" fill="#10B53D" stroke="#089C2F" stroke-width="0.7"/>
<circle cx="584.87" cy="1578.2" r="2.9" fill="#10B53D" stroke="#089C2F" stroke-width="0.7"/>
<circle cx="378" cy="1609.17" r="2.9" fill="#8E3A36" stroke="#742A26" stroke-width="0.7"/>
<circle cx="589.99" cy="1580.56" r="2.9" fill="#10B53D" stroke="#089C2F" stroke-width="0.7"/>
<circle cx="409.1" cy="1628.28" r="2.9" fill="#F8736A" stroke="#E0584F" stroke-width="0.7"/>
<circle cx="418.35" cy="1648.28" r="2.9" fill="#F8736A" stroke="#E0584F" stroke-width="0.7"/>
<circle cx="358.22" cy="1584.67" r="2.9" fill="#8E3A36" stroke="#742A26" stroke-width="0.7"/>
<circle cx="595.38" cy="1538.14" r="2.9" fill="#10B53D" stroke="#089C2F" stroke-width="0.7"/>
<circle cx="381.49" cy="1609.1" r="2.9" fill="#F8736A" stroke="#E0584F" stroke-width="0.7"/>
<circle cx="573.49" cy="1591.08" r="2.9" fill="#10B53D" stroke="#089C2F" stroke-width="0.7"/>
<circle cx="394.76" cy="1608.7" r="2.9" fill="#8E3A36" stroke="#742A26" stroke-width="0.7"/>
<circle cx="391.93" cy="1614.1" r="2.9" fill="#8E3A36" stroke="#742A26" stroke-width="0.7"/>
<circle cx="594.18" cy="1535.74" r="2.9" fill="#10B53D" stroke="#089C2F" stroke-width="0.7"/>
<circle cx="589.09" cy="1602.9" r="2.9" fill="#10B53D" stroke="#089C2F" stroke-width="0.7"/>
<circle cx="582.18" cy="1601.57" r="2.9" fill="#0B6122" stroke="#084A1A" stroke-width="0.7"/>
<circle cx="377.47" cy="1603.24" r="2.9" fill="#F8736A" stroke="#E0584F" stroke-width="0.7"/>
<circle cx="568.06" cy="1648.97" r="2.9" fill="#10B53D" stroke="#089C2F" stroke-width="0.7"/>
<circle cx="585.73" cy="1604.57" r="2.9" fill="#10B53D" stroke="#089C2F" stroke-width="0.7"/>
<circle cx="593.72" cy="1586.49" r="2.9" fill="#0B6122" stroke="#084A1A" stroke-width="0.7"/>
<circle cx="373.64" cy="1623.32" r="2.9" fill="#8E3A36" stroke="#742A26" stroke-width="0.7"/>
<circle cx="334.01" cy="1542.83" r="2.9" fill="#F8736A" stroke="#E0584F" stroke-width="0.7"/>
<circle cx="389.76" cy="1636.12" r="2.9" fill="#F8736A" stroke="#E0584F" stroke-width="0.7"/>
<circle cx="414.39" cy="1640.2" r="2.9" fill="#8E3A36" stroke="#742A26" stroke-width="0.7"/>
<circle cx="564.25" cy="1628.37" r="2.9" fill="#10B53D" stroke="#089C2F" stroke-width="0.7"/>
<circle cx="361.59" cy="1608.12" r="2.9" fill="#8E3A36" stroke="#742A26" stroke-width="0.7"/>
<circle cx="348.77" cy="1586" r="2.9" fill="#8E3A36" stroke="#742A26" stroke-width="0.7"/>
<circle cx="379.63" cy="1628.22" r="2.9" fill="#F8736A" stroke="#E0584F" stroke-width="0.7"/>
<circle cx="368.3" cy="1613.03" r="2.9" fill="#F8736A" stroke="#E0584F" stroke-width="0.7"/>
<circle cx="364.37" cy="1620.22" r="2.9" fill="#F8736A" stroke="#E0584F" stroke-width="0.7"/>
<circle cx="585.79" cy="1567.5" r="2.9" fill="#10B53D" stroke="#089C2F" stroke-width="0.7"/>
<circle cx="574.3" cy="1576.27" r="2.9" fill="#10B53D" stroke="#089C2F" stroke-width="0.7"/>
<circle cx="604.47" cy="1561.37" r="2.9" fill="#10B53D" stroke="#089C2F" stroke-width="0.7"/>
<circle cx="570.7" cy="1582.15" r="2.9" fill="#10B53D" stroke="#089C2F" stroke-width="0.7"/>
<circle cx="409.45" cy="1650.53" r="2.9" fill="#8E3A36" stroke="#742A26" stroke-width="0.7"/>
<circle cx="398.4" cy="1615.39" r="2.9" fill="#8E3A36" stroke="#742A26" stroke-width="0.7"/>
<circle cx="366.82" cy="1586.13" r="2.9" fill="#F8736A" stroke="#E0584F" stroke-width="0.7"/>
<circle cx="415.91" cy="1646.9" r="2.9" fill="#F8736A" stroke="#E0584F" stroke-width="0.7"/>
<circle cx="385.34" cy="1605.33" r="2.9" fill="#F8736A" stroke="#E0584F" stroke-width="0.7"/>
<circle cx="571.28" cy="1619.45" r="2.9" fill="#10B53D" stroke="#089C2F" stroke-width="0.7"/>
<circle cx="575.42" cy="1568.93" r="2.9" fill="#10B53D" stroke="#089C2F" stroke-width="0.7"/>
<circle cx="382.66" cy="1610.63" r="2.9" fill="#8E3A36" stroke="#742A26" stroke-width="0.7"/>
<circle cx="413.83" cy="1648.48" r="2.9" fill="#F8736A" stroke="#E0584F" stroke-width="0.7"/>
<circle cx="394.7" cy="1621.33" r="2.9" fill="#8E3A36" stroke="#742A26" stroke-width="0.7"/>
<circle cx="589.53" cy="1596" r="2.9" fill="#0B6122" stroke="#084A1A" stroke-width="0.7"/>
<circle cx="396.25" cy="1612.35" r="2.9" fill="#F8736A" stroke="#E0584F" stroke-width="0.7"/>
<circle cx="394.23" cy="1648.59" r="2.9" fill="#F8736A" stroke="#E0584F" stroke-width="0.7"/>
<circle cx="572.19" cy="1616.77" r="2.9" fill="#10B53D" stroke="#089C2F" stroke-width="0.7"/>
<circle cx="575.82" cy="1584.57" r="2.9" fill="#10B53D" stroke="#089C2F" stroke-width="0.7"/>
<circle cx="569.91" cy="1632.85" r="2.9" fill="#10B53D" stroke="#089C2F" stroke-width="0.7"/>
<circle cx="596.49" cy="1570.11" r="2.9" fill="#10B53D" stroke="#089C2F" stroke-width="0.7"/>
<circle cx="374.46" cy="1593.55" r="2.9" fill="#F8736A" stroke="#E0584F" stroke-width="0.7"/>
<circle cx="563" cy="1641.32" r="2.9" fill="#10B53D" stroke="#089C2F" stroke-width="0.7"/>
<circle cx="567.73" cy="1614.98" r="2.9" fill="#10B53D" stroke="#089C2F" stroke-width="0.7"/>
<circle cx="562.77" cy="1651.23" r="2.9" fill="#10B53D" stroke="#089C2F" stroke-width="0.7"/>
<circle cx="398.47" cy="1627.65" r="2.9" fill="#F8736A" stroke="#E0584F" stroke-width="0.7"/>
<circle cx="563.44" cy="1632.7" r="2.9" fill="#10B53D" stroke="#089C2F" stroke-width="0.7"/>
<circle cx="359.57" cy="1590.92" r="2.9" fill="#F8736A" stroke="#E0584F" stroke-width="0.7"/>
<circle cx="414.35" cy="1639.72" r="2.9" fill="#F8736A" stroke="#E0584F" stroke-width="0.7"/>
<circle cx="377.75" cy="1625.3" r="2.9" fill="#F8736A" stroke="#E0584F" stroke-width="0.7"/>
<circle cx="606.68" cy="1595.79" r="2.9" fill="#10B53D" stroke="#089C2F" stroke-width="0.7"/>
<circle cx="386.79" cy="1640.17" r="2.9" fill="#F8736A" stroke="#E0584F" stroke-width="0.7"/>
<circle cx="385.34" cy="1606.74" r="2.9" fill="#8E3A36" stroke="#742A26" stroke-width="0.7"/>
<circle cx="575.14" cy="1627.1" r="2.9" fill="#10B53D" stroke="#089C2F" stroke-width="0.7"/>
<circle cx="414.23" cy="1649.08" r="2.9" fill="#F8736A" stroke="#E0584F" stroke-width="0.7"/>
<circle cx="565.19" cy="1595.74" r="2.9" fill="#10B53D" stroke="#089C2F" stroke-width="0.7"/>
<circle cx="374.82" cy="1602.83" r="2.9" fill="#F8736A" stroke="#E0584F" stroke-width="0.7"/>
<circle cx="408.68" cy="1640.31" r="2.9" fill="#8E3A36" stroke="#742A26" stroke-width="0.7"/>
<circle cx="574" cy="1634" r="2.9" fill="#10B53D" stroke="#089C2F" stroke-width="0.7"/>
<circle cx="591.58" cy="1569.44" r="2.9" fill="#0B6122" stroke="#084A1A" stroke-width="0.7"/>
<circle cx="388.9" cy="1620.52" r="2.9" fill="#F8736A" stroke="#E0584F" stroke-width="0.7"/>
<circle cx="585.45" cy="1566.38" r="2.9" fill="#10B53D" stroke="#089C2F" stroke-width="0.7"/>
<circle cx="397.23" cy="1613.51" r="2.9" fill="#F8736A" stroke="#E0584F" stroke-width="0.7"/>
<circle cx="398.95" cy="1615.46" r="2.9" fill="#8E3A36" stroke="#742A26" stroke-width="0.7"/>
<circle cx="591.84" cy="1579.5" r="2.9" fill="#10B53D" stroke="#089C2F" stroke-width="0.7"/>
<circle cx="415.02" cy="1632.73" r="2.9" fill="#8E3A36" stroke="#742A26" stroke-width="0.7"/>
<circle cx="383.94" cy="1609.53" r="2.9" fill="#F8736A" stroke="#E0584F" stroke-width="0.7"/>
<circle cx="591.61" cy="1576.08" r="2.9" fill="#10B53D" stroke="#089C2F" stroke-width="0.7"/>
<circle cx="570.03" cy="1632.74" r="2.9" fill="#10B53D" stroke="#089C2F" stroke-width="0.7"/>
<circle cx="591.91" cy="1541.09" r="2.9" fill="#10B53D" stroke="#089C2F" stroke-width="0.7"/>
<circle cx="600.76" cy="1538.9" r="2.9" fill="#10B53D" stroke="#089C2F" stroke-width="0.7"/>
<circle cx="406.98" cy="1622.74" r="2.9" fill="#F8736A" stroke="#E0584F" stroke-width="0.7"/>
<circle cx="361.66" cy="1592.23" r="2.9" fill="#F8736A" stroke="#E0584F" stroke-width="0.7"/>
<circle cx="613.37" cy="1561.59" r="2.9" fill="#10B53D" stroke="#089C2F" stroke-width="0.7"/>
<circle cx="608.17" cy="1561.6" r="2.9" fill="#10B53D" stroke="#089C2F" stroke-width="0.7"/>
<circle cx="391.09" cy="1644.47" r="2.9" fill="#F8736A" stroke="#E0584F" stroke-width="0.7"/>
<circle cx="370.89" cy="1602.26" r="2.9" fill="#8E3A36" stroke="#742A26" stroke-width="0.7"/>
<circle cx="558.71" cy="1624.1" r="2.9" fill="#10B53D" stroke="#089C2F" stroke-width="0.7"/>
<circle cx="352.19" cy="1594.02" r="2.9" fill="#F8736A" stroke="#E0584F" stroke-width="0.7"/>
<circle cx="569.91" cy="1617.48" r="2.9" fill="#0B6122" stroke="#084A1A" stroke-width="0.7"/>
<circle cx="375.12" cy="1627.75" r="2.9" fill="#F8736A" stroke="#E0584F" stroke-width="0.7"/>
<circle cx="397.12" cy="1642.12" r="2.9" fill="#F8736A" stroke="#E0584F" stroke-width="0.7"/>
<circle cx="399.54" cy="1625.25" r="2.9" fill="#F8736A" stroke="#E0584F" stroke-width="0.7"/>
<circle cx="570.7" cy="1615.26" r="2.9" fill="#10B53D" stroke="#089C2F" stroke-width="0.7"/>
<circle cx="373.92" cy="1603.04" r="2.9" fill="#F8736A" stroke="#E0584F" stroke-width="0.7"/>
<circle cx="583.07" cy="1578.79" r="2.9" fill="#10B53D" stroke="#089C2F" stroke-width="0.7"/>
<circle cx="364.38" cy="1576.07" r="2.9" fill="#F8736A" stroke="#E0584F" stroke-width="0.7"/>
<circle cx="394.88" cy="1647.5" r="2.9" fill="#F8736A" stroke="#E0584F" stroke-width="0.7"/>
<circle cx="559.79" cy="1650.62" r="2.9" fill="#10B53D" stroke="#089C2F" stroke-width="0.7"/>
<circle cx="571.85" cy="1618.17" r="2.9" fill="#10B53D" stroke="#089C2F" stroke-width="0.7"/>
<circle cx="393.02" cy="1608.07" r="2.9" fill="#F8736A" stroke="#E0584F" stroke-width="0.7"/>
<circle cx="568.84" cy="1613.93" r="2.9" fill="#10B53D" stroke="#089C2F" stroke-width="0.7"/>
<circle cx="588.99" cy="1582.92" r="2.9" fill="#10B53D" stroke="#089C2F" stroke-width="0.7"/>
<circle cx="363.47" cy="1610.01" r="2.9" fill="#F8736A" stroke="#E0584F" stroke-width="0.7"/>
<circle cx="417.97" cy="1645.29" r="2.9" fill="#F8736A" stroke="#E0584F" stroke-width="0.7"/>
<circle cx="407.56" cy="1629.87" r="2.9" fill="#F8736A" stroke="#E0584F" stroke-width="0.7"/>
<circle cx="398.24" cy="1634.31" r="2.9" fill="#F8736A" stroke="#E0584F" stroke-width="0.7"/>
<circle cx="592.16" cy="1593.09" r="2.9" fill="#10B53D" stroke="#089C2F" stroke-width="0.7"/>
<circle cx="381.81" cy="1614.79" r="2.9" fill="#F8736A" stroke="#E0584F" stroke-width="0.7"/>
<circle cx="570.43" cy="1623.04" r="2.9" fill="#10B53D" stroke="#089C2F" stroke-width="0.7"/>
<circle cx="572.34" cy="1602.74" r="2.9" fill="#10B53D" stroke="#089C2F" stroke-width="0.7"/>
<circle cx="377.19" cy="1596.3" r="2.9" fill="#F8736A" stroke="#E0584F" stroke-width="0.7"/>
<circle cx="418.08" cy="1650.32" r="2.9" fill="#F8736A" stroke="#E0584F" stroke-width="0.7"/>
<circle cx="581.13" cy="1610.73" r="2.9" fill="#10B53D" stroke="#089C2F" stroke-width="0.7"/>
<circle cx="380" cy="1617.45" r="2.9" fill="#F8736A" stroke="#E0584F" stroke-width="0.7"/>
<circle cx="562.51" cy="1628.07" r="2.9" fill="#10B53D" stroke="#089C2F" stroke-width="0.7"/>
<circle cx="594.8" cy="1610.22" r="2.9" fill="#10B53D" stroke="#089C2F" stroke-width="0.7"/>
<circle cx="364.93" cy="1622.25" r="2.9" fill="#F8736A" stroke="#E0584F" stroke-width="0.7"/>
<circle cx="552.83" cy="1649.04" r="2.9" fill="#10B53D" stroke="#089C2F" stroke-width="0.7"/>
<circle cx="381.09" cy="1620.83" r="2.9" fill="#F8736A" stroke="#E0584F" stroke-width="0.7"/>
<circle cx="409.74" cy="1644.59" r="2.9" fill="#F8736A" stroke="#E0584F" stroke-width="0.7"/>
<circle cx="556.97" cy="1614.57" r="2.9" fill="#10B53D" stroke="#089C2F" stroke-width="0.7"/>
<circle cx="386.01" cy="1619.12" r="2.9" fill="#F8736A" stroke="#E0584F" stroke-width="0.7"/>
<circle cx="393.02" cy="1609.45" r="2.9" fill="#F8736A" stroke="#E0584F" stroke-width="0.7"/>
<circle cx="583.68" cy="1598.54" r="2.9" fill="#10B53D" stroke="#089C2F" stroke-width="0.7"/>
<circle cx="378.12" cy="1606.14" r="2.9" fill="#F8736A" stroke="#E0584F" stroke-width="0.7"/>
<circle cx="371.91" cy="1619.09" r="2.9" fill="#F8736A" stroke="#E0584F" stroke-width="0.7"/>
<circle cx="388.39" cy="1606.19" r="2.9" fill="#F8736A" stroke="#E0584F" stroke-width="0.7"/>
<circle cx="413.35" cy="1637.41" r="2.9" fill="#F8736A" stroke="#E0584F" stroke-width="0.7"/>
<circle cx="591.74" cy="1600.15" r="2.9" fill="#10B53D" stroke="#089C2F" stroke-width="0.7"/>
<circle cx="407.53" cy="1626.31" r="2.9" fill="#F8736A" stroke="#E0584F" stroke-width="0.7"/>
<circle cx="394.09" cy="1624.68" r="2.9" fill="#F8736A" stroke="#E0584F" stroke-width="0.7"/>
<circle cx="608.61" cy="1556.81" r="2.9" fill="#10B53D" stroke="#089C2F" stroke-width="0.7"/>
<circle cx="330.55" cy="1569.25" r="2.9" fill="#F8736A" stroke="#E0584F" stroke-width="0.7"/>
<circle cx="566.19" cy="1650.09" r="2.9" fill="#10B53D" stroke="#089C2F" stroke-width="0.7"/>
<circle cx="559.48" cy="1604.5" r="2.9" fill="#10B53D" stroke="#089C2F" stroke-width="0.7"/>
<circle cx="393.28" cy="1635.23" r="2.9" fill="#F8736A" stroke="#E0584F" stroke-width="0.7"/>
<circle cx="566.07" cy="1643.33" r="2.9" fill="#10B53D" stroke="#089C2F" stroke-width="0.7"/>
<circle cx="406.65" cy="1636.08" r="2.9" fill="#F8736A" stroke="#E0584F" stroke-width="0.7"/>
<circle cx="558.12" cy="1643.51" r="2.9" fill="#0B6122" stroke="#084A1A" stroke-width="0.7"/>
<circle cx="566.5" cy="1648.62" r="2.9" fill="#10B53D" stroke="#089C2F" stroke-width="0.7"/>
<circle cx="376.45" cy="1603.49" r="2.9" fill="#F8736A" stroke="#E0584F" stroke-width="0.7"/>
<circle cx="585.14" cy="1544.96" r="2.9" fill="#10B53D" stroke="#089C2F" stroke-width="0.7"/>
<circle cx="571.65" cy="1611.3" r="2.9" fill="#0B6122" stroke="#084A1A" stroke-width="0.7"/>
<circle cx="571.7" cy="1633.73" r="2.9" fill="#0B6122" stroke="#084A1A" stroke-width="0.7"/>
<circle cx="389.67" cy="1628.27" r="2.9" fill="#F8736A" stroke="#E0584F" stroke-width="0.7"/>
<circle cx="407.93" cy="1625.6" r="2.9" fill="#8E3A36" stroke="#742A26" stroke-width="0.7"/>
<circle cx="371.99" cy="1633.39" r="2.9" fill="#8E3A36" stroke="#742A26" stroke-width="0.7"/>
<circle cx="383.97" cy="1607.82" r="2.9" fill="#F8736A" stroke="#E0584F" stroke-width="0.7"/>
<circle cx="352.71" cy="1585.31" r="2.9" fill="#F8736A" stroke="#E0584F" stroke-width="0.7"/>
<circle cx="575.28" cy="1627.02" r="2.9" fill="#10B53D" stroke="#089C2F" stroke-width="0.7"/>
<circle cx="362.1" cy="1606.14" r="2.9" fill="#F8736A" stroke="#E0584F" stroke-width="0.7"/>
<circle cx="603.36" cy="1576.17" r="2.9" fill="#10B53D" stroke="#089C2F" stroke-width="0.7"/>
<circle cx="384.28" cy="1629.89" r="2.9" fill="#F8736A" stroke="#E0584F" stroke-width="0.7"/>
<circle cx="554.13" cy="1648.6" r="2.9" fill="#10B53D" stroke="#089C2F" stroke-width="0.7"/>
<circle cx="401.56" cy="1617.18" r="2.9" fill="#F8736A" stroke="#E0584F" stroke-width="0.7"/>
<circle cx="597.78" cy="1556.48" r="2.9" fill="#10B53D" stroke="#089C2F" stroke-width="0.7"/>
<circle cx="579.11" cy="1597.02" r="2.9" fill="#0B6122" stroke="#084A1A" stroke-width="0.7"/>
<circle cx="565.65" cy="1627.76" r="2.9" fill="#10B53D" stroke="#089C2F" stroke-width="0.7"/>
<circle cx="407.26" cy="1639.12" r="2.9" fill="#F8736A" stroke="#E0584F" stroke-width="0.7"/>
<circle cx="571" cy="1595.42" r="2.9" fill="#10B53D" stroke="#089C2F" stroke-width="0.7"/>
<circle cx="574.25" cy="1632.91" r="2.9" fill="#10B53D" stroke="#089C2F" stroke-width="0.7"/>
<circle cx="570.95" cy="1591.98" r="2.9" fill="#0B6122" stroke="#084A1A" stroke-width="0.7"/>
<circle cx="387.75" cy="1640.48" r="2.9" fill="#F8736A" stroke="#E0584F" stroke-width="0.7"/>
<circle cx="569.58" cy="1601.24" r="2.9" fill="#10B53D" stroke="#089C2F" stroke-width="0.7"/>
<circle cx="564.02" cy="1650.6" r="2.9" fill="#10B53D" stroke="#089C2F" stroke-width="0.7"/>
<circle cx="414.81" cy="1647.09" r="2.9" fill="#8E3A36" stroke="#742A26" stroke-width="0.7"/>
<circle cx="552.51" cy="1642.16" r="2.9" fill="#10B53D" stroke="#089C2F" stroke-width="0.7"/>
<circle cx="376.85" cy="1612.26" r="2.9" fill="#F8736A" stroke="#E0584F" stroke-width="0.7"/>
<circle cx="369.8" cy="1590.3" r="2.9" fill="#8E3A36" stroke="#742A26" stroke-width="0.7"/>
<circle cx="560.55" cy="1595.36" r="2.9" fill="#10B53D" stroke="#089C2F" stroke-width="0.7"/>
<circle cx="393.26" cy="1614.91" r="2.9" fill="#F8736A" stroke="#E0584F" stroke-width="0.7"/>
<circle cx="398.08" cy="1651.6" r="2.9" fill="#8E3A36" stroke="#742A26" stroke-width="0.7"/>
<circle cx="382.73" cy="1619.76" r="2.9" fill="#F8736A" stroke="#E0584F" stroke-width="0.7"/>
<circle cx="386.87" cy="1619.76" r="2.9" fill="#8E3A36" stroke="#742A26" stroke-width="0.7"/>
<circle cx="578.16" cy="1607.5" r="2.9" fill="#10B53D" stroke="#089C2F" stroke-width="0.7"/>
<circle cx="408.37" cy="1650.82" r="2.9" fill="#8E3A36" stroke="#742A26" stroke-width="0.7"/>
<circle cx="615.33" cy="1544.96" r="2.9" fill="#10B53D" stroke="#089C2F" stroke-width="0.7"/>
<circle cx="588.77" cy="1577.93" r="2.9" fill="#10B53D" stroke="#089C2F" stroke-width="0.7"/>
<circle cx="561.94" cy="1644.19" r="2.9" fill="#10B53D" stroke="#089C2F" stroke-width="0.7"/>
<circle cx="364.31" cy="1622.47" r="2.9" fill="#F8736A" stroke="#E0584F" stroke-width="0.7"/>
<circle cx="605.36" cy="1570.32" r="2.9" fill="#0B6122" stroke="#084A1A" stroke-width="0.7"/>
<circle cx="369.34" cy="1618.91" r="2.9" fill="#F8736A" stroke="#E0584F" stroke-width="0.7"/>
<circle cx="378.6" cy="1631.15" r="2.9" fill="#8E3A36" stroke="#742A26" stroke-width="0.7"/>
<circle cx="586.52" cy="1601.69" r="2.9" fill="#10B53D" stroke="#089C2F" stroke-width="0.7"/>
<circle cx="584.5" cy="1584.25" r="2.9" fill="#10B53D" stroke="#089C2F" stroke-width="0.7"/>
<circle cx="580.47" cy="1584.5" r="2.9" fill="#10B53D" stroke="#089C2F" stroke-width="0.7"/>
<circle cx="391.73" cy="1601.19" r="2.9" fill="#F8736A" stroke="#E0584F" stroke-width="0.7"/>
<circle cx="570.84" cy="1626.79" r="2.9" fill="#10B53D" stroke="#089C2F" stroke-width="0.7"/>
<circle cx="386.88" cy="1630.36" r="2.9" fill="#F8736A" stroke="#E0584F" stroke-width="0.7"/>
<circle cx="561.3" cy="1600.86" r="2.9" fill="#0B6122" stroke="#084A1A" stroke-width="0.7"/>
<circle cx="574.83" cy="1640.73" r="2.9" fill="#10B53D" stroke="#089C2F" stroke-width="0.7"/>
<circle cx="603.14" cy="1571.88" r="2.9" fill="#10B53D" stroke="#089C2F" stroke-width="0.7"/>
<circle cx="560.57" cy="1649.73" r="2.9" fill="#0B6122" stroke="#084A1A" stroke-width="0.7"/>
<circle cx="360.81" cy="1596.63" r="2.9" fill="#F8736A" stroke="#E0584F" stroke-width="0.7"/>
<circle cx="387.3" cy="1611.61" r="2.9" fill="#F8736A" stroke="#E0584F" stroke-width="0.7"/>
<circle cx="570.62" cy="1577.54" r="2.9" fill="#10B53D" stroke="#089C2F" stroke-width="0.7"/>
<circle cx="602.36" cy="1577.44" r="2.9" fill="#0B6122" stroke="#084A1A" stroke-width="0.7"/>
<circle cx="571.53" cy="1646.77" r="2.9" fill="#10B53D" stroke="#089C2F" stroke-width="0.7"/>
<circle cx="554.64" cy="1631.48" r="2.9" fill="#0B6122" stroke="#084A1A" stroke-width="0.7"/>
<circle cx="581.23" cy="1583.96" r="2.9" fill="#10B53D" stroke="#089C2F" stroke-width="0.7"/>
<circle cx="383.92" cy="1638.31" r="2.9" fill="#F8736A" stroke="#E0584F" stroke-width="0.7"/>
<circle cx="556.71" cy="1624.98" r="2.9" fill="#10B53D" stroke="#089C2F" stroke-width="0.7"/>
<circle cx="553.63" cy="1641.16" r="2.9" fill="#10B53D" stroke="#089C2F" stroke-width="0.7"/>
<circle cx="575.59" cy="1598.03" r="2.9" fill="#10B53D" stroke="#089C2F" stroke-width="0.7"/>
<circle cx="389.1" cy="1626.82" r="2.9" fill="#8E3A36" stroke="#742A26" stroke-width="0.7"/>
<circle cx="602.37" cy="1558.73" r="2.9" fill="#0B6122" stroke="#084A1A" stroke-width="0.7"/>
<circle cx="580.43" cy="1629.03" r="2.9" fill="#10B53D" stroke="#089C2F" stroke-width="0.7"/>
<circle cx="604.91" cy="1556.44" r="2.9" fill="#10B53D" stroke="#089C2F" stroke-width="0.7"/>
<circle cx="355.51" cy="1604.47" r="2.9" fill="#F8736A" stroke="#E0584F" stroke-width="0.7"/>
<circle cx="373.13" cy="1597.86" r="2.9" fill="#F8736A" stroke="#E0584F" stroke-width="0.7"/>
<circle cx="584.26" cy="1590.42" r="2.9" fill="#0B6122" stroke="#084A1A" stroke-width="0.7"/>
<circle cx="594.89" cy="1559.18" r="2.9" fill="#0B6122" stroke="#084A1A" stroke-width="0.7"/>
<circle cx="591.13" cy="1577.13" r="2.9" fill="#10B53D" stroke="#089C2F" stroke-width="0.7"/>
<circle cx="416.1" cy="1651.95" r="2.9" fill="#F8736A" stroke="#E0584F" stroke-width="0.7"/>
<circle cx="377.76" cy="1618.82" r="2.9" fill="#8E3A36" stroke="#742A26" stroke-width="0.7"/>
<circle cx="582.07" cy="1581.2" r="2.9" fill="#10B53D" stroke="#089C2F" stroke-width="0.7"/>
<circle cx="407.5" cy="1636.82" r="2.9" fill="#F8736A" stroke="#E0584F" stroke-width="0.7"/>
<circle cx="588.67" cy="1618.35" r="2.9" fill="#10B53D" stroke="#089C2F" stroke-width="0.7"/>
<circle cx="381.39" cy="1610.99" r="2.9" fill="#F8736A" stroke="#E0584F" stroke-width="0.7"/>
<circle cx="337.03" cy="1572.13" r="2.9" fill="#F8736A" stroke="#E0584F" stroke-width="0.7"/>
<circle cx="376.09" cy="1602.78" r="2.9" fill="#F8736A" stroke="#E0584F" stroke-width="0.7"/>
<circle cx="569.93" cy="1585.52" r="2.9" fill="#10B53D" stroke="#089C2F" stroke-width="0.7"/>
<circle cx="585.5" cy="1594.6" r="2.9" fill="#10B53D" stroke="#089C2F" stroke-width="0.7"/>
<circle cx="584.17" cy="1572.18" r="2.9" fill="#10B53D" stroke="#089C2F" stroke-width="0.7"/>
<circle cx="414.13" cy="1641.05" r="2.9" fill="#8E3A36" stroke="#742A26" stroke-width="0.7"/>
<circle cx="559.57" cy="1636.79" r="2.9" fill="#10B53D" stroke="#089C2F" stroke-width="0.7"/>
<circle cx="604.89" cy="1541.91" r="2.9" fill="#10B53D" stroke="#089C2F" stroke-width="0.7"/>
<circle cx="402.32" cy="1653.36" r="2.9" fill="#F8736A" stroke="#E0584F" stroke-width="0.7"/>
<circle cx="570.28" cy="1571.35" r="2.9" fill="#0B6122" stroke="#084A1A" stroke-width="0.7"/>
<circle cx="386.76" cy="1636.93" r="2.9" fill="#F8736A" stroke="#E0584F" stroke-width="0.7"/>
<circle cx="347.27" cy="1585.8" r="2.9" fill="#F8736A" stroke="#E0584F" stroke-width="0.7"/>
<circle cx="366.42" cy="1582.95" r="2.9" fill="#F8736A" stroke="#E0584F" stroke-width="0.7"/>
<circle cx="383.98" cy="1627.38" r="2.9" fill="#8E3A36" stroke="#742A26" stroke-width="0.7"/>
<circle cx="392.16" cy="1635.46" r="2.9" fill="#F8736A" stroke="#E0584F" stroke-width="0.7"/>
<circle cx="372.41" cy="1617.64" r="2.9" fill="#F8736A" stroke="#E0584F" stroke-width="0.7"/>
<circle cx="562.56" cy="1628.41" r="2.9" fill="#10B53D" stroke="#089C2F" stroke-width="0.7"/>
<circle cx="406.64" cy="1642.19" r="2.9" fill="#F8736A" stroke="#E0584F" stroke-width="0.7"/>
<circle cx="360.21" cy="1581.41" r="2.9" fill="#F8736A" stroke="#E0584F" stroke-width="0.7"/>
<circle cx="402.38" cy="1650.72" r="2.9" fill="#8E3A36" stroke="#742A26" stroke-width="0.7"/>
<circle cx="378.32" cy="1630.75" r="2.9" fill="#F8736A" stroke="#E0584F" stroke-width="0.7"/>
<circle cx="382.8" cy="1618.64" r="2.9" fill="#F8736A" stroke="#E0584F" stroke-width="0.7"/>
<circle cx="384.74" cy="1630.86" r="2.9" fill="#F8736A" stroke="#E0584F" stroke-width="0.7"/>
<circle cx="585.67" cy="1540.89" r="2.9" fill="#10B53D" stroke="#089C2F" stroke-width="0.7"/>
<circle cx="393.18" cy="1640.59" r="2.9" fill="#8E3A36" stroke="#742A26" stroke-width="0.7"/>
<circle cx="590.48" cy="1607.41" r="2.9" fill="#10B53D" stroke="#089C2F" stroke-width="0.7"/>
<circle cx="563.22" cy="1634.35" r="2.9" fill="#10B53D" stroke="#089C2F" stroke-width="0.7"/>
<circle cx="578.01" cy="1622.63" r="2.9" fill="#10B53D" stroke="#089C2F" stroke-width="0.7"/>
<circle cx="595.44" cy="1609.38" r="2.9" fill="#0B6122" stroke="#084A1A" stroke-width="0.7"/>
<circle cx="585.41" cy="1607.98" r="2.9" fill="#10B53D" stroke="#089C2F" stroke-width="0.7"/>
<circle cx="403.67" cy="1650.51" r="2.9" fill="#F8736A" stroke="#E0584F" stroke-width="0.7"/>
<circle cx="556.23" cy="1610.23" r="2.9" fill="#10B53D" stroke="#089C2F" stroke-width="0.7"/>
<circle cx="403.02" cy="1646.49" r="2.9" fill="#F8736A" stroke="#E0584F" stroke-width="0.7"/>
<circle cx="412.72" cy="1642.24" r="2.9" fill="#F8736A" stroke="#E0584F" stroke-width="0.7"/>
<circle cx="592.44" cy="1602.46" r="2.9" fill="#10B53D" stroke="#089C2F" stroke-width="0.7"/>
<circle cx="383.2" cy="1596.42" r="2.9" fill="#F8736A" stroke="#E0584F" stroke-width="0.7"/>
<circle cx="396.7" cy="1647.6" r="2.9" fill="#F8736A" stroke="#E0584F" stroke-width="0.7"/>
<circle cx="398.29" cy="1642.79" r="2.9" fill="#F8736A" stroke="#E0584F" stroke-width="0.7"/>
<circle cx="574.81" cy="1635.81" r="2.9" fill="#10B53D" stroke="#089C2F" stroke-width="0.7"/>
<circle cx="567.51" cy="1650.2" r="2.9" fill="#10B53D" stroke="#089C2F" stroke-width="0.7"/>
<circle cx="414.55" cy="1651.57" r="2.9" fill="#F8736A" stroke="#E0584F" stroke-width="0.7"/>
<circle cx="555.47" cy="1641.97" r="2.9" fill="#10B53D" stroke="#089C2F" stroke-width="0.7"/>
<circle cx="607.27" cy="1555.29" r="2.9" fill="#0B6122" stroke="#084A1A" stroke-width="0.7"/>
<circle cx="612.6" cy="1553.73" r="2.9" fill="#10B53D" stroke="#089C2F" stroke-width="0.7"/>
<circle cx="599.99" cy="1564.15" r="2.9" fill="#10B53D" stroke="#089C2F" stroke-width="0.7"/>
<circle cx="596.28" cy="1591.11" r="2.9" fill="#10B53D" stroke="#089C2F" stroke-width="0.7"/>
<circle cx="577.68" cy="1597.62" r="2.9" fill="#10B53D" stroke="#089C2F" stroke-width="0.7"/>
<circle cx="586.95" cy="1558.77" r="2.9" fill="#10B53D" stroke="#089C2F" stroke-width="0.7"/>
<circle cx="401.4" cy="1617.15" r="2.9" fill="#F8736A" stroke="#E0584F" stroke-width="0.7"/>
<circle cx="561.59" cy="1638.98" r="2.9" fill="#10B53D" stroke="#089C2F" stroke-width="0.7"/>
<circle cx="330.82" cy="1555.14" r="2.9" fill="#8E3A36" stroke="#742A26" stroke-width="0.7"/>
<circle cx="369.03" cy="1592.2" r="2.9" fill="#F8736A" stroke="#E0584F" stroke-width="0.7"/>
<circle cx="381.74" cy="1607.34" r="2.9" fill="#F8736A" stroke="#E0584F" stroke-width="0.7"/>
<circle cx="593.84" cy="1577.64" r="2.9" fill="#10B53D" stroke="#089C2F" stroke-width="0.7"/>
<circle cx="361.63" cy="1577.68" r="2.9" fill="#F8736A" stroke="#E0584F" stroke-width="0.7"/>
<circle cx="585.37" cy="1618.27" r="2.9" fill="#10B53D" stroke="#089C2F" stroke-width="0.7"/>
<circle cx="574.55" cy="1577.01" r="2.9" fill="#10B53D" stroke="#089C2F" stroke-width="0.7"/>
<circle cx="400.48" cy="1618.4" r="2.9" fill="#8E3A36" stroke="#742A26" stroke-width="0.7"/>
<circle cx="581.02" cy="1579.9" r="2.9" fill="#10B53D" stroke="#089C2F" stroke-width="0.7"/>
<circle cx="385.32" cy="1637.62" r="2.9" fill="#F8736A" stroke="#E0584F" stroke-width="0.7"/>
<circle cx="576.84" cy="1626.71" r="2.9" fill="#10B53D" stroke="#089C2F" stroke-width="0.7"/>
<circle cx="407.04" cy="1637.59" r="2.9" fill="#F8736A" stroke="#E0584F" stroke-width="0.7"/>
<circle cx="601.24" cy="1561.72" r="2.9" fill="#0B6122" stroke="#084A1A" stroke-width="0.7"/>
<circle cx="356.55" cy="1591.12" r="2.9" fill="#F8736A" stroke="#E0584F" stroke-width="0.7"/>
<circle cx="570.45" cy="1626.26" r="2.9" fill="#10B53D" stroke="#089C2F" stroke-width="0.7"/>
<circle cx="387.7" cy="1646.02" r="2.9" fill="#F8736A" stroke="#E0584F" stroke-width="0.7"/>
<circle cx="410.65" cy="1645.94" r="2.9" fill="#F8736A" stroke="#E0584F" stroke-width="0.7"/>
<circle cx="403.3" cy="1635.08" r="2.9" fill="#F8736A" stroke="#E0584F" stroke-width="0.7"/>
<circle cx="552.45" cy="1606.75" r="2.9" fill="#10B53D" stroke="#089C2F" stroke-width="0.7"/>
<circle cx="392.52" cy="1642.81" r="2.9" fill="#F8736A" stroke="#E0584F" stroke-width="0.7"/>
<circle cx="363.53" cy="1597.14" r="2.9" fill="#F8736A" stroke="#E0584F" stroke-width="0.7"/>
<circle cx="398.27" cy="1644.49" r="2.9" fill="#F8736A" stroke="#E0584F" stroke-width="0.7"/>
<circle cx="571.86" cy="1623.98" r="2.9" fill="#0B6122" stroke="#084A1A" stroke-width="0.7"/>
<circle cx="396.9" cy="1637.02" r="2.9" fill="#8E3A36" stroke="#742A26" stroke-width="0.7"/>
<circle cx="584.28" cy="1566.68" r="2.9" fill="#10B53D" stroke="#089C2F" stroke-width="0.7"/>
<circle cx="577.28" cy="1624.99" r="2.9" fill="#10B53D" stroke="#089C2F" stroke-width="0.7"/>
<circle cx="348.79" cy="1589.12" r="2.9" fill="#F8736A" stroke="#E0584F" stroke-width="0.7"/>
<circle cx="592.04" cy="1563.77" r="2.9" fill="#10B53D" stroke="#089C2F" stroke-width="0.7"/>
<circle cx="411.3" cy="1653.51" r="2.9" fill="#8E3A36" stroke="#742A26" stroke-width="0.7"/>
<circle cx="400.26" cy="1615.54" r="2.9" fill="#F8736A" stroke="#E0584F" stroke-width="0.7"/>
<circle cx="569.61" cy="1646.96" r="2.9" fill="#10B53D" stroke="#089C2F" stroke-width="0.7"/>
<circle cx="346.66" cy="1590.13" r="2.9" fill="#F8736A" stroke="#E0584F" stroke-width="0.7"/>
<circle cx="556.64" cy="1646.39" r="2.9" fill="#10B53D" stroke="#089C2F" stroke-width="0.7"/>
<circle cx="350.62" cy="1575.65" r="2.9" fill="#F8736A" stroke="#E0584F" stroke-width="0.7"/>
<circle cx="403.5" cy="1644.62" r="2.9" fill="#F8736A" stroke="#E0584F" stroke-width="0.7"/>
<circle cx="571.08" cy="1642.15" r="2.9" fill="#0B6122" stroke="#084A1A" stroke-width="0.7"/>
<circle cx="587.38" cy="1564.93" r="2.9" fill="#10B53D" stroke="#089C2F" stroke-width="0.7"/>
<circle cx="585.65" cy="1583.32" r="2.9" fill="#0B6122" stroke="#084A1A" stroke-width="0.7"/>
<circle cx="615.15" cy="1573.15" r="2.9" fill="#10B53D" stroke="#089C2F" stroke-width="0.7"/>
<circle cx="374.96" cy="1608.34" r="2.9" fill="#F8736A" stroke="#E0584F" stroke-width="0.7"/>
<circle cx="587.53" cy="1620.05" r="2.9" fill="#10B53D" stroke="#089C2F" stroke-width="0.7"/>
<circle cx="366.94" cy="1591.57" r="2.9" fill="#F8736A" stroke="#E0584F" stroke-width="0.7"/>
<circle cx="367.43" cy="1614.44" r="2.9" fill="#F8736A" stroke="#E0584F" stroke-width="0.7"/>
<circle cx="409" cy="1636.22" r="2.9" fill="#F8736A" stroke="#E0584F" stroke-width="0.7"/>
<circle cx="403.54" cy="1644.48" r="2.9" fill="#F8736A" stroke="#E0584F" stroke-width="0.7"/>
<circle cx="412.24" cy="1649.78" r="2.9" fill="#F8736A" stroke="#E0584F" stroke-width="0.7"/>
<circle cx="571.24" cy="1650.4" r="2.9" fill="#10B53D" stroke="#089C2F" stroke-width="0.7"/>
<circle cx="377.29" cy="1593.71" r="2.9" fill="#F8736A" stroke="#E0584F" stroke-width="0.7"/>
<circle cx="396.28" cy="1625.52" r="2.9" fill="#F8736A" stroke="#E0584F" stroke-width="0.7"/>
<circle cx="558.66" cy="1629.69" r="2.9" fill="#10B53D" stroke="#089C2F" stroke-width="0.7"/>
<circle cx="593.82" cy="1558" r="2.9" fill="#10B53D" stroke="#089C2F" stroke-width="0.7"/>
<circle cx="412.25" cy="1652.6" r="2.9" fill="#F8736A" stroke="#E0584F" stroke-width="0.7"/>
<circle cx="578.09" cy="1606.03" r="2.9" fill="#10B53D" stroke="#089C2F" stroke-width="0.7"/>
<circle cx="553.42" cy="1626.58" r="2.9" fill="#0B6122" stroke="#084A1A" stroke-width="0.7"/>
<circle cx="595.58" cy="1554.63" r="2.9" fill="#0B6122" stroke="#084A1A" stroke-width="0.7"/>
<circle cx="567.8" cy="1646.36" r="2.9" fill="#10B53D" stroke="#089C2F" stroke-width="0.7"/>
<circle cx="393.22" cy="1614.05" r="2.9" fill="#F8736A" stroke="#E0584F" stroke-width="0.7"/>
<circle cx="400.94" cy="1647.31" r="2.9" fill="#8E3A36" stroke="#742A26" stroke-width="0.7"/>
<circle cx="557.82" cy="1637.37" r="2.9" fill="#10B53D" stroke="#089C2F" stroke-width="0.7"/>
<circle cx="603.94" cy="1597.5" r="2.9" fill="#10B53D" stroke="#089C2F" stroke-width="0.7"/>
<circle cx="564.64" cy="1621.75" r="2.9" fill="#10B53D" stroke="#089C2F" stroke-width="0.7"/>
<circle cx="391.48" cy="1636.54" r="2.9" fill="#F8736A" stroke="#E0584F" stroke-width="0.7"/>
<circle cx="591.25" cy="1624.16" r="2.9" fill="#10B53D" stroke="#089C2F" stroke-width="0.7"/>
<circle cx="394.54" cy="1643.52" r="2.9" fill="#8E3A36" stroke="#742A26" stroke-width="0.7"/>
<circle cx="596.35" cy="1551.4" r="2.9" fill="#0B6122" stroke="#084A1A" stroke-width="0.7"/>
<circle cx="584.07" cy="1576.73" r="2.9" fill="#10B53D" stroke="#089C2F" stroke-width="0.7"/>
<circle cx="552.98" cy="1638.85" r="2.9" fill="#10B53D" stroke="#089C2F" stroke-width="0.7"/>
<circle cx="410.96" cy="1653.25" r="2.9" fill="#F8736A" stroke="#E0584F" stroke-width="0.7"/>
<circle cx="600.19" cy="1568.28" r="2.9" fill="#10B53D" stroke="#089C2F" stroke-width="0.7"/>
<circle cx="383.88" cy="1616.17" r="2.9" fill="#8E3A36" stroke="#742A26" stroke-width="0.7"/>
<circle cx="577.09" cy="1637.56" r="2.9" fill="#10B53D" stroke="#089C2F" stroke-width="0.7"/>
<circle cx="406.45" cy="1637.1" r="2.9" fill="#F8736A" stroke="#E0584F" stroke-width="0.7"/>
<circle cx="349.23" cy="1585.62" r="2.9" fill="#F8736A" stroke="#E0584F" stroke-width="0.7"/>
<circle cx="561.15" cy="1633.83" r="2.9" fill="#10B53D" stroke="#089C2F" stroke-width="0.7"/>
<circle cx="589.67" cy="1557.88" r="2.9" fill="#10B53D" stroke="#089C2F" stroke-width="0.7"/>
<circle cx="397.55" cy="1649.86" r="2.9" fill="#8E3A36" stroke="#742A26" stroke-width="0.7"/>
<circle cx="360.08" cy="1541.42" r="2.9" fill="#F8736A" stroke="#E0584F" stroke-width="0.7"/>
<circle cx="369.33" cy="1600.95" r="2.9" fill="#F8736A" stroke="#E0584F" stroke-width="0.7"/>
<circle cx="562.69" cy="1624.12" r="2.9" fill="#10B53D" stroke="#089C2F" stroke-width="0.7"/>
<circle cx="561.61" cy="1599.37" r="2.9" fill="#10B53D" stroke="#089C2F" stroke-width="0.7"/>
<circle cx="571.1" cy="1613.14" r="2.9" fill="#10B53D" stroke="#089C2F" stroke-width="0.7"/>
<circle cx="583" cy="1607.79" r="2.9" fill="#0B6122" stroke="#084A1A" stroke-width="0.7"/>
<circle cx="402.84" cy="1651.91" r="2.9" fill="#F8736A" stroke="#E0584F" stroke-width="0.7"/>
<circle cx="561.05" cy="1626.37" r="2.9" fill="#10B53D" stroke="#089C2F" stroke-width="0.7"/>
<circle cx="336.11" cy="1544.78" r="2.9" fill="#F8736A" stroke="#E0584F" stroke-width="0.7"/>
<circle cx="598.06" cy="1610.62" r="2.9" fill="#0B6122" stroke="#084A1A" stroke-width="0.7"/>
<circle cx="590.83" cy="1595" r="2.9" fill="#10B53D" stroke="#089C2F" stroke-width="0.7"/>
<circle cx="403.06" cy="1632.87" r="2.9" fill="#F8736A" stroke="#E0584F" stroke-width="0.7"/>
<circle cx="585.39" cy="1611.3" r="2.9" fill="#10B53D" stroke="#089C2F" stroke-width="0.7"/>
<circle cx="564.04" cy="1628.98" r="2.9" fill="#10B53D" stroke="#089C2F" stroke-width="0.7"/>
<circle cx="404.23" cy="1625.74" r="2.9" fill="#F8736A" stroke="#E0584F" stroke-width="0.7"/>
<circle cx="587.75" cy="1604.11" r="2.9" fill="#10B53D" stroke="#089C2F" stroke-width="0.7"/>
<circle cx="573.92" cy="1623.44" r="2.9" fill="#0B6122" stroke="#084A1A" stroke-width="0.7"/>
<circle cx="590.33" cy="1540.34" r="2.9" fill="#10B53D" stroke="#089C2F" stroke-width="0.7"/>
<circle cx="386.26" cy="1608.54" r="2.9" fill="#F8736A" stroke="#E0584F" stroke-width="0.7"/>
<circle cx="393.49" cy="1638.89" r="2.9" fill="#F8736A" stroke="#E0584F" stroke-width="0.7"/>
<circle cx="340.44" cy="1581.8" r="2.9" fill="#8E3A36" stroke="#742A26" stroke-width="0.7"/>
<circle cx="415.56" cy="1630.72" r="2.9" fill="#F8736A" stroke="#E0584F" stroke-width="0.7"/>
<circle cx="585.83" cy="1629.64" r="2.9" fill="#0B6122" stroke="#084A1A" stroke-width="0.7"/>
<circle cx="404.72" cy="1628.27" r="2.9" fill="#8E3A36" stroke="#742A26" stroke-width="0.7"/>
<circle cx="570.37" cy="1625.05" r="2.9" fill="#10B53D" stroke="#089C2F" stroke-width="0.7"/>
<circle cx="354.7" cy="1601.87" r="2.9" fill="#F8736A" stroke="#E0584F" stroke-width="0.7"/>
<circle cx="400.64" cy="1625.14" r="2.9" fill="#F8736A" stroke="#E0584F" stroke-width="0.7"/>
<circle cx="555.14" cy="1643.72" r="2.9" fill="#10B53D" stroke="#089C2F" stroke-width="0.7"/>
<circle cx="565.72" cy="1649.03" r="2.9" fill="#10B53D" stroke="#089C2F" stroke-width="0.7"/>
<circle cx="562.31" cy="1645.42" r="2.9" fill="#10B53D" stroke="#089C2F" stroke-width="0.7"/>
<circle cx="371.36" cy="1595.45" r="2.9" fill="#8E3A36" stroke="#742A26" stroke-width="0.7"/>
<circle cx="348.26" cy="1563.13" r="2.9" fill="#8E3A36" stroke="#742A26" stroke-width="0.7"/>
<circle cx="376.8" cy="1607.71" r="2.9" fill="#F8736A" stroke="#E0584F" stroke-width="0.7"/>
<circle cx="579.99" cy="1620.4" r="2.9" fill="#10B53D" stroke="#089C2F" stroke-width="0.7"/>
<circle cx="576.14" cy="1611.11" r="2.9" fill="#10B53D" stroke="#089C2F" stroke-width="0.7"/>
<circle cx="555.5" cy="1639.26" r="2.9" fill="#0B6122" stroke="#084A1A" stroke-width="0.7"/>
<circle cx="567.97" cy="1593.37" r="2.9" fill="#10B53D" stroke="#089C2F" stroke-width="0.7"/>
<circle cx="340.01" cy="1545.44" r="2.9" fill="#F8736A" stroke="#E0584F" stroke-width="0.7"/>
<circle cx="409.23" cy="1645.06" r="2.9" fill="#F8736A" stroke="#E0584F" stroke-width="0.7"/>
<circle cx="207.3" cy="889.3" r="2.9" fill="#F8736A" stroke="#E0584F" stroke-width="0.7"/>
<circle cx="284.3" cy="1024.3" r="2.9" fill="#F8736A" stroke="#E0584F" stroke-width="0.7"/>
<circle cx="220.1" cy="1194.1" r="2.9" fill="#F8736A" stroke="#E0584F" stroke-width="0.7"/>
<circle cx="250.5" cy="1229" r="2.9" fill="#F8736A" stroke="#E0584F" stroke-width="0.7"/>
<circle cx="265.6" cy="1233.2" r="2.9" fill="#F8736A" stroke="#E0584F" stroke-width="0.7"/>
<circle cx="172.4" cy="1293" r="2.9" fill="#F8736A" stroke="#E0584F" stroke-width="0.7"/>
<circle cx="200.5" cy="1294.3" r="2.9" fill="#F8736A" stroke="#E0584F" stroke-width="0.7"/>
<circle cx="319.4" cy="1280.6" r="2.9" fill="#F8736A" stroke="#E0584F" stroke-width="0.7"/>
<circle cx="224.8" cy="1309" r="2.9" fill="#F8736A" stroke="#E0584F" stroke-width="0.7"/>
<circle cx="234.3" cy="1310.6" r="2.9" fill="#F8736A" stroke="#E0584F" stroke-width="0.7"/>
<circle cx="301.9" cy="1309.6" r="2.9" fill="#F8736A" stroke="#E0584F" stroke-width="0.7"/>
<circle cx="293.9" cy="1316.7" r="2.9" fill="#F8736A" stroke="#E0584F" stroke-width="0.7"/>
<circle cx="297.1" cy="1331.9" r="2.9" fill="#8E3A36" stroke="#742A26" stroke-width="0.7"/>
<circle cx="327.6" cy="1333.2" r="2.9" fill="#F8736A" stroke="#E0584F" stroke-width="0.7"/>
<circle cx="240.6" cy="1377.2" r="2.9" fill="#F8736A" stroke="#E0584F" stroke-width="0.7"/>
<circle cx="286.7" cy="1375.7" r="2.9" fill="#8E3A36" stroke="#742A26" stroke-width="0.7"/>
<circle cx="231.6" cy="1418.4" r="2.9" fill="#F8736A" stroke="#E0584F" stroke-width="0.7"/>
<circle cx="252.5" cy="1415.4" r="2.9" fill="#F8736A" stroke="#E0584F" stroke-width="0.7"/>
<circle cx="334.8" cy="1408.6" r="2.9" fill="#F8736A" stroke="#E0584F" stroke-width="0.7"/>
<circle cx="332.8" cy="1412.9" r="2.9" fill="#F8736A" stroke="#E0584F" stroke-width="0.7"/>
<circle cx="345.9" cy="1413.1" r="2.9" fill="#F8736A" stroke="#E0584F" stroke-width="0.7"/>
<circle cx="374.4" cy="1413" r="2.9" fill="#F8736A" stroke="#E0584F" stroke-width="0.7"/>
<circle cx="238.2" cy="1433.7" r="2.9" fill="#F8736A" stroke="#E0584F" stroke-width="0.7"/>
<circle cx="288.5" cy="1437.1" r="2.9" fill="#F8736A" stroke="#E0584F" stroke-width="0.7"/>
<circle cx="309" cy="1448.5" r="2.9" fill="#F8736A" stroke="#E0584F" stroke-width="0.7"/>
<circle cx="274.6" cy="1466.9" r="2.9" fill="#F8736A" stroke="#E0584F" stroke-width="0.7"/>
<circle cx="293" cy="1464.6" r="2.9" fill="#F8736A" stroke="#E0584F" stroke-width="0.7"/>
<circle cx="381.3" cy="1474.1" r="2.9" fill="#F8736A" stroke="#E0584F" stroke-width="0.7"/>
<clipPath id="dclip"><rect x="98" y="840" width="1210" height="860"/></clipPath>
<g clip-path="url(#dclip)">
<circle cx="980.8" cy="840" r="2.9" fill="#10B53D" stroke="#089C2F" stroke-width="0.7"/>
<circle cx="1002.1" cy="878.9" r="2.9" fill="#10B53D" stroke="#089C2F" stroke-width="0.7"/>
<circle cx="1193.3" cy="885" r="2.9" fill="#10B53D" stroke="#089C2F" stroke-width="0.7"/>
<circle cx="905.3" cy="903.6" r="2.9" fill="#10B53D" stroke="#089C2F" stroke-width="0.7"/>
<circle cx="1122.9" cy="961.9" r="2.9" fill="#10B53D" stroke="#089C2F" stroke-width="0.7"/>
<circle cx="838.3" cy="968" r="2.9" fill="#10B53D" stroke="#089C2F" stroke-width="0.7"/>
<circle cx="852.4" cy="1000" r="2.9" fill="#10B53D" stroke="#089C2F" stroke-width="0.7"/>
<circle cx="805.5" cy="1081.5" r="2.9" fill="#10B53D" stroke="#089C2F" stroke-width="0.7"/>
<circle cx="826.1" cy="1086.1" r="2.9" fill="#10B53D" stroke="#089C2F" stroke-width="0.7"/>
<circle cx="824.6" cy="1102.1" r="2.9" fill="#10B53D" stroke="#089C2F" stroke-width="0.7"/>
<circle cx="824.2" cy="1112.8" r="2.9" fill="#10B53D" stroke="#089C2F" stroke-width="0.7"/>
<circle cx="873.7" cy="1110.1" r="2.9" fill="#10B53D" stroke="#089C2F" stroke-width="0.7"/>
<circle cx="687.4" cy="1120" r="2.9" fill="#10B53D" stroke="#089C2F" stroke-width="0.7"/>
<circle cx="750.7" cy="1139" r="2.9" fill="#10B53D" stroke="#089C2F" stroke-width="0.7"/>
<circle cx="778.1" cy="1166.5" r="2.9" fill="#10B53D" stroke="#089C2F" stroke-width="0.7"/>
<circle cx="805.1" cy="1168.8" r="2.9" fill="#10B53D" stroke="#089C2F" stroke-width="0.7"/>
<circle cx="826.5" cy="1178.7" r="2.9" fill="#10B53D" stroke="#089C2F" stroke-width="0.7"/>
<circle cx="848.2" cy="1177.9" r="2.9" fill="#10B53D" stroke="#089C2F" stroke-width="0.7"/>
<circle cx="826.5" cy="1189.7" r="2.9" fill="#10B53D" stroke="#089C2F" stroke-width="0.7"/>
<circle cx="767" cy="1201.1" r="2.9" fill="#10B53D" stroke="#089C2F" stroke-width="0.7"/>
<circle cx="903.4" cy="1221" r="2.9" fill="#10B53D" stroke="#089C2F" stroke-width="0.7"/>
<circle cx="866.1" cy="1230.5" r="2.9" fill="#10B53D" stroke="#089C2F" stroke-width="0.7"/>
<circle cx="836" cy="1235.4" r="2.9" fill="#10B53D" stroke="#089C2F" stroke-width="0.7"/>
<circle cx="900.4" cy="1266.8" r="2.9" fill="#10B53D" stroke="#089C2F" stroke-width="0.7"/>
<circle cx="705" cy="1280.1" r="2.9" fill="#10B53D" stroke="#089C2F" stroke-width="0.7"/>
<circle cx="762.5" cy="1277.8" r="2.9" fill="#10B53D" stroke="#089C2F" stroke-width="0.7"/>
<circle cx="728.6" cy="1289.6" r="2.9" fill="#10B53D" stroke="#089C2F" stroke-width="0.7"/>
<circle cx="765.5" cy="1294.4" r="2.9" fill="#10B53D" stroke="#089C2F" stroke-width="0.7"/>
<circle cx="795.2" cy="1300.5" r="2.9" fill="#10B53D" stroke="#089C2F" stroke-width="0.7"/>
<circle cx="813.5" cy="1288.6" r="2.9" fill="#10B53D" stroke="#089C2F" stroke-width="0.7"/>
<circle cx="738.9" cy="1305" r="2.9" fill="#10B53D" stroke="#089C2F" stroke-width="0.7"/>
<circle cx="730.1" cy="1310.7" r="2.9" fill="#10B53D" stroke="#089C2F" stroke-width="0.7"/>
<circle cx="766.7" cy="1324" r="2.9" fill="#10B53D" stroke="#089C2F" stroke-width="0.7"/>
<circle cx="961.3" cy="1323.6" r="2.9" fill="#10B53D" stroke="#089C2F" stroke-width="0.7"/>
<circle cx="724" cy="1335" r="2.9" fill="#10B53D" stroke="#089C2F" stroke-width="0.7"/>
<circle cx="760.2" cy="1367.8" r="2.9" fill="#10B53D" stroke="#089C2F" stroke-width="0.7"/>
</g>
<line x1="234.3" y1="1210.8" x2="245.1" y2="1210.8" stroke="#7F7F7F" stroke-width="1.1"/>
<line x1="231.4" y1="1319.1" x2="246" y2="1308" stroke="#7F7F7F" stroke-width="1.1"/>
<line x1="213.7" y1="1347.7" x2="224.2" y2="1349.5" stroke="#7F7F7F" stroke-width="1.1"/>
<line x1="277.5" y1="1414.7" x2="290.5" y2="1403.5" stroke="#7F7F7F" stroke-width="1.1"/>
<line x1="250.4" y1="1429.5" x2="294.7" y2="1429.5" stroke="#7F7F7F" stroke-width="1.1"/>
<line x1="283.9" y1="1451.4" x2="294.4" y2="1462" stroke="#7F7F7F" stroke-width="1.1"/>
<line x1="953.3" y1="1172.6" x2="964.8" y2="1172.6" stroke="#7F7F7F" stroke-width="1.1"/>
<line x1="754.1" y1="1222.1" x2="764.8" y2="1222.3" stroke="#7F7F7F" stroke-width="1.1"/>
<line x1="803.6" y1="1297" x2="815.4" y2="1290" stroke="#7F7F7F" stroke-width="1.1"/>
<line x1="773.5" y1="1308.8" x2="785.5" y2="1319" stroke="#7F7F7F" stroke-width="1.1"/>
<line x1="720.2" y1="1378.1" x2="719.5" y2="1366" stroke="#7F7F7F" stroke-width="1.1"/>
<line x1="714.5" y1="1395.2" x2="776.2" y2="1381.5" stroke="#7F7F7F" stroke-width="1.1"/>
<line x1="713.3" y1="1432.2" x2="724" y2="1424" stroke="#7F7F7F" stroke-width="1.1"/>
<line x1="672.4" y1="1440.5" x2="684.2" y2="1453" stroke="#7F7F7F" stroke-width="1.1"/>
<line x1="794" y1="1442.5" x2="806.2" y2="1451" stroke="#7F7F7F" stroke-width="1.1"/>
<line x1="685.8" y1="1481" x2="696.6" y2="1492" stroke="#7F7F7F" stroke-width="1.1"/>
<line x1="672.2" y1="1545.9" x2="659" y2="1534.5" stroke="#7F7F7F" stroke-width="1.1"/>
<line x1="684" y1="1575.8" x2="695.2" y2="1567.5" stroke="#7F7F7F" stroke-width="1.1"/>
<line x1="795.7" y1="1561.7" x2="806.7" y2="1559.5" stroke="#7F7F7F" stroke-width="1.1"/>
<line x1="743.8" y1="1585.1" x2="754.8" y2="1592.5" stroke="#7F7F7F" stroke-width="1.1"/>
<line x1="684.5" y1="1615.4" x2="696.5" y2="1637" stroke="#7F7F7F" stroke-width="1.1"/>
<circle cx="234.3" cy="1210.8" r="3.2" fill="#8E3A36"/>
<circle cx="231.4" cy="1319.1" r="3.2" fill="#8E3A36"/>
<circle cx="213.7" cy="1347.7" r="3.2" fill="#8E3A36"/>
<circle cx="277.5" cy="1414.7" r="3.2" fill="#8E3A36"/>
<circle cx="250.4" cy="1429.5" r="3.2" fill="#8E3A36"/>
<circle cx="283.9" cy="1451.4" r="3.2" fill="#8E3A36"/>
<circle cx="953.3" cy="1172.6" r="3.2" fill="#0B4F1C"/>
<circle cx="754.1" cy="1222.1" r="3.2" fill="#0B4F1C"/>
<circle cx="803.6" cy="1297" r="3.2" fill="#0B4F1C"/>
<circle cx="773.5" cy="1308.8" r="3.2" fill="#0B4F1C"/>
<circle cx="720.2" cy="1378.1" r="3.2" fill="#0B4F1C"/>
<circle cx="714.5" cy="1395.2" r="3.2" fill="#0B4F1C"/>
<circle cx="713.3" cy="1432.2" r="3.2" fill="#0B4F1C"/>
<circle cx="672.4" cy="1440.5" r="3.2" fill="#0B4F1C"/>
<circle cx="794" cy="1442.5" r="3.2" fill="#0B4F1C"/>
<circle cx="685.8" cy="1481" r="3.2" fill="#0B4F1C"/>
<circle cx="672.2" cy="1545.9" r="3.2" fill="#0B4F1C"/>
<circle cx="684" cy="1575.8" r="3.2" fill="#0B4F1C"/>
<circle cx="795.7" cy="1561.7" r="3.2" fill="#0B4F1C"/>
<circle cx="743.8" cy="1585.1" r="3.2" fill="#0B4F1C"/>
<circle cx="684.5" cy="1615.4" r="3.2" fill="#0B4F1C"/>
<rect x="245.1" y="1197.6" width="118.67" height="26.2" rx="2.2" fill="#964640"/>
<text x="248.8" y="1219.9" font-size="26" fill="#fff" font-weight="bold">C10orf54</text>
<rect x="204.4" y="1281.6" width="201.82" height="26.2" rx="2.2" fill="#964640"/>
<text x="208.1" y="1303.9" font-size="26" fill="#fff" font-weight="bold">RP11−142M10.2</text>
<rect x="224.2" y="1336.4" width="140.35" height="26.2" rx="2.2" fill="#964640"/>
<text x="227.9" y="1358.7" font-size="26" fill="#fff" font-weight="bold">LINC00996</text>
<rect x="253.3" y="1377.2" width="124.43" height="26.2" rx="2.2" fill="#964640"/>
<text x="257" y="1399.5" font-size="26" fill="#fff" font-weight="bold">FAM105A</text>
<rect x="294.7" y="1416.5" width="201.82" height="26.2" rx="2.2" fill="#964640"/>
<text x="298.4" y="1438.8" font-size="26" fill="#fff" font-weight="bold">RP11−631M21.1</text>
<rect x="294.4" y="1455.3" width="81.08" height="26.2" rx="2.2" fill="#964640"/>
<text x="298.1" y="1477.6" font-size="26" fill="#fff" font-weight="bold">LPIN2</text>
<rect x="964.8" y="1159.4" width="75.29" height="26.2" rx="2.2" fill="#0C6125"/>
<text x="968.5" y="1181.7" font-size="26" fill="#fff" font-weight="bold">CCL3</text>
<rect x="764.8" y="1209.4" width="72.4" height="26.2" rx="2.2" fill="#0C6125"/>
<text x="768.5" y="1231.7" font-size="26" fill="#fff" font-weight="bold">FTH1</text>
<rect x="815.4" y="1272.9" width="98.4" height="26.2" rx="2.2" fill="#0C6125"/>
<text x="819.1" y="1295.2" font-size="26" fill="#fff" font-weight="bold">TMEM2</text>
<rect x="785" y="1313.2" width="107.09" height="26.2" rx="2.2" fill="#0C6125"/>
<text x="788.7" y="1335.5" font-size="26" fill="#fff" font-weight="bold">SLC2A3</text>
<rect x="671.4" y="1340" width="92.66" height="26.2" rx="2.2" fill="#0C6125"/>
<text x="675.1" y="1362.3" font-size="26" fill="#fff" font-weight="bold">GPR84</text>
<rect x="776.2" y="1366.6" width="114.29" height="26.2" rx="2.2" fill="#0C6125"/>
<text x="779.9" y="1388.9" font-size="26" fill="#fff" font-weight="bold">FCGR1B</text>
<rect x="723.6" y="1406.3" width="73.87" height="26.2" rx="2.2" fill="#0C6125"/>
<text x="727.3" y="1428.6" font-size="26" fill="#fff" font-weight="bold">CD58</text>
<rect x="684" y="1446" width="109.98" height="26.2" rx="2.2" fill="#0C6125"/>
<text x="687.7" y="1468.3" font-size="26" fill="#fff" font-weight="bold">PLSCR1</text>
<rect x="806" y="1445.8" width="92.66" height="26.2" rx="2.2" fill="#0C6125"/>
<text x="809.7" y="1468.1" font-size="26" fill="#fff" font-weight="bold">RGS16</text>
<rect x="696.4" y="1485.5" width="167.84" height="26.2" rx="2.2" fill="#0C6125"/>
<text x="700.1" y="1507.8" font-size="26" fill="#fff" font-weight="bold">AC017101.10</text>
<rect x="599.8" y="1508.6" width="83.95" height="26.2" rx="2.2" fill="#0C6125"/>
<text x="603.5" y="1530.9" font-size="26" fill="#fff" font-weight="bold">HAMP</text>
<rect x="695" y="1548.3" width="75.28" height="26.2" rx="2.2" fill="#0C6125"/>
<text x="698.7" y="1570.6" font-size="26" fill="#fff" font-weight="bold">CTSL</text>
<rect x="806.7" y="1546.6" width="75.29" height="26.2" rx="2.2" fill="#0C6125"/>
<text x="810.4" y="1568.9" font-size="26" fill="#fff" font-weight="bold">CCL8</text>
<rect x="754.6" y="1587.3" width="92.64" height="26.2" rx="2.2" fill="#0C6125"/>
<text x="758.3" y="1609.6" font-size="26" fill="#fff" font-weight="bold">CXCL8</text>
<rect x="696" y="1627" width="105.63" height="26.2" rx="2.2" fill="#0C6125"/>
<text x="699.7" y="1649.3" font-size="26" fill="#fff" font-weight="bold">CCL4L2</text>
<line x1="97.3" y1="840" x2="97.3" y2="1699.8" stroke="#2E2E2E" stroke-width="2"/>
<line x1="96.65" y1="1698.8" x2="1306" y2="1698.8" stroke="#2E2E2E" stroke-width="2"/>
<line x1="93.8" y1="1659.7" x2="97" y2="1659.7" stroke="#444" stroke-width="1.2"/>
<text x="89.9" y="1669.3" font-size="24.7" fill="#4D4D4D" text-anchor="end">0</text>
<line x1="93.8" y1="1363" x2="97" y2="1363" stroke="#444" stroke-width="1.2"/>
<text x="89.9" y="1372.6" font-size="24.7" fill="#4D4D4D" text-anchor="end">100</text>
<line x1="93.8" y1="1066.3" x2="97" y2="1066.3" stroke="#444" stroke-width="1.2"/>
<text x="89.9" y="1075.9" font-size="24.7" fill="#4D4D4D" text-anchor="end">200</text>
<line x1="151.8" y1="1699" x2="151.8" y2="1702.6" stroke="#444" stroke-width="1.2"/>
<text x="150.6" y="1724" font-size="24.4" fill="#4D4D4D" text-anchor="middle">−1</text>
<line x1="485" y1="1699" x2="485" y2="1702.6" stroke="#444" stroke-width="1.2"/>
<text x="485" y="1724" font-size="24.4" fill="#4D4D4D" text-anchor="middle">0</text>
<line x1="818.2" y1="1699" x2="818.2" y2="1702.6" stroke="#444" stroke-width="1.2"/>
<text x="818.2" y="1724" font-size="24.4" fill="#4D4D4D" text-anchor="middle">1</text>
<line x1="1151.4" y1="1699" x2="1151.4" y2="1702.6" stroke="#444" stroke-width="1.2"/>
<text x="1151.4" y="1724" font-size="24.4" fill="#4D4D4D" text-anchor="middle">2</text>
<text x="701.4" y="1750.2" font-size="28.2" fill="#000" text-anchor="middle">avg_logFC</text>
<text transform="translate(40.6 1270.8) rotate(-90)" font-size="28.2" fill="#000" text-anchor="middle">−log10 p−value adjusted</text>
<text x="1019.4" y="1517.2" font-size="28" fill="#000">Cluster</text>
<circle cx="1030.1" cy="1544.2" r="7.4" fill="#0B6122"/>
<text x="1055.4" y="1552.2" font-size="23" fill="#000">CRM.no.orthology</text>
<text x="1251.4" y="1549.5" font-size="15" fill="#000" font-weight="bold">(79)</text>
<circle cx="1030.1" cy="1566.58" r="7.4" fill="#10B53D"/>
<text x="1055.4" y="1574.58" font-size="23" fill="#000">CRM.orthology</text>
<text x="1251.4" y="1571.88" font-size="15" fill="#000" font-weight="bold">(393)</text>
<circle cx="1030.1" cy="1588.96" r="7.4" fill="#8E3A36"/>
<text x="1055.4" y="1596.96" font-size="23" fill="#000">HM.no.orthology</text>
<text x="1251.4" y="1594.26" font-size="15" fill="#000" font-weight="bold">(127)</text>
<circle cx="1030.1" cy="1611.34" r="7.4" fill="#F8736A"/>
<text x="1055.4" y="1619.34" font-size="23" fill="#000">HM.orthology</text>
<text x="1251.4" y="1616.64" font-size="15" fill="#000" font-weight="bold">(464)</text>
<circle cx="1030.1" cy="1633.72" r="7.4" fill="#CCCCCC"/>
<text x="1055.4" y="1641.72" font-size="23" fill="#000">ns</text>
<text x="1251.4" y="1639.02" font-size="15" fill="#000" font-weight="bold">(12)</text>
</g>
<g id="panel-e">
<text x="1391.8" y="864" font-size="78" fill="#000">e</text>
<line x1="1823.2" y1="930.5" x2="1823.2" y2="1240.5" stroke="#EDEDED" stroke-width="0.6"/>
<line x1="1878.9" y1="930.5" x2="1878.9" y2="1240.5" stroke="#E4E4E4" stroke-width="0.9"/>
<line x1="1934.7" y1="930.5" x2="1934.7" y2="1240.5" stroke="#EDEDED" stroke-width="0.6"/>
<line x1="1990.4" y1="930.5" x2="1990.4" y2="1240.5" stroke="#E4E4E4" stroke-width="0.9"/>
<line x1="2046.2" y1="930.5" x2="2046.2" y2="1240.5" stroke="#EDEDED" stroke-width="0.6"/>
<line x1="1751" y1="952.8" x2="2094.5" y2="952.8" stroke="#E9E9E9" stroke-width="0.9"/>
<line x1="1751" y1="990.9" x2="2094.5" y2="990.9" stroke="#E9E9E9" stroke-width="0.9"/>
<line x1="1751" y1="1028.7" x2="2094.5" y2="1028.7" stroke="#E9E9E9" stroke-width="0.9"/>
<line x1="1751" y1="1066.4" x2="2094.5" y2="1066.4" stroke="#E9E9E9" stroke-width="0.9"/>
<line x1="1751" y1="1104.2" x2="2094.5" y2="1104.2" stroke="#E9E9E9" stroke-width="0.9"/>
<line x1="1751" y1="1142.3" x2="2094.5" y2="1142.3" stroke="#E9E9E9" stroke-width="0.9"/>
<line x1="1751" y1="1180.4" x2="2094.5" y2="1180.4" stroke="#E9E9E9" stroke-width="0.9"/>
<line x1="1751" y1="1218.1" x2="2094.5" y2="1218.1" stroke="#E9E9E9" stroke-width="0.9"/>
<line x1="1767.1" y1="952.8" x2="2078.7" y2="952.8" stroke="#BDBDBD" stroke-width="1.3"/>
<line x1="1767.1" y1="990.9" x2="1943.9" y2="990.9" stroke="#BDBDBD" stroke-width="1.3"/>
<line x1="1767.1" y1="1028.7" x2="1941.7" y2="1028.7" stroke="#BDBDBD" stroke-width="1.3"/>
<line x1="1767.1" y1="1066.4" x2="1939.6" y2="1066.4" stroke="#BDBDBD" stroke-width="1.3"/>
<line x1="1767.1" y1="1104.2" x2="1929.8" y2="1104.2" stroke="#BDBDBD" stroke-width="1.3"/>
<line x1="1767.1" y1="1142.3" x2="1921.6" y2="1142.3" stroke="#BDBDBD" stroke-width="1.3"/>
<line x1="1767.1" y1="1180.4" x2="1912.1" y2="1180.4" stroke="#BDBDBD" stroke-width="1.3"/>
<line x1="1767.1" y1="1218.1" x2="1906.1" y2="1218.1" stroke="#BDBDBD" stroke-width="1.3"/>
<line x1="1767.1" y1="930.5" x2="1767.1" y2="1240.5" stroke="#2B2B2B" stroke-width="1.6"/>
<line x1="1912.1" y1="933.5" x2="1912.1" y2="1240.5" stroke="#333333" stroke-width="1.6" stroke-dasharray="1.6 4.3"/>
<circle cx="2078.7" cy="952.8" r="5.2" fill="#1B5E20"/>
<text transform="translate(1747.7 960) scale(0.89 1)" font-size="18.7" fill="#575757" text-anchor="end">cellular response to tumor necrosis factor</text>
<circle cx="1943.9" cy="990.9" r="5.2" fill="#1B5E20"/>
<text transform="translate(1747.7 998.1) scale(0.89 1)" font-size="18.7" fill="#575757" text-anchor="end">cellular response to cytokine stimulus</text>
<circle cx="1941.7" cy="1028.7" r="5.2" fill="#1B5E20"/>
<text transform="translate(1747.7 1035.9) scale(0.89 1)" font-size="18.7" fill="#575757" text-anchor="end">response to cytokine</text>
<circle cx="1939.6" cy="1066.4" r="5.2" fill="#1B5E20"/>
<text transform="translate(1747.7 1073.6) scale(0.89 1)" font-size="18.7" fill="#575757" text-anchor="end">chemokine-mediated signaling pathway</text>
<circle cx="1929.8" cy="1104.2" r="5.2" fill="#1B5E20"/>
<text transform="translate(1747.7 1111.4) scale(0.89 1)" font-size="18.7" fill="#575757" text-anchor="end">response to interleukin-1</text>
<circle cx="1921.6" cy="1142.3" r="5.2" fill="#1B5E20"/>
<text transform="translate(1747.7 1149.5) scale(0.89 1)" font-size="18.7" fill="#575757" text-anchor="end">neutrophil chemotaxis</text>
<circle cx="1912.1" cy="1180.4" r="5.2" fill="#1B5E20"/>
<text transform="translate(1747.7 1187.6) scale(0.89 1)" font-size="18.7" fill="#575757" text-anchor="end">cellular response to interferon-gamma</text>
<circle cx="1906.1" cy="1218.1" r="5.2" fill="#1B5E20"/>
<text transform="translate(1747.7 1225.3) scale(0.89 1)" font-size="18.7" fill="#575757" text-anchor="end">inflammatory response</text>
<text transform="translate(1757.9 921.5) scale(0.83 1)" font-size="20" fill="#1A1A1A">cytokines/chemokines</text>
<rect x="2102.7" y="937" width="5.3" height="299.5" fill="#EE7770"/>
<line x1="1823.2" y1="1291" x2="1823.2" y2="1330" stroke="#EDEDED" stroke-width="0.6"/>
<line x1="1878.9" y1="1291" x2="1878.9" y2="1330" stroke="#E4E4E4" stroke-width="0.9"/>
<line x1="1934.7" y1="1291" x2="1934.7" y2="1330" stroke="#EDEDED" stroke-width="0.6"/>
<line x1="1990.4" y1="1291" x2="1990.4" y2="1330" stroke="#E4E4E4" stroke-width="0.9"/>
<line x1="2046.2" y1="1291" x2="2046.2" y2="1330" stroke="#EDEDED" stroke-width="0.6"/>
<line x1="1751" y1="1310.5" x2="2094.5" y2="1310.5" stroke="#E9E9E9" stroke-width="0.9"/>
<line x1="1767.1" y1="1310.5" x2="1899.4" y2="1310.5" stroke="#BDBDBD" stroke-width="1.3"/>
<line x1="1767.1" y1="1291" x2="1767.1" y2="1330" stroke="#2B2B2B" stroke-width="1.6"/>
<line x1="1912.1" y1="1294" x2="1912.1" y2="1330" stroke="#333333" stroke-width="1.6" stroke-dasharray="1.6 4.3"/>
<circle cx="1899.4" cy="1310.5" r="5.2" fill="#1B5E20"/>
<text transform="translate(1747.7 1317.7) scale(0.89 1)" font-size="18.7" fill="#575757" text-anchor="end">immune system process</text>
<text transform="translate(1757.9 1283) scale(0.83 1)" font-size="20" fill="#1A1A1A">immune response</text>
<rect x="2102.7" y="1288.2" width="5.3" height="45.2" fill="#BFA008"/>
<line x1="1823.2" y1="1380.5" x2="1823.2" y2="1457.5" stroke="#EDEDED" stroke-width="0.6"/>
<line x1="1878.9" y1="1380.5" x2="1878.9" y2="1457.5" stroke="#E4E4E4" stroke-width="0.9"/>
<line x1="1934.7" y1="1380.5" x2="1934.7" y2="1457.5" stroke="#EDEDED" stroke-width="0.6"/>
<line x1="1990.4" y1="1380.5" x2="1990.4" y2="1457.5" stroke="#E4E4E4" stroke-width="0.9"/>
<line x1="2046.2" y1="1380.5" x2="2046.2" y2="1457.5" stroke="#EDEDED" stroke-width="0.6"/>
<line x1="1751" y1="1401.1" x2="2094.5" y2="1401.1" stroke="#E9E9E9" stroke-width="0.9"/>
<line x1="1751" y1="1436.1" x2="2094.5" y2="1436.1" stroke="#E9E9E9" stroke-width="0.9"/>
<line x1="1767.1" y1="1401.1" x2="1935.4" y2="1401.1" stroke="#BDBDBD" stroke-width="1.3"/>
<line x1="1767.1" y1="1436.1" x2="1902.9" y2="1436.1" stroke="#BDBDBD" stroke-width="1.3"/>
<line x1="1767.1" y1="1380.5" x2="1767.1" y2="1457.5" stroke="#2B2B2B" stroke-width="1.6"/>
<line x1="1912.1" y1="1383.5" x2="1912.1" y2="1457.5" stroke="#333333" stroke-width="1.6" stroke-dasharray="1.6 4.3"/>
<circle cx="1935.4" cy="1401.1" r="5.2" fill="#1B5E20"/>
<text transform="translate(1747.7 1408.3) scale(0.89 1)" font-size="18.7" fill="#575757" text-anchor="end">leukocyte migration</text>
<circle cx="1902.9" cy="1436.1" r="5.2" fill="#1B5E20"/>
<text transform="translate(1747.7 1443.3) scale(0.89 1)" font-size="18.7" fill="#575757" text-anchor="end">cell motility</text>
<text transform="translate(1757.9 1372) scale(0.83 1)" font-size="20" fill="#1A1A1A">migration</text>
<rect x="2102.7" y="1381" width="5.3" height="74" fill="#38B73F"/>
<line x1="1823.2" y1="1508" x2="1823.2" y2="1663" stroke="#EDEDED" stroke-width="0.6"/>
<line x1="1878.9" y1="1508" x2="1878.9" y2="1663" stroke="#E4E4E4" stroke-width="0.9"/>
<line x1="1934.7" y1="1508" x2="1934.7" y2="1663" stroke="#EDEDED" stroke-width="0.6"/>
<line x1="1990.4" y1="1508" x2="1990.4" y2="1663" stroke="#E4E4E4" stroke-width="0.9"/>
<line x1="2046.2" y1="1508" x2="2046.2" y2="1663" stroke="#EDEDED" stroke-width="0.6"/>
<line x1="1751" y1="1529.9" x2="2094.5" y2="1529.9" stroke="#E9E9E9" stroke-width="0.9"/>
<line x1="1751" y1="1567" x2="2094.5" y2="1567" stroke="#E9E9E9" stroke-width="0.9"/>
<line x1="1751" y1="1604" x2="2094.5" y2="1604" stroke="#E9E9E9" stroke-width="0.9"/>
<line x1="1751" y1="1641.1" x2="2094.5" y2="1641.1" stroke="#E9E9E9" stroke-width="0.9"/>
<line x1="1767.1" y1="1529.9" x2="1942.8" y2="1529.9" stroke="#BDBDBD" stroke-width="1.3"/>
<line x1="1767.1" y1="1567" x2="1942.1" y2="1567" stroke="#BDBDBD" stroke-width="1.3"/>
<line x1="1767.1" y1="1604" x2="1919.5" y2="1604" stroke="#BDBDBD" stroke-width="1.3"/>
<line x1="1767.1" y1="1641.1" x2="1918.8" y2="1641.1" stroke="#BDBDBD" stroke-width="1.3"/>
<line x1="1767.1" y1="1508" x2="1767.1" y2="1663" stroke="#2B2B2B" stroke-width="1.6"/>
<line x1="1912.1" y1="1511" x2="1912.1" y2="1663" stroke="#333333" stroke-width="1.6" stroke-dasharray="1.6 4.3"/>
<circle cx="1942.8" cy="1529.9" r="5.2" fill="#1B5E20"/>
<text transform="translate(1747.7 1537.1) scale(0.89 1)" font-size="18.7" fill="#575757" text-anchor="end">regulation of GTPase activity</text>
<circle cx="1942.1" cy="1567" r="5.2" fill="#1B5E20"/>
<text transform="translate(1747.7 1574.2) scale(0.89 1)" font-size="18.7" fill="#575757" text-anchor="end">signal transduction</text>
<circle cx="1919.5" cy="1604" r="5.2" fill="#1B5E20"/>
<text transform="translate(1747.7 1611.2) scale(0.89 1)" font-size="18.7" fill="#575757" text-anchor="end">cell surface receptor signaling pathway</text>
<circle cx="1918.8" cy="1641.1" r="5.2" fill="#1B5E20"/>
<text transform="translate(1747.7 1648.3) scale(0.89 1)" font-size="18.7" fill="#575757" text-anchor="end">G protein-coupled receptor signaling pathway</text>
<text transform="translate(1757.9 1499.5) scale(0.83 1)" font-size="20" fill="#1A1A1A">signal transduction</text>
<rect x="2102.7" y="1510.5" width="5.3" height="158.1" fill="#6BB6D6"/>
<text transform="translate(1767.1 1681) scale(0.89 1)" font-size="19" fill="#575757" text-anchor="middle">0</text>
<text transform="translate(1878.9 1681) scale(0.89 1)" font-size="19" fill="#575757" text-anchor="middle">1</text>
<text transform="translate(1990.4 1681) scale(0.89 1)" font-size="19" fill="#575757" text-anchor="middle">2</text>
<text transform="translate(2093.5 1703.5) scale(0.83 1)" font-size="20" fill="#1A1A1A" text-anchor="end">-log10 FDR</text>
</g>
</svg>
</body>
</html>
